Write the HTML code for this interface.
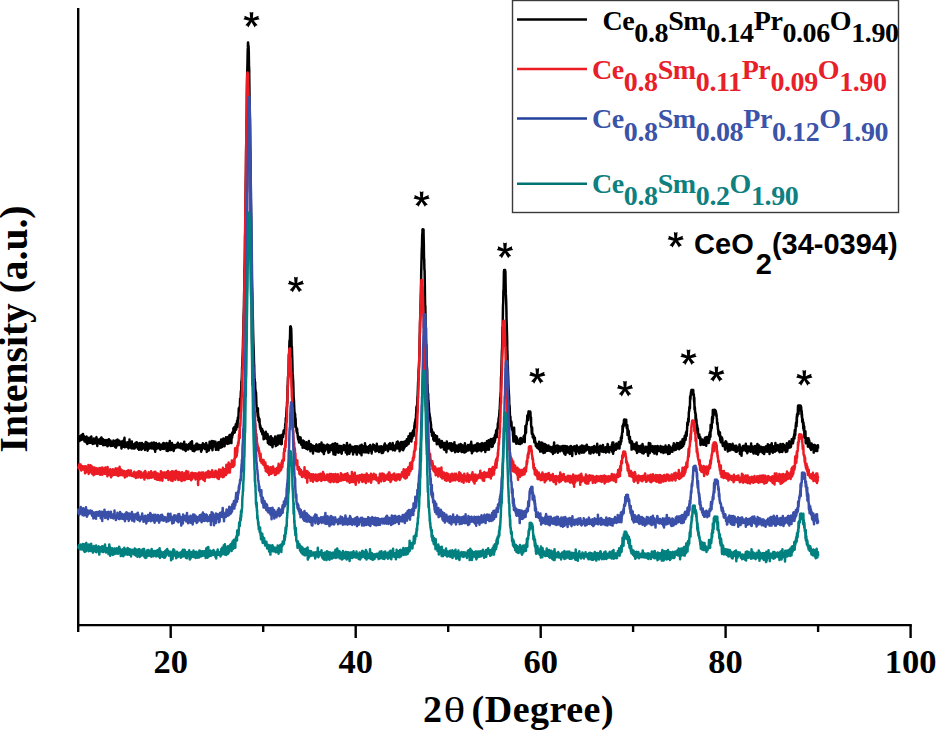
<!DOCTYPE html>
<html><head><meta charset="utf-8"><style>
html,body{margin:0;padding:0;background:#fff;}
body{width:936px;height:731px;overflow:hidden;position:relative;}
svg{position:absolute;left:0;top:0;}
</style></head><body>
<svg width="936" height="731" viewBox="0 0 936 731">
<g stroke="#000" stroke-width="2.4" fill="none" stroke-linecap="butt">
<line x1="78.2" y1="8" x2="78.2" y2="626.2"/>
<line x1="77" y1="625.1" x2="911.8" y2="625.1"/>
<line x1="78.2" y1="625" x2="78.2" y2="632.0"/><line x1="170.7" y1="625" x2="170.7" y2="638.0"/><line x1="263.2" y1="625" x2="263.2" y2="632.0"/><line x1="355.7" y1="625" x2="355.7" y2="638.0"/><line x1="448.2" y1="625" x2="448.2" y2="632.0"/><line x1="540.7" y1="625" x2="540.7" y2="638.0"/><line x1="633.1" y1="625" x2="633.1" y2="632.0"/><line x1="725.6" y1="625" x2="725.6" y2="638.0"/><line x1="818.1" y1="625" x2="818.1" y2="632.0"/><line x1="910.6" y1="625" x2="910.6" y2="638.0"/>
</g>
<g font-family='"Liberation Serif", serif' font-weight="bold" font-size="34.5" text-anchor="middle" fill="#000"><text x="170.7" y="673">20</text><text x="355.7" y="673">40</text><text x="540.7" y="673">60</text><text x="725.6" y="673">80</text><text x="910.6" y="673">100</text></g>
<g font-family='"Liberation Serif", serif' font-weight="bold" font-size="38" fill="#000">
<text x="423" y="722.2">2</text>
<text transform="translate(443.6,722.2) scale(1.26,1)" font-weight="normal" font-size="36">θ</text>
<text x="471.6" y="722.2" letter-spacing="0.5">(Degree)</text>
</g>
<text transform="translate(27.3,329) rotate(-90)" font-family='"Liberation Serif", serif' font-weight="bold" font-size="39.5" text-anchor="middle" fill="#000">Intensity (a.u.)</text>
<g fill="none" stroke-width="2.5" stroke-linejoin="round"><path d="M78.2 438.1l.2 .6 .2-1.1 .2-1.2 .1 .9 .2-1.1 .2 2.2 .2 2.7 .2-3.7 .2-.2 .2 2.3 .1-.3 .2-.4 .2-2.1 .2 1.9 .2 1.5 .2-4.2 .1 1.9 .2-2.9 .2 1.3 .2-1.1 .2 3.3 .2-2.1 .2 3.2 .1-.2 .2-.7 .2-4.7 .2 4.1 .2 1 .2 .4 .2-3.4 .1 2.2 .2-1 .2 .4 .2 3.9 .2-3.8 .2 1.6 .1 1.9 .2-2.9 .2 1 .2 .5 .2-.1 .2-2.6 .2 2.7 .1 2.7 .2-6 .2 5 .2-1.5 .2-1.5 .2 5.4 .2-2.5 .1-4 .2 2.7 .2 1 .2-1.5 .2 1.8 .2-1.5 .1 1.6 .2 1.6 .2-4.3 .2 1.8 .2-1.3 .2 1.2 .2-2.7 .1 1.3 .2 .8 .2 2.3 .2 .5 .2-5 .2 1.1 .2 3 .1-5.4 .2 3.2 .2 .8 .2 2.8 .2-1.1 .2-2.1 .1-.1 .2 .3 .2 3.7 .2-4 .2 .3 .2 1.4 .2-1 .1-.1 .2-1.9 .2 2.3 .2-.8 .2 3.3 .2-1 .2-1.4 .1 1.5 .2-2.1 .2 2.9 .2-2.1 .2 1.2 .2-3.8 .1 3.4 .2-4.2 .2-.7 .2 3.6 .2-1.2 .2 2.2 .2 4.3 .1-6.3 .2 .5 .2 1.7 .2 .7 .2-1.4 .2 0 .2 1.9 .1-.4 .2-3.2 .2 2 .2 .3 .2-2.2 .2 2.7 .1-2.3 .2 3.8 .2-1.6 .2-.1 .2-1.4 .2 1 .2-3.9 .1 1.8 .2 3.1 .2-5.1 .2 6.2 .2-5.3 .2 5.2 .2-3.3 .1 3.4 .2-1.4 .2-3.4 .2 5.8 .2 .4 .2-3.1 .1-.4 .2 .3 .2-1.7 .2 4.3 .2-3.3 .2 1 .2-1.5 .1 .4 .2-1.3 .2 5.2 .2-2.9 .2 2.3 .2-1.9 .2-1.4 .1 .7 .2-.4 .2 1.2 .2-.8 .2 .2 .2-2.2 .1 1.2 .2 5.1 .2-4.8 .2-.7 .2 2.8 .2 2.3 .2-5.9 .1 2.6 .2-.9 .2-2.3 .2 5.2 .2-1.5 .2 .2 .2-1.7 .1 2.5 .2-2 .2 .8 .2-2 .2-.2 .2 5.3 .1-3.8 .2 1.7 .2-.6 .2-.9 .2-.1 .2 2.4 .2-1.9 .1 .3 .2 .4 .2 2.4 .2-1 .2-.6 .2-1.9 .2-1.7 .1 4.8 .2 .1 .2-2.3 .2 1.5 .2 .5 .2 .1 .2 .2 .1-2.8 .2 4.1 .2-5.7 .2 4.3 .2-.7 .2 .8 .1 2.1 .2-.8 .2-5.4 .2-1.1 .2 5.2 .2-3.8 .2 2.1 .1 1.8 .2-5.1 .2-1 .2 4.9 .2-.4 .2-.6 .2 .6 .1-1.8 .2-1.3 .2 2.8 .2-1.7 .2-1.3 .2 4.4 .1-1.1 .2 .9 .2-2.8 .2 .7 .2-.7 .2 .2 .2 2.3 .1-2 .2 2.4 .2-.1 .2 3.5 .2-7 .2 4.7 .2-2 .1 .2 .2-2.9 .2 2 .2 2.5 .2-1.7 .2 .4 .1-.8 .2 3 .2-2.4 .2-4.5 .2 3.2 .2-2.7 .2-2.6 .1 5.6 .2 3.9 .2-2.6 .2-2.5 .2 .5 .2 4.3 .2-2 .1-.2 .2-.2 .2 .2 .2 1.6 .2-.5 .2-.7 .1-2.6 .2 3.2 .2-2.4 .2 3.7 .2-4.9 .2 2.3 .2 .3 .1-2.7 .2 6.3 .2-.5 .2-4 .2 2.6 .2-.8 .2-6.2 .1 6 .2-.7 .2 .4 .2-2.4 .2 1.7 .2 .2 .1 2.8 .2-1.8 .2-.6 .2 3.1 .2-4.3 .2 .4 .2-2.9 .1 7 .2-1.3 .2 0 .2-.5 .2-1.2 .2 .3 .2-1 .1 .1 .2 .6 .2 3 .2-2 .2-1.2 .2-1.1 .1-.1 .2 4.6 .2-2.2 .2-.9 .2-.9 .2-1.5 .2 2.1 .1 2 .2-2.6 .2 .4 .2 0 .2 .7 .2-3.5 .2 2.8 .1-1.3 .2 3.6 .2-3.4 .2 2.8 .2 2 .2-3.8 .1-.6 .2 1.7 .2-.4 .2-2.1 .2 3.1 .2 3.2 .2-4.7 .1 .1 .2-1.7 .2 2.8 .2-3.2 .2 .3 .2 5 .2-4.6 .1 4.2 .2 .9 .2-2.6 .2 .6 .2 2.9 .2-4.4 .1-.8 .2-1.6 .2 2.9 .2 3 .2-1.1 .2-3.9 .2 .2 .1 .7 .2 1.7 .2-1 .2 .8 .2 .2 .2-1.2 .2 .5 .1 .6 .2-.6 .2 1.2 .2 2.9 .2-2.7 .2-1.1 .1-3.6 .2 4.3 .2-4.8 .2 1.1 .2 4.7 .2-.3 .2-1.8 .1-3.2 .2 2.8 .2-.6 .2 2.7 .2 3.4 .2-4.2 .2-2.1 .1-.8 .2 2.3 .2-.2 .2-2 .2 2.6 .2-2.6 .2 4.7 .1-.1 .2 .1 .2-3.3 .2 2.1 .2-1.3 .2-.6 .1 .2 .2-2 .2-.3 .2 4.6 .2-2 .2 .9 .2 1.6 .1-5.7 .2 2 .2 2 .2 .5 .2-1.6 .2 2.9 .2-1.7 .1-3 .2 .6 .2 3.7 .2-.7 .2-4.9 .2 6.7 .1-1.5 .2 1.5 .2-3.6 .2 .2 .2-1.7 .2 7.7 .2-5.7 .1 3.7 .2-4.7 .2 1.7 .2-3.8 .2 2.7 .2 2.9 .2-4.7 .1 4.9 .2-1.5 .2-2.9 .2 1.1 .2 .1 .2 .9 .1-1 .2-.6 .2 1.1 .2-1.5 .2-.6 .2 2.6 .2 2 .1-5.1 .2 3.2 .2-1.3 .2-.7 .2 3.8 .2-2.8 .2 4.2 .1-4.8 .2 2.5 .2-1.3 .2-1.1 .2 2.8 .2-1.5 .1 1.6 .2-1.4 .2-2.1 .2 2 .2 .4 .2 1.9 .2-3.9 .1 1.8 .2-3.5 .2 4.9 .2-3.6 .2-1.5 .2 3.7 .2 2.4 .1-5.5 .2 .9 .2 .8 .2-.8 .2 3.1 .2-2.5 .1 .2 .2 2.8 .2-2.8 .2 2.5 .2-3 .2-.5 .2-1.3 .1 7.8 .2-4.6 .2 1.2 .2-.6 .2 .4 .2-.2 .2 3.9 .1-6.2 .2-1.1 .2 1.2 .2-.7 .2 4.4 .2 .2 .1-3.8 .2-.9 .2 2.2 .2 3.7 .2-8.9 .2 7.1 .2-3.4 .1 4.5 .2-4.5 .2 1.7 .2-2.6 .2 1.1 .2 5 .2-1.2 .1-2.5 .2-1 .2-2.2 .2 3.2 .2 .8 .2-.2 .1 0 .2-2.1 .2 2.2 .2 .1 .2 2.8 .2 1.2 .2-4.2 .1-1.4 .2 1.5 .2-1.1 .2-.3 .2 1.4 .2-2 .2 3.4 .1-1.4 .2 .7 .2-.9 .2-1.2 .2-.4 .2 1.5 .1-.7 .2 1.7 .2-.5 .2-2.9 .2 3 .2-2.9 .2 1.5 .1 .7 .2-3.8 .2 4.6 .2 .1 .2-.6 .2-.6 .2 .1 .1-1.2 .2 1.5 .2-.6 .2 1.3 .2-2.7 .2 3 .1-.2 .2-.6 .2-.6 .2 2.1 .2-4.7 .2 4.5 .2-.4 .1 0 .2 .3 .2-2.2 .2 .8 .2 1.9 .2-.4 .2-.5 .1-3.7 .2 4.4 .2 1.3 .2-.3 .2-1.6 .2-3.8 .1 5.3 .2-2.3 .2-5.1 .2 6.2 .2-4 .2 .4 .2 1.4 .1 4.1 .2-3.5 .2 1.3 .2 3.2 .2-.3 .2-3.7 .2-.2 .1-2.2 .2 1.2 .2 2.4 .2-.1 .2-.6 .2 1.9 .2-3.8 .1 1.5 .2 1.7 .2-.3 .2 1 .2-1.4 .2-1.5 .1 1.4 .2-2.9 .2-1.3 .2 4.7 .2-1.4 .2 .8 .2-4.3 .1 2.9 .2-.5 .2-.6 .2-3 .2 4.1 .2 2.7 .2-1.2 .1-2.1 .2 1.3 .2 1.6 .2-7.5 .2 5.7 .2 1.4 .1 .3 .2 2.2 .2-1.3 .2-1.7 .2-.1 .2 1.1 .2-2.9 .1 1.1 .2 2 .2 2.3 .2-4.6 .2 .3 .2 .5 .2 2.5 .1-3 .2 3.2 .2-5.2 .2 1.7 .2-.1 .2 2.1 .1 .6 .2-5.5 .2 1.3 .2 2.6 .2-2.1 .2-1.9 .2 5.5 .1-1.1 .2 0 .2-2.1 .2 3.2 .2-2.7 .2 2.8 .2-4.3 .1 .1 .2 2.3 .2-2 .2 3 .2-.9 .2-2.6 .1 2.2 .2-1 .2 2.8 .2-3.4 .2 .4 .2 3.6 .2 2.2 .1-.5 .2-4.2 .2 .3 .2 2.9 .2-3.7 .2-1.8 .2 2.4 .1 .7 .2-2.8 .2-1.8 .2 .4 .2 4.6 .2-3.1 .1 1.3 .2 .8 .2 .9 .2-2.1 .2 1.8 .2-3.1 .2 1.2 .1-1.5 .2 4.7 .2-2.5 .2-1.6 .2 .8 .2 .3 .2 2 .1-5 .2 1.2 .2 1.4 .2 6.3 .2-3.4 .2-2.4 .1 1.8 .2 3 .2-5.1 .2-.3 .2 3.5 .2-1.6 .2 .3 .1-2.6 .2 5.4 .2-.5 .2-2.6 .2 .3 .2-6 .2 5.8 .1-1.8 .2 1.4 .2 .5 .2-2.3 .2-3 .2 4.5 .1-2.4 .2 .8 .2-.6 .2 .6 .2-4.4 .2 7.8 .2-2.2 .1 1.9 .2 1.9 .2-4.4 .2-4 .2 1.9 .2-.7 .2 1.6 .1 1.2 .2-4.6 .2 5.1 .2-4.1 .2 4 .2-.9 .1-.5 .2 .5 .2-1.1 .2-.2 .2-2.4 .2 3.6 .2 4.2 .1 .3 .2-1.5 .2-1.5 .2-3.1 .2 4.7 .2-3.4 .2-.1 .1-.5 .2 .8 .2-1.2 .2 .7 .2-2.2 .2 1.5 .1 5.9 .2-5.3 .2-.4 .2 1.7 .2 .3 .2-4.2 .2 2 .1 2.5 .2-1.5 .2-.4 .2 3.2 .2-5.1 .2 1.7 .2-1.5 .1 4.6 .2-7.9 .2 2.8 .2 .3 .2 2.6 .2-.2 .2 1.8 .1-6.9 .2 5.2 .2-2.4 .2-.9 .2 2.6 .2-3.4 .1-2.7 .2 3.8 .2-2.7 .2 1.9 .2 2.3 .2-.3 .2 2.9 .1-4.2 .2-3.2 .2 1.7 .2-.5 .2-.8 .2 3.7 .2-2.6 .1-3.2 .2 6.1 .2-2 .2 1 .2-.7 .2 1.1 .1-1.5 .2 2.7 .2-2.1 .2-.2 .2-.1 .2-4.6 .2 2.9 .1-.3 .2 .9 .2-3.9 .2 7 .2-3.9 .2-3.3 .2-1.4 .1 3.3 .2 .2 .2-1.7 .2 1.8 .2-2 .2 2.6 .1-3.3 .2 1.4 .2 2.3 .2 3.6 .2-9 .2 1.1 .2-1.2 .1 3.7 .2-5.1 .2 1.4 .2 .8 .2-2.7 .2-.3 .2 .9 .1-4.5 .2 1.3 .2 2.2 .2 1 .2-1.3 .2-4.4 .1 2.8 .2 2.8 .2-1.1 .2-2.1 .2-2.6 .2 3.3 .2-3.7 .1-2.1 .2 .3 .2 5.2 .2-3.8 .2 1.7 .2-5 .2 3 .1-4.9 .2 .3 .2 6.2 .2-5.5 .2-4.4 .2 .1 .1 .1 .2 1.2 .2-5.8 .2-4.7 .2 2.7 .2-.6 .2-1.2 .1 1.8 .2-4.5 .2-.4 .2-7.4 .2 3.6 .2 1.4 .2-6.2 .1-4 .2-3 .2 1.9 .2-11.2 .2-1 .2-1.9 .1-3 .2-7.9 .2-2.2 .2-6.8 .2-4 .2-6.6 .2-9.5 .1-2.9 .2-4.1 .2-13.9 .2-5.7 .2-5.6 .2-15.6 .2-5.5 .1-15.2 .2-3.2 .2-7.4 .2-13.5 .2-21.8 .2-10 .1-16.7 .2-14.8 .2-9.1 .2-27 .2-5.3 .2-19.7 .2-8.3 .1-19.1 .2-16.6 .2-7.3 .2-7.8 .2-11.1 .2-3.7 .1-4.9 .1 0 .1 2.4 .2 .6 .2 1.5 .2 6 .2 12.7 .2 3.6 .1 10.7 .2 15.4 .2 19.9 .2 3.6 .2 26 .2 7.5 .2 13.3 .1 24.5 .2 9.2 .2 9.4 .2 17.3 .2 18 .2 13.3 .2 5.7 .1 14.2 .2 11.6 .2 5 .2 12.8 .2 7.3 .2 6.4 .1 7.7 .2 8.9 .2 6.4 .2 4.1 .2 6.1 .2 10.1 .2 2 .1 6.6 .2 5.1 .2 1.9 .2 8.7 .2-6 .2 7.9 .2-.4 .1 9 .2 2 .2-8.3 .2 5 .2 6.8 .2 2.2 .2 1.6 .1-.6 .2 3 .2 2 .2-.6 .2 4.4 .2-7.8 .1 9.1 .2-3.4 .2 6.4 .2-2.2 .2-.8 .2 4.3 .2-2.6 .1 .9 .2-1 .2 4.9 .2 2.1 .2 2 .2-2.4 .2 3.8 .1-2.1 .2 .3 .2 2.2 .2 1.8 .2-3.1 .2 .8 .1 .7 .2 1 .2-2 .2 5.3 .2-3.2 .2 2.5 .2-2.8 .1 3.3 .2 .4 .2-1.6 .2 6.4 .2-3.8 .2 3.7 .2-1.7 .1-3.7 .2 .9 .2 2.3 .2-.7 .2 .3 .2-.6 .1-3.5 .2 4.1 .2-4.7 .2 6.5 .2-2.4 .2 .2 .2 1.4 .1 1.3 .2-3.9 .2-.6 .2 1.8 .2-2.2 .2 2.8 .2 6.3 .1-6.3 .2 4.3 .2-4.7 .2 4.1 .2-1.4 .2 .8 .1 1.6 .2 2.9 .2-3.6 .2-.1 .2-2.5 .2 3.8 .2-1.9 .1 2.7 .2-2 .2 4.3 .2-8.8 .2 4.1 .2 2.9 .2-2.9 .1-1 .2 1.3 .2-2.5 .2 3.5 .2 5.6 .2-3 .1-5.3 .2 .6 .2 1.1 .2 3.4 .2-4.3 .2 .3 .2 3.8 .1-.1 .2-2.9 .2-1.7 .2-1 .2 2 .2-3.6 .2 7 .1-3.2 .2 2.6 .2 3.2 .2-1.6 .2-5.5 .2 4.7 .1 .6 .2-4.5 .2-.5 .2 1.9 .2-3.5 .2 7.2 .2-9.2 .1 3 .2 1.9 .2 0 .2 .8 .2 .2 .2-1.2 .2 3.1 .1-7.9 .2 4.9 .2-1.8 .2 1.9 .2 0 .2-2.8 .1 .5 .2 3.2 .2-1.2 .2-2.7 .2 6.3 .2 .4 .2-9.3 .1 4 .2 5.1 .2-4.5 .2-1.7 .2-1.4 .2-1.2 .2 .4 .1-1.2 .2 2.7 .2-3.3 .2-.7 .2-2.4 .2 2.2 .1-2.8 .2 1 .2 2.3 .2-2.6 .2-.6 .2-1.4 .2-2 .1-1.7 .2-1.9 .2 1.2 .2-6.6 .2 4.6 .2-5.5 .2-4.4 .1-1.8 .2-3.2 .2-.6 .2-5.7 .2 1.8 .2-9.3 .1-8.5 .2 .2 .2-8.5 .2 1.1 .2-1.7 .2-6.6 .2-11.7 .1-3.8 .2 2.7 .2-10 .2-6.1 .2-1 .2 .7 .2-7 .1-6.1 .1-1 .1 1.4 .2-1.4 .2 0 .2 2.2 .2-.5 .2 6.6 .1 4.9 .2 12.2 .2-5.2 .2 7.8 .2 5.4 .2 7.4 .1 7.3 .2 .4 .2 4 .2 2.4 .2 6.6 .2 8.5 .2 2.5 .1 .6 .2 5.2 .2 4.2 .2 4.1 .2-.4 .2 3.4 .2-2.1 .1 3.8 .2 9.2 .2-8.4 .2 6.4 .2 2.8 .2-.2 .1 0 .2 3 .2 1.1 .2 .7 .2-3.7 .2 5.1 .2-1.1 .1 1.4 .2 2.6 .2 1.5 .2 1.2 .2-3 .2 3.9 .2 1.1 .1 .3 .2 .9 .2-3.3 .2 .3 .2 2.7 .2-4.9 .1 4 .2-1.5 .2 .6 .2-2.9 .2 2.2 .2 2.3 .2 2.3 .1 .4 .2-2.3 .2 0 .2-1.4 .2 3.1 .2-1.4 .2 2.1 .1 2.8 .2-3.9 .2-3.3 .2 1.6 .2-1.2 .2 .7 .1 5.8 .2-2.3 .2-3.9 .2 5.1 .2 1.4 .2-3.5 .2-.7 .1 .9 .2 1.5 .2 .9 .2 1.3 .2 .1 .2 0 .2 .5 .1-1.5 .2-4.9 .2 3.2 .2 1.1 .2-1.5 .2 3 .1-2.8 .2-1.2 .2 5.3 .2-1.7 .2-.9 .2 1.6 .2 .4 .1-1.6 .2-6.2 .2 4 .2 .6 .2-1.1 .2 2.6 .2 2.3 .1-3.7 .2-1.4 .2 7 .2-5.4 .2-1.7 .2 3.3 .1 .4 .2-2.4 .2 3.3 .2-2.8 .2-.9 .2 2.4 .2 1.4 .1-3.1 .2 2.2 .2-.9 .2 6.4 .2-7.7 .2 4.6 .2-3.1 .1-.2 .2 1.9 .2 .4 .2 .8 .2-2 .2-2 .1 .2 .2 2.3 .2 .1 .2 1.8 .2-2.1 .2 1.4 .2 1.1 .1-3 .2-3.5 .2 .6 .2-.5 .2 6.6 .2-5.3 .2 4.6 .1-1.4 .2 2.4 .2-1.5 .2-2.4 .2-.2 .2 .7 .1 .2 .2-1.5 .2 1.1 .2 3.5 .2-7.1 .2 4.2 .2-2.5 .1 2.4 .2 1.4 .2-1.9 .2 1.8 .2-5.1 .2 5.9 .2-3.7 .1 2.6 .2-.9 .2-6 .2 4 .2 2.1 .2 2.9 .1-2.7 .2-.1 .2-3.6 .2 6.2 .2 .8 .2-3.8 .2-.6 .1-3 .2 5.4 .2 4 .2-4.3 .2 1.2 .2-1.6 .2-3.2 .1 5 .2-5.5 .2 2.2 .2 1 .2 1.3 .2-1 .2 0 .1-2.5 .2-1.1 .2 2.9 .2-1.6 .2-1.3 .2 .1 .1 1.7 .2-3 .2 1.1 .2-.6 .2 3.9 .2 .5 .2 3.4 .1-7.5 .2 1.8 .2 3.4 .2-2.4 .2-.2 .2 4.3 .2-4.3 .1-1.8 .2-.3 .2 3.5 .2 0 .2-3.6 .2 .8 .1 3.3 .2 .1 .2-2.6 .2 2.7 .2-.1 .2-5 .2 3.1 .1 1.6 .2-2.1 .2-3.4 .2 4 .2 2.2 .2 1.8 .2-8.1 .1 10.3 .2-8 .2 4.5 .2 .6 .2-.6 .2-1.7 .1-2.8 .2 3.8 .2-2.9 .2-3.8 .2 11.4 .2-4.5 .2 2.3 .1-5.8 .2 5.1 .2 .3 .2-.1 .2-3.4 .2-2.5 .2 2.2 .1-4.3 .2 1.1 .2 3.8 .2-2.3 .2 1.8 .2 .1 .1 4.3 .2-1.3 .2-2.9 .2 2.7 .2-4.2 .2 .9 .2 2.7 .1-4.6 .2 2 .2-2.2 .2 3.1 .2 3.2 .2-5 .2 2 .1-2.4 .2-.5 .2-.2 .2 5.8 .2 1.9 .2-4 .1-2.5 .2 3 .2-2.2 .2 2.4 .2-1.1 .2 0 .2 .7 .1-2.5 .2 .3 .2-2.8 .2 2.8 .2-2.1 .2 2.7 .2-1.7 .1 2.2 .2 .8 .2-4 .2 1.3 .2-.3 .2 3.6 .1 2 .2-1.8 .2-2.5 .2 3.8 .2-6.3 .2 6.4 .2-4.6 .1-4.5 .2 11.6 .2-2.3 .2-5.6 .2 2.6 .2-.8 .2 .7 .1-3.4 .2 1.7 .2 2.4 .2-.5 .2 2.1 .2-2.4 .1 4.8 .2-6.5 .2 2.1 .2-4.6 .2 1.4 .2 5.5 .2-4.9 .1 3.2 .2-1.3 .2-2.1 .2 1.5 .2-.3 .2 0 .2 2.7 .1-.3 .2-2.6 .2-.7 .2 2.6 .2-.9 .2 2.4 .1 3.5 .2-3.9 .2-1.8 .2-.3 .2-1.5 .2-.1 .2-.2 .1 1.3 .2 0 .2 2.4 .2-2.4 .2 .4 .2-2.1 .2 6 .1-2.4 .2 2.8 .2-2.2 .2 1.5 .2-3.7 .2 2.1 .1 4.2 .2-8.3 .2 5.1 .2 1.1 .2-2.7 .2 .7 .2 1.1 .1-4.2 .2 2.3 .2-2.7 .2 .4 .2 .1 .2 1 .2 .7 .1 .6 .2-4 .2 7.4 .2-1.8 .2-1 .2-2.3 .2 .6 .1 1.3 .2-.3 .2-4.5 .2 5.3 .2 4.7 .2-10.4 .1 6.2 .2-1.4 .2-1 .2 3.2 .2-5.5 .2 2.9 .2 2.8 .1-3.6 .2-.5 .2 1.2 .2-1.2 .2 4.3 .2-5.4 .2 3.9 .1-4.6 .2 4.2 .2-1.7 .2-5.4 .2 5.6 .2-2.3 .1 1.3 .2 4.4 .2-5.8 .2 .1 .2 5.4 .2-2.8 .2 3.1 .1-2.7 .2-2.6 .2 1.7 .2 2.9 .2-.7 .2-2 .2 .1 .1-.4 .2-1 .2 5.5 .2-4.2 .2-2.5 .2 1.4 .1 2.7 .2-.2 .2-1.7 .2-1.2 .2 1.5 .2-3.7 .2 .8 .1 4.6 .2-2.8 .2 1.9 .2 1.8 .2-1.3 .2-1.3 .2 4.6 .1-3.2 .2-2.3 .2 2.4 .2-.7 .2-2.8 .2 2.1 .1-.6 .2-3.9 .2 3.9 .2-.2 .2-.4 .2-2.6 .2 2.8 .1 .7 .2 .3 .2-2.7 .2 3.8 .2-4 .2 2.1 .2 3.4 .1-4.4 .2 .4 .2 3.5 .2-3.2 .2 .2 .2 1.1 .1 1.8 .2-7.2 .2 3.1 .2-.4 .2-.2 .2 .5 .2 0 .1 2.5 .2-2.6 .2 2.2 .2 .6 .2-2.5 .2 1.9 .2 3.3 .1-2.9 .2-2.1 .2 1.3 .2-1.9 .2 2.6 .2 1.3 .1-3.7 .2 1.3 .2 2.9 .2-3.5 .2 1.4 .2-2.6 .2 .4 .1 .7 .2 5.8 .2-5.6 .2-.3 .2 0 .2 .8 .2 1.8 .1-1 .2 4 .2-4 .2 2.6 .2-2.5 .2 .7 .1-4.4 .2 2.8 .2 .1 .2-.4 .2-4.1 .2 6.5 .2-2.7 .1-.1 .2 .4 .2 0 .2 1.4 .2-3.7 .2 .7 .2 2.7 .1-.4 .2-1.1 .2-.4 .2-.6 .2 1.6 .2 2.7 .1-4.8 .2 5.5 .2-1.5 .2-2.8 .2 2.7 .2-4.9 .2-.6 .1 .9 .2 1.9 .2 .2 .2-.4 .2 1.3 .2-4.9 .2 5.7 .1-4.2 .2 1.7 .2 .5 .2-1.7 .2-.4 .2 .7 .1 2.2 .2 1.3 .2-.1 .2-3.4 .2 .4 .2-.3 .2 3 .1-5.5 .2 7.1 .2-3.8 .2-.6 .2 2.4 .2 1.5 .2-1.5 .1 1.5 .2-2 .2 2.3 .2 0 .2-2.9 .2 3.3 .1-2.8 .2-.2 .2-2.3 .2 1.4 .2 2.3 .2-4.6 .2 4.3 .1-.7 .2-.2 .2-5.6 .2 4.7 .2 1.6 .2-3.2 .2 1.9 .1-5.5 .2 6.7 .2-3 .2 3.4 .2-6.1 .2 5.6 .2-2.1 .1 2.2 .2-3.9 .2 .7 .2 6.3 .2-6.9 .2 .2 .1 .9 .2-1.7 .2 4.9 .2 1.1 .2-5.5 .2-2.3 .2 6.4 .1-.2 .2-.7 .2 .7 .2-4.6 .2 1.5 .2-2.8 .2-.2 .1 5.4 .2-3.9 .2 6.7 .2-5.1 .2-1.7 .2 3.2 .1 2.2 .2-3.1 .2-4 .2 3.5 .2 2.2 .2-4.4 .2-.7 .1 4 .2-2.1 .2-3 .2 1.5 .2-1 .2 2.3 .2-.5 .1 2.2 .2-1.1 .2-5.5 .2 4.5 .2 1 .2-1.2 .1 1.2 .2-3.9 .2-1.1 .2 4.2 .2-4.9 .2-2.8 .2 7.4 .1-4.4 .2 .8 .2-2.9 .2 0 .2 .1 .2 1.7 .2 1.4 .1-6.7 .2 7.1 .2-5 .2 0 .2 3.9 .2-2.2 .1-3.9 .2 7.9 .2-7.1 .2 2.4 .2-.6 .2 2.6 .2-5.1 .1 3.1 .2-4.9 .2 4.1 .2-5.3 .2 .4 .2 5.1 .2-4.7 .1-1.3 .2 4.7 .2-5.6 .2-3.9 .2 3.1 .2-6 .1 5 .2-.9 .2-5.9 .2-1.5 .2 .8 .2-2 .2-4.3 .1 2.4 .2-9 .2 2.3 .2-2.1 .2-2 .2-1 .2-7.2 .1 2.2 .2-5.5 .2-5 .2-6 .2-3.6 .2 .2 .1-8.9 .2-1.9 .2-2.4 .2-5.9 .2-4.5 .2-12.7 .2-9.6 .1-.4 .2-10.1 .2-5.2 .2-12.2 .2-4.3 .2-9.8 .2-9.1 .1-9.2 .2-8.6 .2-8.4 .2-7.2 .2-3.4 .2-11.1 .1 4.3 .2-9.2 0 3.3 .2-3.3 .2 0 .2 6.4 .2-6.4 .2 0 .1 6.5 .2 7.2 .2 15.9 .2-.1 .2 10.5 .2 1 .2 13.4 .1 9.6 .2 12.4 .2-.4 .2 12.6 .2 6.9 .2 3.1 .1 10.6 .2 6.1 .2-.1 .2 15.5 .2 5.6 .2 2.3 .2 2.3 .1 13.3 .2 .7 .2 6.3 .2 4.9 .2-2.2 .2 7.1 .2-.1 .1 3.3 .2 2.5 .2 2.6 .2 5.3 .2-.8 .2 1.1 .1 1.4 .2 3.3 .2-1.9 .2 2.5 .2 2.5 .2-.2 .2 2.3 .1-.2 .2 7.8 .2-.9 .2-1.4 .2-.5 .2 6.5 .2-4.1 .1-.3 .2 1.6 .2 .6 .2 3.3 .2-3 .2 5.8 .2-6.9 .1 4.3 .2-3.7 .2 7.4 .2-4.9 .2 1 .2 2.8 .1 1.2 .2-5.4 .2 2.1 .2-2.2 .2 4 .2-.3 .2-.3 .1-.5 .2 1 .2-.7 .2 3.3 .2 2.6 .2-8 .2 4.5 .1-.5 .2 2.4 .2-3.2 .2 2 .2-1.9 .2 4.3 .1-1.3 .2-.4 .2 1.4 .2-1.3 .2-2.9 .2 5.1 .2-.6 .1-.9 .2 2.8 .2 .7 .2-5.3 .2 .9 .2 5.4 .2-.2 .1-4.8 .2-.9 .2 1.3 .2 .4 .2-2.4 .2 3.8 .1-2.9 .2 .3 .2 4.9 .2-3.6 .2 1.5 .2 1.7 .2 .5 .1-2.6 .2 1 .2-1.9 .2 5.9 .2-2.5 .2-3.9 .2 2.6 .1 1.7 .2-.5 .2 3.1 .2-1 .2-4.2 .2 1 .1-2.6 .2 3.5 .2-.2 .2 5.8 .2-5.8 .2-4.9 .2 3.2 .1 1.8 .2-3 .2 .9 .2 1.2 .2 1.6 .2-1.1 .2-1.5 .1 3.7 .2-2.9 .2 .1 .2-1.9 .2 1.4 .2 3.2 .1-5 .2 3.4 .2 1.8 .2-2.4 .2 1.4 .2-3 .2 5.4 .1-.4 .2-1.9 .2-4.4 .2 1.6 .2 4.5 .2 1.7 .2-3.1 .1 2.1 .2-4.1 .2 1 .2 .4 .2 1 .2-4.3 .1 5.4 .2 .9 .2-5.4 .2-.4 .2 3.7 .2-2.2 .2-3.7 .1 7 .2-1.4 .2-1.4 .2 5.7 .2-4.3 .2-2 .2 1.9 .1-2.5 .2 .7 .2 2.5 .2-2.1 .2 .3 .2 4.6 .1-1.7 .2-.1 .2-.6 .2-.1 .2 2.1 .2-3.2 .2 4.1 .1-6.1 .2 1.5 .2-2.4 .2 2.2 .2 1.9 .2 2.1 .2-4.6 .1 1.4 .2-.7 .2-.9 .2-.9 .2 2.7 .2-3.9 .1 4 .2-.2 .2-1.4 .2-.8 .2-.8 .2 7.1 .2-7 .1 6.3 .2-2.1 .2-2.1 .2-1.7 .2 4.8 .2 1.5 .2-5.8 .1 1.4 .2 2.9 .2-1.5 .2 3.6 .2-5.6 .2 2.4 .1-3.8 .2 7.2 .2-6.1 .2-3.2 .2 4.5 .2 0 .2 4.4 .1-4.9 .2 .8 .2 1.3 .2 2.1 .2-3.6 .2 2.4 .2-1.1 .1-1.8 .2 .9 .2-.2 .2-2 .2 4.6 .2-5.6 .2 5.5 .1-.5 .2-2.2 .2-1.5 .2 1.2 .2 1.5 .2 .6 .1-1 .2 1.5 .2-3.4 .2 1.8 .2-4 .2 5.1 .2-1.3 .1-1.3 .2 3.4 .2-1 .2-7.6 .2 6.2 .2-3.3 .2 5.5 .1 3.1 .2-6.6 .2 1.3 .2-.7 .2 1.3 .2 .7 .1 1.3 .2-4.9 .2 5.5 .2-5.4 .2 2.6 .2 1.9 .2-1 .1-3.6 .2 .5 .2 .5 .2 .9 .2 2.6 .2-5.3 .2 3.8 .1 .3 .2-.1 .2-.2 .2 2.3 .2-2.3 .2 .8 .1-.7 .2 2.7 .2-8.1 .2 7 .2-3.4 .2-.1 .2-1.5 .1-2 .2 3.2 .2-.7 .2 2.6 .2-4.3 .2 6.3 .2-2.6 .1-1.1 .2-1.1 .2-.2 .2-.7 .2 1.2 .2 1.2 .1-.4 .2-2.8 .2 2.5 .2-1.4 .2 2.3 .2 3.8 .2-2.8 .1-2.1 .2-3 .2 .5 .2-.7 .2 5.3 .2-3.3 .2 1.8 .1-1.6 .2 1.6 .2 2.9 .2-4.7 .2 .7 .2-1.1 .1 3.7 .2-4.3 .2-.3 .2-.6 .2-.1 .2 4.2 .2 4.6 .1-8 .2 4.3 .2-1.6 .2-3.2 .2 1.8 .2 .1 .2-1.1 .1 5.8 .2-8.7 .2 5.1 .2-.2 .2-2.2 .2 1.6 .1 1.6 .2-1.7 .2 .5 .2 .5 .2-6.3 .2 7.9 .2 1.7 .1-3 .2-.1 .2-5.6 .2 2.8 .2-1.7 .2 .4 .2 3.4 .1-4.2 .2 1.4 .2-4.3 .2 3.9 .2 .5 .2-2.1 .1-.2 .2 5.9 .2-7.4 .2 .2 .2 .3 .2 4.5 .2 2 .1-4.5 .2-2.7 .2 .4 .2 3.3 .2-5 .2 5.4 .2-.4 .1-3.6 .2 1.1 .2-.1 .2 1.6 .2-6.8 .2 5.1 .1-4.3 .2-1.4 .2 1.6 .2-1.3 .2-2.5 .2-2.1 .2 1 .1 5.4 .2 .5 .2-4 .2 .5 .2-5.2 .2 .2 .2-.1 .1-4.7 .2-1 .2 1.6 .2-2.5 .2-3.6 .2 2.2 .1-3.6 .2 1.5 .2-5 .2-3.2 .2-1.4 .2-3.7 .2-4.5 .1-2.7 .2-.3 .2-4.3 .2-2.5 .2-13.6 .2-1.2 .2-5.6 .1-4 .2-8.3 .2-6.9 .2-2.8 .2-9.3 .2-12.1 .2 .7 .1-9 .2-13.3 .2-2.7 .2-12.8 .2 0 .2-10.7 .1-7.1 .2-2.1 .1 0 .1 0 .2 0 .2 0 .2 0 .2 0 .1 4.3 .2-2.8 .2 13.1 .2 9.2 .2 3.5 .2 4.7 .2 8.1 .1 7.7 .2 6.2 .2 7.4 .2 6.2 .2 14 .2 2.8 .1 9.6 .2 2.2 .2 6.7 .2 4.6 .2 6.9 .2 5.7 .2 2.5 .1 1.2 .2 3.4 .2 10.3 .2-2.5 .2 2.8 .2 7.4 .2 1.3 .1 .6 .2-.6 .2 9.2 .2-3.6 .2 1.9 .2-.5 .1-2 .2 1.4 .2 5.6 .2 1 .2-.7 .2-1.6 .2 .2 .1 3.5 .2-2.1 .2 6.6 .2 1.2 .2 4.7 .2-4.3 .2-3.2 .1-.2 .2-5.9 .2 7.5 .2 1.4 .2 3.1 .2-.5 .1 .3 .2-.6 .2 1.3 .2 2.2 .2-5.8 .2 1.7 .2-2 .1 7.4 .2-.5 .2-1.2 .2-4.4 .2 3.4 .2-.8 .2 .9 .1-.5 .2 1.8 .2-2.1 .2 3.1 .2-1.4 .2-1.1 .1 .5 .2-.7 .2 3 .2-2.5 .2 1.3 .2-1.6 .2-2.5 .1 5.6 .2-4.6 .2 4.1 .2-.7 .2-4.9 .2 1.7 .2 .9 .1-.8 .2-.9 .2 4.4 .2-2.4 .2 1.3 .2-2.1 .1 1.6 .2-2.8 .2 1.5 .2 1.2 .2-1.6 .2-1.5 .2-1.9 .1 2.6 .2 0 .2-2 .2-1.8 .2 2.6 .2 4.1 .2-7.6 .1 .8 .2-.8 .2-8.4 .2 5.8 .2-3.3 .2 4.2 .1-5.5 .2-2.7 .2 .1 .2-.5 .2-3.4 .2-.2 .2-5 .1 1.5 .2 1.3 .2 2 .2-4.7 .2-2.2 .2 1.7 .1-3.7 .1 4.5 .1-2 .2-2.5 .2 .3 .2 .2 .2 .9 .2 .5 .1-1.7 .2-.2 .2 2.9 .2-2.3 .2 7.2 .2 1.3 .2-3 .1 7.8 .2 2 .2-.6 .2 5.5 .2 1.8 .2-6.5 .2 6.9 .1-.4 .2 1 .2 2.3 .2-3.2 .2 1.2 .2 .2 .1 .9 .2 2.3 .2-2.6 .2 1.5 .2 4.4 .2-1 .2 1.5 .1-4.9 .2 2.9 .2 .9 .2 1.7 .2-1.1 .2 3.8 .2-2.1 .1 .4 .2 .2 .2 1.8 .2-2.5 .2 3.8 .2-1.3 .2-.6 .1-.1 .2 1.3 .2 1.2 .2 0 .2-1.2 .2 1.2 .1-1.6 .2 2.7 .2-2.8 .2-4.5 .2 7.7 .2-2.6 .2-2.8 .1 2.2 .2-1.4 .2 6.7 .2-3.5 .2-4.5 .2 4.7 .2-2 .1 5.1 .2-6.4 .2-2.6 .2 5.1 .2-.8 .2-.1 .1-3.8 .2 5.7 .2 2.8 .2-7.8 .2 6.7 .2-3.7 .2 6.4 .1-4.2 .2-1.3 .2 2.9 .2-1.3 .2-2.4 .2 2.9 .2-2.6 .1-2.8 .2 8.4 .2-5.2 .2-.5 .2 2.1 .2-4.1 .1 .4 .2 1.9 .2 0 .2 1.3 .2 2.3 .2-3.4 .2 2.1 .1 .2 .2-3.6 .2 2.9 .2-2.6 .2 4.4 .2-1.3 .2-.9 .1-2.9 .2 3.1 .2-1.9 .2 3.2 .2-1.7 .2-1.5 .1 3.7 .2-.4 .2-2.8 .2 3.8 .2-3.1 .2 0 .2 .9 .1-1.9 .2 .7 .2 .6 .2 3.7 .2-.1 .2-3.8 .2 4.1 .1-3.6 .2 .9 .2 1.1 .2-1.2 .2 4.5 .2-4.6 .1-3.1 .2 5.4 .2-3.7 .2 .3 .2-5.8 .2 8.6 .2-.4 .1 0 .2 .3 .2 1.6 .2-3.7 .2 2.1 .2-3.6 .2 .8 .1 3.1 .2-1.5 .2-3.6 .2 3.6 .2-1.2 .2-1.3 .1 2.7 .2-1.8 .2-2.5 .2 1 .2 6.1 .2-6.9 .2 3.7 .1 .8 .2 .1 .2-4 .2 1.9 .2 1 .2 1.4 .2-3 .1-1.1 .2 4.6 .2 .2 .2-1.6 .2-2 .2 2.1 .1-.6 .2 1.5 .2-4.4 .2 2.9 .2-.5 .2-2.1 .2 2.9 .1-.4 .2-1 .2 1.8 .2-3.9 .2 2.9 .2 1 .2-.3 .1 1.7 .2-4.8 .2-.6 .2 3.7 .2 .4 .2 3.5 .1-3.1 .2-3.2 .2 3.6 .2-3.5 .2-1.4 .2 8.7 .2-4.8 .1 .8 .2-.3 .2 2.6 .2-3.2 .2 2 .2-4.8 .2-.7 .1 5.9 .2 .1 .2-2 .2-.6 .2-.1 .2-1.8 .1 4.7 .2-1.9 .2-.3 .2-.3 .2 1.4 .2-1.1 .2 .5 .1-4 .2 3.5 .2 3.6 .2-5.7 .2 .8 .2 2.1 .2 .2 .1-.7 .2-4.7 .2 4.4 .2-3.5 .2 .7 .2 2.9 .2-1.7 .1 2.3 .2 4.9 .2-5 .2-.1 .2-3.4 .2 .5 .1-.8 .2 1.1 .2-1.2 .2 .9 .2 1 .2-1.7 .2-.9 .1 .1 .2 3.9 .2-.9 .2 2.1 .2 0 .2-2.9 .2 2.1 .1-4.4 .2 7.8 .2-2.3 .2-2.9 .2-2 .2 3.2 .1-4.7 .2 2.3 .2 3.2 .2-1.4 .2-1.2 .2 3 .2-4.1 .1 2.7 .2-1.6 .2-.7 .2 2.7 .2-3 .2 6 .2-5.2 .1 5.4 .2-6.5 .2 3.6 .2-3.8 .2-.3 .2 3.2 .1 1.1 .2-4.1 .2 5.1 .2-4.1 .2 1.9 .2 .5 .2 .5 .1-5 .2 7.1 .2-2.2 .2-2 .2-1.3 .2-1.4 .2 .7 .1 4 .2-1.9 .2-1.6 .2 1.2 .2 4.4 .2-3.9 .1-.6 .2 4.1 .2-1.9 .2-.9 .2-1.3 .2-2 .2 .8 .1 1.4 .2 .6 .2 1.2 .2 .4 .2-.7 .2 0 .2-2.6 .1-2.4 .2 3.5 .2-.9 .2 .6 .2 .8 .2-2.1 .1 .3 .2 2.1 .2 .5 .2-1.6 .2 2.4 .2-1.5 .2-1.7 .1 2.2 .2 3.9 .2-5.4 .2 3.9 .2 .4 .2 .3 .2-4.9 .1 6 .2-4 .2-.8 .2 .1 .2 1.7 .2-1.2 .1-.4 .2 3 .2-4.2 .2-.7 .2 3.9 .2-.2 .2 .8 .1-4.5 .2 4.5 .2-1.3 .2 2.7 .2-6.3 .2 3.1 .2-1.1 .1-2.7 .2 1.8 .2 3.9 .2-3.4 .2-.5 .2 3.3 .1 .3 .2 0 .2-3.8 .2 1.6 .2 2.3 .2-3.6 .2-.2 .1 3.3 .2 1.6 .2-5.7 .2-3.1 .2 2.4 .2 .9 .2 1.9 .1 1.6 .2-1.6 .2-1.2 .2 1.8 .2-2.4 .2 2 .1-1.3 .2 7 .2-3.9 .2-3.5 .2-.4 .2 1.2 .2-2.5 .1 1.9 .2 0 .2 3.4 .2-2.8 .2-.8 .2-1.1 .2 .3 .1 2.3 .2-.3 .2 2.9 .2-3.8 .2 3.6 .2-1.7 .1-.6 .2-4.2 .2 1.5 .2 4.3 .2 1.4 .2-2.6 .2 1.2 .1-2.5 .2 .1 .2-.6 .2 3.4 .2-1.3 .2-1.2 .2-.3 .1 1.9 .2-.5 .2-2.4 .2 5.3 .2-3.1 .2-.5 .1 3.1 .2-1 .2-2.3 .2 1.3 .2-3.5 .2 .9 .2-3.4 .1 7.4 .2-6.7 .2 5.5 .2-3.2 .2-.4 .2 1.7 .2 1 .1 .7 .2 2.4 .2-3 .2 1.1 .2-3.2 .2 2.8 .2-1.2 .1-1.4 .2 .8 .2 0 .2 .6 .2 .4 .2-2 .1-.5 .2 3.2 .2-5.3 .2 2.2 .2 4.7 .2-9.2 .2 4.3 .1 2.9 .2-5.1 .2 9.2 .2-11.3 .2 8.7 .2 .2 .2-1.4 .1-2.6 .2 1.2 .2-2.7 .2 3.6 .2-4.3 .2 1.8 .1 2.7 .2-4.7 .2 1.6 .2 1.1 .2-3.4 .2 5.4 .2-1.9 .1-4.2 .2 3.1 .2-1.7 .2 .1 .2 1.5 .2-1.9 .2 3.6 .1-3.9 .2 3.6 .2-2.5 .2 1.9 .2-3.4 .2-.2 .1-1.8 .2 3.7 .2 .5 .2 2.4 .2-2.3 .2-2.8 .2-1.5 .1 .9 .2-1.5 .2 3 .2-1.8 .2-5 .2-.3 .2 4.2 .1-3.5 .2-2.2 .2 2.6 .2-5 .2-.8 .2-1.6 .1-5 .2 6 .2-6.6 .2 .4 .2-1.7 .2 2.6 .2-3.3 .1-.8 .2-2.8 .2 .7 .2-.7 .1 0 .1 .8 .2-.8 .2 4.9 .1-4 .2 .4 .2-.8 .2-.4 .2 3.7 .2 1.2 .1-5 .2 6.7 .2-.4 .2 2.2 .2-.1 .2-3.3 .2 1.4 .1 8.8 .2-2.8 .2-3.1 .2 5.5 .2-.8 .2-2.7 .2-.1 .1 2.6 .2 5.3 .2 0 .2 .2 .2 1.9 .2 1.4 .1-5.8 .2 4.7 .2-.7 .2-.5 .2 1.9 .2 1.4 .2 0 .1-2.4 .2 2.5 .2 6 .2-6.8 .2-1.2 .2 4.7 .2 .9 .1-.2 .2-3.4 .2 4.9 .2-3.8 .2-.6 .2 1.3 .1 1.2 .2 1.9 .2-.1 .2-1.3 .2 2.2 .2-1.8 .2 1.8 .1-4.9 .2-.3 .2 5.2 .2-4.7 .2 2.5 .2 .5 .2-.8 .1 .1 .2 4.1 .2-8.5 .2 7.4 .2 3.1 .2-4.8 .1-.1 .2 1.7 .2 2.4 .2-6.5 .2 2.8 .2-.6 .2 1.7 .1-.9 .2 1.1 .2-2.3 .2 1.1 .2-1.6 .2 .1 .2 1.1 .1 0 .2-2.2 .2 6 .2-3.7 .2-2.6 .2 5.3 .1-3.9 .2 2.7 .2-1.1 .2 .5 .2-.1 .2-1.6 .2 1.3 .1 4.3 .2-9.1 .2 4.9 .2 .8 .2-3.1 .2-.7 .2 7.5 .1-5.3 .2 5.2 .2-3.3 .2-1 .2 .9 .2 .3 .2 1.2 .1-1.6 .2-.6 .2 .1 .2 2.5 .2-1.1 .2-3.9 .1 .8 .2 2.1 .2-2.1 .2 .6 .2-1.3 .2 1.5 .2 1.5 .1 1.2 .2-2.1 .2 4.4 .2-4.6 .2 7 .2-4.7 .2-1 .1-2.2 .2-4.9 .2 5.7 .2 .7 .2 3.7 .2-7 .1 7 .2-4.6 .2 2.1 .2-7 .2 5.7 .2-1 .2 2.2 .1-1.3 .2-2.6 .2 4.4 .2-.5 .2-.2 .2 .9 .2 .2 .1-2.4 .2-2.8 .2-.1 .2 5.8 .2-1.4 .2-1.3 .1-1.1 .2 1 .2 0 .2-.8 .2-.8 .2 6.1 .2-4.1 .1-1.8 .2-1.4 .2 1.2 .2 3 .2 .1 .2-2.1 .2 .6 .1-.7 .2-1.8 .2 5.2 .2-2 .2 4.4 .2-6.8 .1 1.3 .2 2.2 .2-2.4 .2-2.5 .2 1 .2 2.2 .2 .5 .1-.9 .2 2.3 .2 0 .2-1.5 .2-.6 .2-.6 .2 1.7 .1 .8 .2-1.9 .2 .9 .2-1.7 .2-2.3 .2 .9 .1 3.7 .2-.7 .2 2.5 .2-3.3 .2 1.7 .2 1 .2-.7 .1-3.5 .2 .9 .2 .7 .2-2.4 .2 3.1 .2 1.2 .2-3.2 .1 5.2 .2-4.9 .2 .2 .2-.1 .2-1 .2 2.4 .1-.8 .2 3.5 .2-2.3 .2-.2 .2-1.6 .2-2.6 .2 2.9 .1-1.7 .2 3.9 .2-2.2 .2 3.7 .2-2 .2 .2 .2-1.3 .1-.1 .2 .9 .2 .6 .2-3.5 .2 2.5 .2 4.6 .1-5.8 .2-.4 .2-1 .2-1.6 .2 5.6 .2-2.4 .2 .5 .1 3.3 .2 1.4 .2-7.3 .2 4.1 .2-.9 .2-.5 .2 .1 .1-1.1 .2 3.5 .2-2.1 .2-.6 .2 1.9 .2-.8 .1-1 .2-.3 .2 3.1 .2-2.8 .2-1.3 .2-1.7 .2 1.1 .1-1.6 .2 2.5 .2 .3 .2-5.1 .2 4.5 .2 1.3 .2-1 .1-2.5 .2 4.8 .2-4.4 .2-1.2 .2 .3 .2 2.3 .1 2.1 .2 .4 .2-2.2 .2-3.1 .2 1.1 .2-.6 .2 1.5 .1-3.6 .2 4.2 .2 1.1 .2-1.9 .2 1.3 .2-3.2 .2-1.2 .1 1.8 .2 3.9 .2-.4 .2-3.4 .2 3.6 .2-3.5 .2 4 .1-2.4 .2-2.2 .2 2.7 .2-3.7 .2-.5 .2-1.3 .1 3.8 .2-.9 .2-.2 .2-.9 .2 4.1 .2-4.4 .2-.9 .1 4.3 .2 .3 .2-2.7 .2-5.1 .2 2.4 .2 2.6 .2-1.7 .1 3.4 .2-7.2 .2 4.5 .2-3.4 .2 4.3 .2-3.7 .1 2.2 .2-4.4 .2-2.3 .2 .2 .2 .6 .2-1.5 .2 4.8 .1-.3 .2-3.3 .2-4 .2 1.4 .2-2.3 .2 4.5 .2-3.8 .1-.6 .2-3.4 .2-5.4 .2 1.9 .2-2.2 .2 2.4 .1-2.2 .2-4 .2-.5 .2 3.5 .2-8.7 .2-1.8 .2 0 .1-3.3 .2-1.3 .2 .6 .2 1.4 .2-12 .2 3.1 .2-1.8 .1-2.1 .2-1.9 .2-1.9 .2 2.7 .2-4.6 .1 0 .1 0 .1 0 .2 0 .2 1.8 .2-1.8 .2 0 .2 0 .2 0 .1 0 .2 0 .2 4.9 .2-1.2 .2 .6 .2 5.5 .2 2.6 .1-4.8 .2 11.8 .2-2.9 .2 1.6 .2 5.1 .2-.9 .1 0 .2 9.4 .2-7.2 .2 4.3 .2 4.1 .2-3.6 .2 4 .1 2.7 .2 6.5 .2-7.4 .2 3.3 .2 2.9 .2-.5 .2-2.3 .1 5 .2 0 .2 1.6 .2 2.4 .2 .4 .2-.9 .1 .3 .2-2.9 .2 2.8 .2 1.3 .2-1.1 .2 1.6 .2-1.8 .1 6 .2 1.8 .2-5.9 .2 2.2 .2-1.3 .2 3.8 .2-1.8 .1-.6 .2-.6 .2 1 .2-2.5 .2 4 .2-3.1 .1 3 .2-.8 .2 2.3 .2-2.5 .2 2.5 .2-4.6 .2 3.7 .1-2 .2 1 .2-.3 .2 2 .2-6.9 .2 5.4 .2-4.3 .1 6.3 .2-7.5 .2 2.2 .2-1.7 .2 7.7 .2-7.1 .1 3.2 .2-1.7 .2-3.2 .2 3.3 .2 2.1 .2-2.2 .2 2.4 .1-3.4 .2 .5 .2-1.3 .2 1.4 .2 3.3 .2-4.2 .2-.9 .1-2.5 .2-1 .2 4.9 .2-7.1 .2-.2 .2 1.2 .1-1.7 .2 5.1 .2-11.9 .2 5.9 .2-.1 .2-5.9 .2 0 .1 1.6 .2 1.9 .2-8.1 .2-3.1 .2 5.5 .2 .1 .2-6.4 .1-6.3 .2 8.7 .2-5.7 .2 2.6 .2-4.2 .2-1.4 .2 0 0 0 .1 3.7 .2-3.7 .2 0 .2 4.3 .2-4.3 .2 0 .1 .4 .2 .3 .2 .8 .2-.2 .2 1.4 .2 .6 .2 3.3 .1-2 .2 2.7 .2 1.6 .2 5.2 .2-1.2 .2 0 .2 3 .1 .9 .2 3 .2-.3 .2 4.5 .2-.1 .2-2.5 .1 .1 .2 4.2 .2 0 .2-.7 .2-2.6 .2-.1 .2 6.1 .1 1.6 .2 .7 .2-4.4 .2 6.1 .2-3.3 .2 2.7 .2 .5 .1-2.5 .2 .9 .2-3.1 .2 3 .2-1.7 .2 5.5 .1-.6 .2 2.2 .2-1.1 .2-2 .2 2.4 .2-1.4 .2 2.4 .1-.5 .2-2.8 .2 2.4 .2 .3 .2-.7 .2 2.9 .2 1.9 .1-4.5 .2 .1 .2-4.1 .2 4.8 .2-.6 .2-3.7 .1 5.5 .2 .8 .2-2.9 .2 .9 .2-1.2 .2 3.9 .2-5 .1 2.7 .2 5.1 .2-4.2 .2 1 .2-1.3 .2-2.2 .2 2.6 .1 1 .2-3.1 .2 3.1 .2 2 .2-.4 .2-5.7 .1 1.3 .2-1.3 .2 5.9 .2-1 .2 .3 .2-3.4 .2-.6 .1 2.7 .2 .1 .2-2.1 .2 2.2 .2 1.2 .2-.9 .2-2.7 .1-2.3 .2 4 .2 .9 .2-.8 .2-.4 .2-.5 .1 3 .2-1.6 .2 .4 .2-2.3 .2 .7 .2 1.7 .2-2.5 .1-.5 .2 2 .2 3.3 .2-2.1 .2 2.7 .2-3.4 .2-.3 .1-2.3 .2 1.7 .2 4.4 .2-2.4 .2 .9 .2-.1 .1-1.5 .2-.4 .2 .7 .2 1.2 .2-.4 .2 .1 .2-.8 .1-1.9 .2 1.1 .2-1.5 .2 4.2 .2-6.6 .2 4 .2 5.6 .1-5.8 .2-1.7 .2 2.4 .2 2.8 .2-3.1 .2 1.7 .1-1.1 .2-1 .2 7.5 .2-6.6 .2-1.2 .2 .1 .2 1.8 .1 .1 .2 .8 .2-1.4 .2-3.3 .2 4.2 .2-1.8 .2 .1 .1-2.6 .2 2 .2-.4 .2 1.5 .2-3 .2 3.2 .1 .2 .2-2.7 .2 1.1 .2-.5 .2 3.7 .2-7.2 .2 4.6 .1-2.8 .2 2.6 .2 2.7 .2-3.1 .2 1.7 .2-2.1 .2 5.9 .1-2.2 .2 .5 .2-5.2 .2 .5 .2 4.6 .2-2.7 .2-.1 .1 1.2 .2-3.3 .2 4.2 .2-1.6 .2 1 .2-2.4 .1 2.5 .2-2.6 .2 3.5 .2 .4 .2-.4 .2-.9 .2 .3 .1-7.1 .2 7.5 .2-2.3 .2 .7 .2-.7 .2-2.4 .2 1.8 .1 2.5 .2 1.6 .2-4.3 .2-.5 .2 4.9 .2-4.9 .1 6.2 .2-4.2 .2-2 .2 3.9 .2 1.5 .2-6.5 .2 6.3 .1-3.9 .2 3.7 .2-3.9 .2-2.5 .2 4.3 .2 .9 .2 2.5 .1-.8 .2-2.2 .2-1.9 .2-.6 .2 .5 .2-1.2 .1 1.2 .2-4.8 .2 5.8 .2-.5 .2 5.5 .2-3.8 .2-2.6 .1 2.2 .2-3.8 .2 1.3 .2-2.6 .2 6.9 .2-1.8 .2-3.7 .1 2.4 .2 2.1 .2-1 .2-.2 .2-2.6 .2 .4 .1 1.6 .2 1.7 .2-3.7 .2-.6 .2 4.8 .2-4.4 .2 4.2 .1-1.7 .2 1.3 .2 1.8 .2-2.2 .2 .2 .2-3.6 .2 .5 .1 2.8 .2 1.9 .2-.3 .2 1.9 .2-4.2 .2-.2 .1 1.7 .2-2.1 .2-.2 .2-2.1 .2 4.3 .2-4.3 .2 3.3 .1-4.1 .2 5.3 .2-4.4 .2 3.9 .2-5.1 .2 2.4 .2 3.4 .1-4.2 .2 1.8 .2-1.1 .2-3.9 .2 5.5 .2 .3 .1-3.3 .2 3.6 .2-2.9 .2-.4 .2 2.1 .2-1.5 .2 6.3 .1-8.1 .2 4.8 .2 .5 .2-6.3 .2 .6 .2 4.8 .2-2.2 .1 1.8 .2 1.6 .2-3.2 .2-1.5 .2-3.5 .2 6.2 .1-2.4 .2 2.6 .2-.2 .2-3.4 .2 6.6 .2-1.4 .2-.5 .1-4.3 .2 1.6 .2-.3 .2 .3 .2-1.5 .2 3.3 .2-.5 .1 .3 .2-1.8 .2 3.8 .2-2.4 .2-6.2 .2 4.4 .1 1.3 .2 2.1 .2-2.7 .2 .1 .2-.9 .2 2.8 .2-2.3 .1-.4 .2-.3 .2 2.8 .2-2.4 .2-2.5 .2 4.9 .2-2.8 .1 2.2 .2 .1 .2 1.7 .2-.3 .2-3.5 .2 .8 .1-2.4 .2 6.4 .2-2.7 .2 2 .2-3.7 .2-3.8 .2 7.7 .1-3.1 .2 .1 .2-.2 .2 1.2 .2-.2 .2-4.7 .2 5.8 .1-3.5 .2 .1 .2 4.7 .2-1.8 .2-2.8 .2-3.3 .2 4.4 .1 .7 .2-1.3 .2-2.6 .2 .9 .2-1 .2 3.1 .1 1.3 .2 .4 .2-3.9 .2 2.1 .2 .6 .2-2.4 .2 .8 .1 4.9 .2-4.3 .2 1.4 .2-2.9 .2 .9 .2-3.9 .2 3.6 .1 2.7 .2 1.9 .2-2.1 .2-1.2 .2-1.5 .2-1.6 .1 .9 .2 1.6 .2-3.2 .2 3.7 .2-4.4 .2-2 .2 1.6 .1-1.6 .2 .5 .2 5.5 .2-3.2 .2 .8 .2 1.9 .2 .1 .1-4.3 .2 4 .2-2.5 .2-1.1 .2 .7 .2-4.7 .1 1.2 .2 1.2 .2 1.4 .2-2.8 .2 .2 .2 2.1 .2 .6 .1-2.1 .2 .7 .2-4.7 .2-.4 .2 .8 .2-2.2 .2-1.3 .1 4.5 .2-5.5 .2-2.9 .2 2.7 .2 2.3 .2-5.6 .1 1.8 .2-5.5 .2-1.5 .2-1.9 .2 .1 .2 3.8 .2-9.4 .1 6 .2-8.7 .2 .6 .2 1.5 .2-2 .2-2.3 .2-6.3 .1 4.1 .2-4.1 .2 8.3 .2-8.3 .1 0 .1 0 .2 0 .1 0 .2 1.9 .2-1.9 .2 1 .2-1 .2 0 .2 4.5 .1-4.5 .2 0 .2 4.5 .2-3.3 .2 3 .2 4.9 .2-3.5 .1 5.9 .2-3 .2 7.3 .2 .8 .2-3.4 .2 2 .1-.3 .2 4.1 .2 3.7 .2-5.5 .2 7.3 .2-4.6 .2 2.3 .1-1.3 .2 10.9 .2-4.2 .2 1.4 .2-1.5 .2 5.1 .2-7 .1 5.9 .2 6 .2-5.7 .2 1.6 .2 2.1 .2-3.1 .1 2.5 .2 2.7 .2-1.4 .2 .8 .2-1.3 .2 1.9 .2-.3 .1 3.6 .2-1.5 .2-1.9 .2-4.9 .2 7.5 .2 .4 .2-3.7 .1-2.2 .2 2.1 .2 4.9 .2-4.4 .2 1.6 .2 1.6 .1 2.4 .2-2.6 .2-.1 .2-.9 .2 5 .2-1.1 .2-2.5 .1-2.8 .2 1.4 .2 3.2 .2-2.8 .2 3.6 .2-1.1 .2 0 .1 .8 .2-.2 .2-3 .2 1.3 .2 5.9 .2-7.7 .1 1.6 .2 3.5 .2-2.7 .2-1.3 .2-1.1 .2 4.1 .2 1.1 .1 .9 .2-2.9 .2 2.2 .2-4.5 .2 2.7 .2-1.8 .2 1.8 .1 1.3 .2 .8 .2-4.5 .2 5 .2-3.8 .2-1.1 .1 1.8 .2-2.7 .2 3.2" stroke="#000000"/><path d="M78.2 467.8l.2-.9 .2 1.5 .2-1.7 .1 .7 .2-2.9 .2 3.1 .2-1.8 .2 .8 .2 .8 .2 .6 .1-3.7 .2 .2 .2 2.6 .2 1.6 .2-.2 .2 1.2 .1 .8 .2-1.6 .2-1 .2-2 .2 .2 .2 1 .2 1.5 .1 0 .2-.4 .2-.3 .2 1.6 .2-.8 .2 .2 .2 .1 .1-1.8 .2-.9 .2 3.1 .2-.1 .2-1.3 .2-.3 .1 5.5 .2-6.2 .2 1.2 .2 1 .2-2.9 .2 2.7 .2 3.5 .1-1.8 .2-.6 .2 0 .2-1 .2 1.8 .2-2.3 .2-.5 .1 1.1 .2 1.7 .2-1.1 .2 .7 .2-5.5 .2 6.6 .1 2.4 .2-2 .2-3.4 .2-1 .2 2.3 .2-2.6 .2 3.6 .1-2.5 .2 3 .2 .9 .2-7 .2 4.9 .2-2 .2-1.5 .1 1.7 .2 .8 .2 2.6 .2-5.2 .2 5.3 .2 2 .1-2.9 .2 0 .2-1.1 .2-2.4 .2 3.5 .2-.2 .2 .7 .1 3.8 .2-3.8 .2-.5 .2 2.3 .2-5.9 .2 .4 .2 1.6 .1-.5 .2 2.8 .2-2.1 .2 4.3 .2-.4 .2-1.6 .1-2.3 .2 2.1 .2 .4 .2-3.8 .2 2.9 .2 .8 .2-1 .1 2.8 .2-.7 .2-4.2 .2 2 .2-1.9 .2 2.9 .2-2.9 .1 3.7 .2-1.1 .2 1.2 .2-2.3 .2-2.6 .2 6.6 .1-3.9 .2 3.2 .2-1.9 .2 .5 .2 2.4 .2-3.1 .2 2.3 .1-6 .2 4.9 .2-2.3 .2 .3 .2 .3 .2 .7 .2 2.8 .1-7.2 .2 3.9 .2-1.6 .2 3.9 .2-3.2 .2 1.8 .1-1.7 .2 2.2 .2 .7 .2-2.8 .2 .9 .2-3 .2 3.6 .1 1.1 .2-2.8 .2 3.4 .2-6.5 .2 .5 .2 .9 .2 1.9 .1 1.1 .2-.2 .2 0 .2 1.7 .2-2.4 .2-1.7 .1 .1 .2 6.9 .2-9.1 .2 4.5 .2 3.4 .2-2 .2-2.7 .1 1.7 .2 1.8 .2 .8 .2-4.4 .2 3.5 .2-1 .2 1.7 .1 .6 .2-3.5 .2-2.3 .2 3.9 .2 2.8 .2-2.2 .1-.9 .2 4.5 .2-7.1 .2 4 .2-3 .2 1.3 .2 .1 .1 3 .2-5.1 .2 .9 .2-2.2 .2 4.3 .2-1.9 .2 1.8 .1-3 .2 1.5 .2 2.9 .2-2.5 .2 1.7 .2-.2 .2-1.8 .1-2.5 .2 5.3 .2-1.7 .2 1.7 .2-6.2 .2 .8 .1-1 .2 2.6 .2 4 .2-.9 .2-1.3 .2 .4 .2 1.3 .1-2.2 .2 1.5 .2-.5 .2-4.8 .2 3.7 .2 3.7 .2-3.6 .1 .5 .2-.9 .2 .2 .2 3.4 .2-2.9 .2-1.5 .1-4.3 .2 5.2 .2-2.8 .2 .3 .2 5.4 .2-.1 .2-5.5 .1 5.8 .2-.8 .2-2.6 .2 3.2 .2-4.9 .2 .9 .2-.4 .1 .6 .2 4.2 .2-4.6 .2 .4 .2 .4 .2 2.4 .1-1.1 .2 2.5 .2-3.2 .2-1.2 .2 1.7 .2 1.1 .2-2 .1 2.5 .2 3.2 .2-4.9 .2 1.3 .2 2.7 .2-4.1 .2-.4 .1-.5 .2 3.1 .2 .2 .2-1.3 .2 .4 .2 2.5 .1-.8 .2-4.7 .2 2.9 .2 .3 .2 1.3 .2-2 .2-.8 .1 .4 .2-2.8 .2 3.7 .2-1.2 .2 2.2 .2-3 .2 1.2 .1-1.1 .2-.2 .2 3.7 .2-2.4 .2 1.9 .2-3.3 .1 2.6 .2-3.7 .2 2.5 .2 0 .2 2.2 .2-.8 .2-.7 .1 2.1 .2-1.3 .2 .7 .2 .5 .2-1.7 .2-.5 .2 1.3 .1-1.5 .2 1.7 .2 1.5 .2-.5 .2-2.6 .2-1.8 .1 2.5 .2-.1 .2 2.5 .2-3 .2 .3 .2 2 .2-2.5 .1 .7 .2 3.9 .2-.5 .2-1.7 .2-.8 .2-2.5 .2 3.1 .1-1 .2 .4 .2-1.5 .2 1 .2-.3 .2 1 .1 2.3 .2-2.2 .2-4.1 .2 1.4 .2-1.3 .2 1.7 .2 2.8 .1-.3 .2-2.1 .2 1.8 .2-2.1 .2-1.3 .2 0 .2 1.1 .1 4.8 .2-5.7 .2 5.3 .2 .2 .2-3.1 .2 .3 .1-1.2 .2 1.3 .2 1.4 .2-1.3 .2 2 .2 .4 .2-1.7 .1 0 .2-.8 .2 .8 .2-3 .2 3.2 .2-.4 .2-2.3 .1 6.3 .2-6.5 .2 .3 .2 2.4 .2-4.6 .2 2.4 .1-1.6 .2 1.2 .2 1.8 .2 .9 .2 1.6 .2-.6 .2 .8 .1-1.2 .2-2.2 .2 3.3 .2-3.3 .2-.3 .2 4.5 .2-1.5 .1-1.2 .2 1.1 .2 .3 .2-4.7 .2 2.7 .2-2.3 .2 2.8 .1-1.7 .2 4.2 .2-1.7 .2-2.8 .2 1.7 .2-2.5 .1 2.6 .2 1.1 .2-.6 .2-4.5 .2 3.3 .2 1.8 .2-.4 .1 1.7 .2-5 .2 3.7 .2-2.4 .2 1.8 .2 .4 .2 .6 .1-2.6 .2 1.6 .2-2.8 .2-.5 .2 4.1 .2-1.3 .1-3.2 .2 1.6 .2 1.8 .2 3.2 .2-1.1 .2-.5 .2-5.3 .1 3.5 .2 1.2 .2-.2 .2 .1 .2-1.4 .2 4.2 .2-.6 .1-3.3 .2-1.8 .2 6.3 .2-5.4 .2 3.7 .2 1.5 .1-6 .2 2.6 .2-1.3 .2 1.8 .2-.4 .2 3.4 .2-2.8 .1-1.3 .2 2.4 .2-2.9 .2-.2 .2 5.4 .2-6.3 .2 .7 .1 1.1 .2-2.3 .2-2.2 .2 6.6 .2-3.8 .2 .5 .1 .3 .2-1.2 .2-.2 .2 2.6 .2 4.7 .2-3.5 .2 0 .1-4.7 .2 3.1 .2-2.4 .2 4.1 .2-2.1 .2 .6 .2-.3 .1-1 .2-2 .2 4.4 .2-4.1 .2 .5 .2 1.8 .1-.8 .2 2 .2 1.6 .2-1.6 .2-.1 .2-.4 .2 1.8 .1-5.7 .2 4.7 .2-2.8 .2-.6 .2 2.6 .2-.8 .2 2 .1 1.1 .2-7.2 .2 4.8 .2 4.2 .2-2.2 .2 1.2 .1-2.8 .2-3.3 .2 .7 .2 3.9 .2 .5 .2-3.6 .2 1 .1 1.1 .2-4.2 .2 3 .2 4.1 .2 1.2 .2-4.8 .2 4.1 .1-5 .2-.6 .2-3 .2 6.7 .2-2.8 .2 5.8 .1-4.3 .2-.3 .2-4.2 .2 7 .2-3.9 .2 .4 .2-4.3 .1 6.6 .2 .1 .2-3.3 .2 1.5 .2 .6 .2 1.2 .2-1.8 .1 3.4 .2-4.1 .2-.8 .2 .3 .2-4.4 .2 3.7 .1 3.8 .2-1.5 .2-2.3 .2 2.5 .2-5 .2 3.6 .2 1.7 .1 .4 .2-3.1 .2 3.6 .2 2 .2-4.9 .2 2.5 .2-4.8 .1-.9 .2 5.4 .2-1.2 .2 .4 .2-1.7 .2 .6 .1 2.4 .2 1.9 .2-4.1 .2-3 .2 6.2 .2-1.5 .2 .2 .1-1 .2 4.5 .2-4.8 .2 1 .2-5 .2 2.7 .2-.3 .1 1.4 .2 .8 .2-2.3 .2 5.3 .2-6 .2 1.3 .1 1.5 .2-3.2 .2 3.9 .2 .1 .2-1.9 .2 4.7 .2-3.9 .1 .4 .2-2.6 .2-1.6 .2 2.3 .2 .6 .2-.3 .2 2.6 .1-6.7 .2 2.7 .2-1.5 .2 6.8 .2-4.1 .2 .1 .2-1.3 .1 4.3 .2-2.8 .2 1.4 .2-4.9 .2 6.9 .2-1.7 .1 .4 .2 1.4 .2-3 .2 0 .2 1.9 .2-.6 .2-1.4 .1 .6 .2-1.2 .2 2.6 .2 .5 .2-2 .2 4 .2-7.3 .1 2.8 .2 4.1 .2-4.5 .2-2.6 .2 6.4 .2-1.8 .1-3.7 .2 4.2 .2-3.9 .2-.6 .2 2.5 .2-.7 .2-1.3 .1 1.5 .2-1.3 .2 2.2 .2-.1 .2 1.6 .2-2.6 .2-1.9 .1 .1 .2 2.3 .2 3.8 .2-1.5 .2-3.2 .2 3.4 .1-4.5 .2 4.7 .2-3.1 .2 2.5 .2-.3 .2-2 .2 1.3 .1-3 .2 2.2 .2 2.5 .2 6.5 .2-7.4 .2-1.3 .2-2.4 .1 4.5 .2-5.9 .2 1.8 .2 2.5 .2-3.4 .2 6 .1-1 .2-3.6 .2 0 .2-1.6 .2-.2 .2 4 .2 .4 .1-.6 .2-.2 .2-1.8 .2 1.9 .2-4 .2 3.3 .2 3.1 .1-.3 .2-3.9 .2 .3 .2 3.7 .2 .9 .2-7.2 .1 2.3 .2 1.5 .2 2.1 .2-4.5 .2 3.2 .2-2.1 .2 5.9 .1-4.3 .2-1.2 .2-.5 .2 3 .2-.8 .2-3.9 .2 2.9 .1-3.5 .2 1.3 .2-1.2 .2-.1 .2 1.4 .2-.7 .1 3.3 .2 .6 .2-2.3 .2-1.9 .2 4.2 .2-6.3 .2 .2 .1 5.9 .2-.2 .2 .7 .2-2.7 .2-2.3 .2 1.6 .2 2.4 .1-3 .2 .2 .2-1.6 .2 .5 .2 4.4 .2-.9 .1-3.6 .2 .2 .2 1.1 .2 2.4 .2-3.8 .2 2.2 .2-4.4 .1 1.9 .2 3.7 .2 1.1 .2-4.6 .2 .8 .2 3.5 .2-2.7 .1-.4 .2 2.4 .2-.8 .2 2 .2-.7 .2-3.1 .1 1 .2 .1 .2-3 .2 .9 .2 4.3 .2-5.8 .2 5.8 .1-1.6 .2-1 .2 1.4 .2-.1 .2 1.6 .2-3.7 .2 .4 .1-.1 .2 4.7 .2-2.1 .2-4.3 .2 1.3 .2-.9 .1 1.6 .2 .4 .2 4.7 .2-9.4 .2 6.4 .2-1.4 .2-2.6 .1 1.2 .2-.9 .2 1.2 .2 2.1 .2-5.8 .2 6.4 .2-3.9 .1 4.2 .2-2.5 .2 1.8 .2-1.6 .2 1.1 .2-2.4 .2-2.1 .1 3.4 .2 0 .2 3.1 .2-9.5 .2 4 .2 2.9 .1-5.5 .2 2.3 .2 5.4 .2-1.7 .2-5.5 .2 5.3 .2-.7 .1-1 .2-1 .2-.5 .2-2.7 .2 .8 .2 2.8 .2-1.5 .1 3.9 .2-5.3 .2-5 .2 4.8 .2 1.3 .2 .1 .1-.9 .2-2.3 .2 5.4 .2-5.3 .2 3.1 .2-2.5 .2-2.3 .1 6 .2-9.5 .2 3.8 .2 2.9 .2-2.1 .2 2.5 .2-2.3 .1-1.1 .2 6.2 .2-6 .2-.1 .2-2.5 .2 .6 .1 3.2 .2-.5 .2-1.6 .2-2 .2 3.1 .2-6.2 .2 3.1 .1-.1 .2-1.8 .2 2.1 .2-2.3 .2-.7 .2 6.1 .2-3 .1 .7 .2-3.3 .2 1.9 .2-.9 .2 .7 .2 2.4 .1-7.1 .2 .8 .2-1.4 .2-9.5 .2 4.9 .2 3.1 .2 .9 .1-3.8 .2 3.8 .2-.3 .2-5.2 .2 4 .2 .1 .2-4.3 .1-4.8 .2 5.6 .2-5.3 .2-1.7 .2 .3 .2-3 .1 3.2 .2-2.1 .2-.2 .2-3.2 .2-5.4 .2 .1 .2 1.2 .1-5.6 .2 7.6 .2-11.3 .2-3.3 .2 2.6 .2-3.8 .2-5.1 .1-3.7 .2-1.3 .2-2.3 .2-4 .2-7.4 .2-2.2 .1-3.5 .2-5.4 .2-18 .2 1.1 .2-6.2 .2-5.1 .2-6.1 .1-5.5 .2-9.6 .2-11.8 .2-9.2 .2-4.1 .2-19.8 .2-8.3 .1-7.5 .2-17.6 .2-22.9 .2-4.6 .2-17.6 .2-13.8 .1-10.4 .2-17.6 .2-18.1 .2-9.8 .2-16 .2-14.6 .2-11 .1-10.6 .2-11.2 .2-6.9 .2-2 0-.1 .2 0 .2 5 .2-3.6 .1 6.6 .2 7.3 .2 10.4 .2 11.3 .2 12.9 .2 10 .1 21.9 .2 8 .2 22.4 .2 3 .2 18.5 .2 23 .2 9.7 .1 11.7 .2 17.2 .2 7.2 .2 16.2 .2 2.9 .2 17.1 .2 9.4 .1 13.6 .2 9.9 .2 2.3 .2 16 .2-.2 .2 1.8 .1 5.2 .2 18.5 .2 .1 .2 3.2 .2 4.2 .2 3.2 .2 11.5 .1-.7 .2 9 .2-2.8 .2-3.5 .2 12.2 .2-1 .2 2.7 .1 7.4 .2-3.2 .2 6 .2-1.5 .2-.4 .2 5.1 .2-1.6 .1 6.5 .2 .6 .2-1.3 .2 2.7 .2 1 .2-1.2 .1 4.2 .2-2.1 .2 3.2 .2-3.3 .2 3.7 .2 1.6 .2-2.4 .1 1.7 .2 .4 .2 3.9 .2-3.1 .2 3.6 .2 3.4 .2-2.4 .1-4.6 .2 5 .2 2.8 .2-2.9 .2 4 .2-.8 .1 0 .2-1.4 .2-.2 .2 1 .2 1.2 .2 1.5 .2 .1 .1-1.5 .2 1.2 .2 1.1 .2-4.7 .2 2.4 .2 .2 .2 1.8 .1 0 .2 .3 .2-1.2 .2 4 .2-.8 .2-4.4 .1 4.2 .2-2.6 .2 7.1 .2-5.1 .2 .4 .2 1.3 .2-.5 .1 .5 .2 4 .2-3 .2 1.6 .2 .8 .2-4.9 .2 6.5 .1-2.2 .2 .7 .2-4.2 .2 4.1 .2-.8 .2-2.2 .1 6.8 .2-4 .2-1.8 .2 1.1 .2 1.8 .2 .6 .2-1.2 .1 1.5 .2 .7 .2-6.3 .2 1.8 .2-1 .2 2.5 .2 3.2 .1-1.8 .2-4 .2 1.9 .2 3.1 .2-3.6 .2 1 .1 1 .2-5 .2 6.2 .2-1 .2 .5 .2-3.6 .2 .5 .1 .4 .2 2 .2-.5 .2 .2 .2 3.9 .2-1.2 .2-4.8 .1 .1 .2 5.6 .2-4.8 .2 3.9 .2 .5 .2-5.1 .1 .6 .2 .8 .2-2.3 .2-.4 .2 1.3 .2 2.9 .2-3.2 .1 .5 .2-.7 .2-2.3 .2 6.7 .2-9.3 .2 3.9 .2 2.8 .1-4.9 .2 4.6 .2 1.4 .2-5.2 .2 2.3 .2-3.4 .1 3.7 .2-1.3 .2 .1 .2 2.5 .2-2.5 .2 1.8 .2-2.1 .1-4.8 .2 3.1 .2 .2 .2-5.3 .2 6.4 .2-3.7 .2 .2 .1-3.8 .2 1.7 .2-.1 .2-2.4 .2 .1 .2-6.6 .1 7.9 .2-7.6 .2-4.1 .2 1.8 .2-1.3 .2 2 .2-5.8 .1 1.2 .2-5.6 .2 6.3 .2-7.3 .2 1 .2-11.6 .2 1.3 .1-8.5 .2 .5 .2-4.1 .2-11.5 .2-3.7 .2-5.4 .1-6.6 .2-3.3 .2-6.6 .2-7.5 .2-.7 .2-4.1 .2-11.4 .1-2.1 .2-2.1 .2-3.8 .2-1.3 0 0 .2 2 .2-.4 .2-1.6 .1 9.8 .2 2.5 .2-3.1 .2 5.7 .2 9.7 .2-1 .2 9.7 .1 4.8 .2 3.4 .2 7.1 .2 1.4 .2 8.4 .2 .6 .1 17.4 .2 2 .2 3.2 .2 1 .2 5.4 .2 4 .2 2.1 .1 2.4 .2-2.6 .2 5.9 .2-.5 .2 .1 .2 1.9 .2 5.7 .1 3 .2-5 .2 9.2 .2 .4 .2-3.7 .2 .7 .1 1.8 .2 3.4 .2-2.7 .2-1.1 .2 4.2 .2-5.3 .2 5.9 .1 3 .2-1.6 .2 1.6 .2-.3 .2 .9 .2-1 .2-2 .1 1.8 .2 .7 .2 3.4 .2 1.2 .2-2.6 .2-2.6 .1 .3 .2 1.6 .2 3.9 .2-2.3 .2-.7 .2-1.5 .2 4 .1-1.2 .2-.6 .2 .5 .2 3.8 .2-4.1 .2 4.4 .2-.9 .1-2.6 .2 2.1 .2-2.2 .2-1.5 .2 1.4 .2-1.4 .1 3.4 .2-1.1 .2 1.4 .2 .7 .2-8.9 .2 7.9 .2-4.7 .1 4.5 .2-2.3 .2 2.3 .2 2.9 .2-6.8 .2 4.3 .2-.5 .1-4 .2 5.7 .2-1.3 .2-1.1 .2-.4 .2 8.8 .1-8 .2-3.1 .2 2 .2 1.3 .2 0 .2 .8 .2-2.1 .1 3.5 .2-2.2 .2-1.9 .2 1.3 .2 .9 .2 2.8 .2-.7 .1-1.8 .2 .8 .2 .5 .2 4 .2-5.8 .2 2.4 .1 .6 .2-3.6 .2 2.5 .2 0 .2-1.4 .2 2.3 .2 1.1 .1 .2 .2-2.9 .2 .9 .2 4.8 .2-7.6 .2 3 .2 1.4 .1-1.5 .2 1.1 .2-1.1 .2 1.3 .2 1.2 .2-3.2 .1 .9 .2-.5 .2-.8 .2 .9 .2-2.4 .2 4.1 .2 2.1 .1 0 .2-.9 .2-4.9 .2 5.5 .2-4.9 .2 1.5 .2 4.1 .1-6.3 .2 4.2 .2-1.2 .2-1 .2-1.5 .2 2.8 .1-1.9 .2 3.3 .2 .4 .2-5.6 .2 1.9 .2 .4 .2-1.8 .1 .1 .2 2.6 .2-.6 .2-3.1 .2 2.4 .2 2.3 .2-3.7 .1 .6 .2 5.5 .2-.6 .2-6.3 .2 .5 .2 3.8 .1-3.4 .2 2.1 .2-.5 .2 2.2 .2-6.6 .2 .7 .2 2.1 .1 4.8 .2-2.5 .2-3.3 .2 4.7 .2 .5 .2-2 .2-.2 .1 1.7 .2 1.6 .2-2.2 .2 .8 .2-1.2 .2-.7 .2-1.2 .1 2.5 .2-1.1 .2 .1 .2 2.5 .2-.9 .2 .8 .1-5.2 .2 4.5 .2-2.4 .2-.5 .2-.1 .2 4.5 .2-.8 .1-3.3 .2-.9 .2 2.4 .2-1 .2 4.6 .2-6.7 .2-.8 .1 3.4 .2 .6 .2 .2 .2 1.4 .2 2.8 .2-5.2 .1-.4 .2-2.6 .2 4.3 .2 1.3 .2-2.4 .2 3.1 .2-2.4 .1 3.1 .2-2.5 .2-2.9 .2 .9 .2-1.9 .2-.5 .2 4.3 .1 1.3 .2 2.3 .2-4.3 .2-.3 .2-1.9 .2 4.5 .1-1.3 .2-2.1 .2 2.8 .2-.3 .2-5.2 .2 5.6 .2-1.3 .1-1.1 .2-.1 .2 4.6 .2-.4 .2 .6 .2-6.3 .2 1 .1 3.4 .2-4.5 .2 1 .2-2.3 .2 7.8 .2-1.7 .1-1.3 .2-.5 .2-1.3 .2 0 .2 2.2 .2-2.8 .2 4.1 .1-3.7 .2-.8 .2 4.6 .2-3 .2 1.5 .2-2.1 .2-3.9 .1 6 .2-4.1 .2 5.2 .2-5.6 .2-.6 .2 4.6 .1 .2 .2-.7 .2-2.8 .2 4.5 .2-5 .2 2.1 .2-.6 .1 .8 .2 2.7 .2-3.2 .2 2.5 .2 .3 .2-5.1 .2 1.2 .1 1.6 .2-.4 .2 1.9 .2-4.7 .2 5.6 .2 0 .1-1.9 .2-2.6 .2 3 .2-1.2 .2 2.4 .2-1.4 .2 1.7 .1-2.4 .2 3.9 .2-7.9 .2 2.7 .2 3.2 .2-4.2 .2 4.8 .1-4.2 .2 2.8 .2-2.1 .2 1 .2 1.3 .2-.6 .1-.6 .2 5.4 .2-4.6 .2-2 .2 4 .2-.3 .2 .9 .1 1.2 .2-5.8 .2 4.3 .2 .1 .2-2.4 .2 .5 .2-6.8 .1 5.1 .2 5 .2-7.6 .2 2.7 .2 1.7 .2 .6 .1 2.3 .2-7.2 .2 3.8 .2 1.7 .2-4.6 .2 2.7 .2 4.1 .1-1.2 .2-1.6 .2-6.7 .2 5.3 .2 1.1 .2-1.5 .2 .5 .1 6.7 .2-7 .2-1.6 .2 2.5 .2-1.1 .2 0 .1 .4 .2 1.9 .2-1.2 .2-3 .2 2.3 .2 1.2 .2-2 .1 3.5 .2-.8 .2-3.8 .2 2.8 .2 3.5 .2-.9 .2-3.4 .1 2 .2-3.3 .2-1.6 .2 4.2 .2-.6 .2 .5 .2-1.1 .1 .7 .2-1.8 .2 2.1 .2 .8 .2-1.9 .2 1.9 .1-5.5 .2 2.1 .2 4.7 .2 .7 .2-3.2 .2-.8 .2-2.5 .1 3.5 .2 .9 .2-4.8 .2 4.3 .2-.1 .2-.2 .2-3.3 .1 3.6 .2-4.4 .2 6.4 .2-2.9 .2-2.8 .2 5.4 .1-.4 .2-3.9 .2 6.1 .2-6.8 .2 2.8 .2 1.8 .2-7.3 .1 6.9 .2-2.2 .2 .1 .2-2.3 .2 3 .2-3.1 .2 .3 .1 1.1 .2-1.6 .2 5.9 .2-6.2 .2 1.3 .2 .9 .1 .7 .2 1.6 .2 .1 .2-2.4 .2-.2 .2 .9 .2 1.7 .1-.3 .2-2.6 .2-3.2 .2 8.9 .2-2.5 .2-1.5 .2 .1 .1-1.8 .2-1 .2 1.4 .2 .2 .2-.8 .2-1.8 .1 2.4 .2 1.9 .2-2.3 .2 1.1 .2-4.4 .2 3.9 .2 .2 .1-2.3 .2-1.1 .2 4.5 .2-2.6 .2 2.8 .2-1.9 .2 2.2 .1-2.1 .2-2.5 .2 3.1 .2-.6 .2 2.1 .2-2.3 .1 .1 .2 2.6 .2 .7 .2-.9 .2 .6 .2-1.2 .2 .6 .1 .3 .2-1.1 .2-.7 .2 .2 .2 4.8 .2-5.1 .2-.6 .1-.2 .2 .7 .2 .5 .2-2.9 .2-1.8 .2 4.8 .1-4 .2 3.9 .2-.2 .2 2.1 .2 1.1 .2-2.8 .2-1.9 .1-1.4 .2 .8 .2 1.8 .2-4.5 .2 4.6 .2-.2 .2 1.4 .1-2.1 .2 .9 .2-1.8 .2 .6 .2-2.9 .2 4.1 .1 3.1 .2-3 .2 .4 .2-2.9 .2 5.2 .2-4.8 .2 3.4 .1-1.5 .2-2.3 .2 4.2 .2-2.1 .2 .3 .2 .6 .2-1.1 .1-.7 .2 1.8 .2-1.9 .2 1 .2-1.6 .2-1.8 .1 1.7 .2 .4 .2 1.1 .2 2.5 .2-6.2 .2 3.9 .2-5.1 .1 2.5 .2 1.2 .2-3.8 .2 .8 .2 4.4 .2-.2 .2-.5 .1-1.5 .2 6.4 .2-5 .2-1.6 .2 5.6 .2-2.4 .1-2.1 .2 3.3 .2-2.2 .2 1 .2-.9 .2-2.8 .2 4.4 .1-1.8 .2-2.6 .2 .5 .2 3.7 .2-2.9 .2 .9 .2 1.3 .1-1.2 .2-3.6 .2 4.7 .2 .6 .2-.2 .2 1.7 .1-2.8 .2 .9 .2 1.7 .2-4.2 .2 4.5 .2 0 .2-2.2 .1 2.3 .2-2.2 .2-3.9 .2 4.5 .2-1.9 .2 .2 .2-.6 .1 2.6 .2-1.8 .2-2.8 .2 2.6 .2 .5 .2-3.3 .2 .6 .1 0 .2-.5 .2 2.1 .2 1.4 .2 1.9 .2-1.6 .1-.4 .2 .2 .2 .4 .2-3.9 .2 2.3 .2-.9 .2-1.1 .1-.8 .2-.1 .2 .4 .2-2.2 .2 3.9 .2-1.3 .2 .2 .1 .4 .2 .8 .2-3.1 .2 1.1 .2-3.5 .2-1.5 .1 .5 .2 7.8 .2-7.7 .2 5.1 .2 2.2 .2-4.5 .2 4.7 .1 .3 .2-2.2 .2 3.2 .2-4.1 .2-3.3 .2 2.8 .2-2.4 .1-2.2 .2-.1 .2 8.3 .2-6.9 .2 1.1 .2-1.7 .1 1.7 .2-1.1 .2-.6 .2-2.1 .2-.7 .2 1.4 .2 2.2 .1 4.1 .2-2.7 .2 1.6 .2-3.5 .2-1.6 .2-3.3 .2 2.9 .1-5.5 .2 4.1 .2 4.3 .2-3.5 .2 1.6 .2-4.1 .1-2.8 .2 1.7 .2-.2 .2 3.5 .2 1.4 .2-7.3 .2 .4 .1-.1 .2-1.2 .2-2.9 .2 2.7 .2-.1 .2-.7 .2-5 .1 1.9 .2-5.2 .2 5.9 .2-6.2 .2 .7 .2-1.8 .1-1.7 .2-2.8 .2-3.6 .2 7.8 .2-6 .2-2 .2 2.9 .1-8.6 .2-.8 .2-4.3 .2 .3 .2-5.3 .2-4.1 .2-5.5 .1-2.6 .2-1.7 .2-14.8 .2 .9 .2-6.3 .2-5.5 .1-11.6 .2 2.4 .2-12.1 .2-5 .2-8.4 .2-11.6 .2-3.5 .1-12.8 .2-4.6 .2-5.4 .2-6.1 .2-6.6 .2-6.9 .2 3 .1-10.8 .2-6.2 .1 0 .1 0 .2 0 .2 0 .2 0 .1 8.3 .2-2.3 .2 3.2 .2 5.8 .2 6.4 .2 12.6 .2 3.9 .1 9.7 .2-7.3 .2 19.8 .2 10.1 .2 10.6 .2 .6 .2 1.3 .1 14.3 .2 2.6 .2 2.3 .2 9.5 .2 10.6 .2 5.5 .1 3.3 .2-1 .2 14.8 .2-7.1 .2 6.8 .2-.7 .2 11 .1 .3 .2 3.9 .2 .1 .2 1.8 .2 2.8 .2-3.8 .2 9.7 .1 1.4 .2-2 .2 2.4 .2 2.1 .2 4.5 .2-1.8 .1 0 .2-.4 .2-1.7 .2 3.2 .2 2.5 .2 0 .2 1.5 .1 2.4 .2-.2 .2 .2 .2 1.5 .2-.6 .2 0 .2 1.7 .1-5 .2 7.8 .2-5.8 .2 5.6 .2-1.7 .2 3.1 .2-2.3 .1-2 .2 5.2 .2-1.9 .2 .1 .2 .2 .2 2.5 .1-.2 .2-1.1 .2-4 .2 2.9 .2 1.4 .2 4.2 .2-3.1 .1-.9 .2 3.2 .2-2.9 .2 .4 .2 .6 .2-3.7 .2 5.9 .1-1.1 .2-1.5 .2-1.9 .2 3.3 .2 2.9 .2-4.6 .1-.9 .2 3.6 .2-4.6 .2-1.3 .2 4.2 .2-.4 .2 1 .1-.5 .2 2.1 .2-1.2 .2-.7 .2 .4 .2 2.5 .2 .9 .1-.1 .2-.4 .2-9 .2 5.3 .2 1.7 .2 1.2 .1-4.1 .2 7 .2-2.5 .2-2 .2 1.8 .2-1.1 .2-.8 .1 2.9 .2-2.1 .2-2.1 .2 1.8 .2 1.2 .2-2.1 .2 5.3 .1-5.2 .2 6.4 .2-1.9 .2-4.1 .2 2.5 .2 2.3 .1-3 .2-2.2 .2 3 .2 4.2 .2-7.7 .2 4.6 .2-1.2 .1-.2 .2-.6 .2 .2 .2 3 .2-.9 .2-3.5 .2 5.7 .1-6.3 .2 4.3 .2-1 .2 2.3 .2-1.9 .2 1.6 .1-2.3 .2 2.2 .2-1.4 .2 4 .2-6.2 .2 4.2 .2-1.6 .1-.6 .2-1.6 .2 2.2 .2-4.2 .2 .3 .2 4.5 .2-4.9 .1 6.6 .2-3.8 .2 1.2 .2-.4 .2 .8 .2-1.5 .1-.2 .2 .6 .2 2.5 .2 .2 .2 .4 .2-2 .2-1.2 .1-3.2 .2 5 .2 .5 .2-2.7 .2 2.6 .2 1.1 .2-2.6 .1 2.1 .2-1.6 .2-4.4 .2 2.7 .2 .2 .2 2 .1-3 .2 .9 .2-1.1 .2 2 .2 .3 .2 2 .2-.4 .1-1.4 .2 .2 .2-.3 .2 0 .2 3.1 .2-8.7 .2 5 .1 1.1 .2 1.8 .2-4.9 .2 3.2 .2 1.1 .2-2.8 .1-3.2 .2 3.4 .2-1.8 .2 4 .2-3.3 .2 5.7 .2-3.5 .1-2.1 .2 .7 .2-1.3 .2 3.2 .2 2.4 .2-3.7 .2 2.5 .1-4 .2 2.7 .2 4.3 .2-8 .2 5.7 .2-.1 .1-6.7 .2 1 .2 1 .2 4.2 .2-3 .2 .6 .2 1.9 .1-1.3 .2 .2 .2-1.2 .2 3.2 .2-4.2 .2 5.3 .2-4.3 .1-1 .2 3.1 .2-.4 .2-5.3 .2 4.8 .2-3.4 .2 1.1 .1 3.5 .2-3.6 .2 2.7 .2-1.6 .2 5 .2-4.4 .1-2.4 .2 .2 .2 .4 .2 2.2 .2-.2 .2 2.1 .2-1.8 .1-.1 .2 .4 .2-.9 .2 .9 .2 1 .2 0 .2-2.9 .1-2.6 .2 2 .2 2.4 .2-6 .2 4.3 .2 2 .1-2.2 .2-1.2 .2 6.2 .2-.8 .2-3.6 .2 3.5 .2-.1 .1-5.3 .2 8.3 .2-7.9 .2 1.5 .2-1.9 .2 2.6 .2-3.1 .1 2.9 .2 2.3 .2-1.9 .2-1 .2 3.9 .2-5.3 .1 4 .2-2.8 .2 1.1 .2-.4 .2 .2 .2-.4 .2-1.6 .1 .4 .2 2.2 .2-1.2 .2-2.3 .2 .9 .2 .1 .2 1.3 .1 .5 .2-.2 .2-1.7 .2 1.5 .2-3.1 .2-3.3 .1 6.1 .2-3.5 .2 1.5 .2-.6 .2 4 .2-4 .2 3.2 .1-1.7 .2-1.7 .2-.8 .2 4.5 .2-.2 .2 .8 .2 2.3 .1-3.5 .2 0 .2-1 .2 .5 .2-1.1 .2-1.2 .1 6.4 .2-8.7 .2 4.7 .2 .4 .2-.7 .2-2.6 .2 1.7 .1-.7 .2-1.4 .2 2.2 .2-.8 .2-.4 .2 2.7 .2-4 .1 3.3 .2-2.4 .2 2.2 .2-.9 .2 .3 .2-2.8 .1 .4 .2-.3 .2 2.2 .2 1.3 .2 .6 .2-3.7 .2 1.3 .1-4 .2-1.5 .2 2.9 .2 .4 .2-2.2 .2-.6 .2 5.1 .1-3.2 .2-2.2 .2 9.1 .2-5.1 .2-1.3 .2 2.1 .1-3.5 .2 5.3 .2-7.5 .2 .3 .2 2.5 .2-1.7 .2 4.9 .1-7.3 .2 1.8 .2 2 .2 .5 .2 .7 .2-1.8 .2 4.1 .1-6.8 .2 1.2 .2 1.3 .2-3.3 .2-.3 .2-.9 .1-1 .2-1.7 .2 .9 .2-3.1 .2 4.2 .2-5.6 .2 8.4 .1-1.6 .2-2.3 .2-4.3 .2-1.9 .2 3.6 .2-3.8 .2-.2 .1-4.7 .2 3.2 .2-6.5 .2 .7 .2-6.8 .2 .8 .1 .9 .2-5.1 .2-2.7 .2 .5 .2-5.6 .2 .3 .2-14.4 .1 4.6 .2-4.6 .2-10.9 .2-4.4 .2 1.2 .2-11.8 .2-4.8 .1-2.5 .2-9.6 .2-4.2 .2-11.4 .2-3.1 .2-4 .2-9.1 .1-14.7 .2 4.5 .2-6.6 .2-5.3 .1 0 .1 0 .2 4.1 .1-4.1 .2 3.5 .2-3.5 .2 0 .2 6.6 .2 5.4 .2 5.9 .1 7.5 .2-.6 .2 11.2 .2 7.4 .2 3.3 .2 4.5 .2 6.4 .1 11.8 .2 6.1 .2 .7 .2 3.9 .2 13 .2-3.7 .1 9.6 .2 1.3 .2 1.1 .2 8.9 .2 2.4 .2 7.5 .2 5 .1-4.3 .2 5.6 .2 2.2 .2-2.3 .2 .8 .2 8.2 .2-3.7 .1 2.2 .2 .6 .2 1.5 .2-.1 .2 4.4 .2 2.2 .1-3.3 .2-1.7 .2 4.3 .2-3.2 .2 2.8 .2 5.2 .2 3.2 .1-4.3 .2-3 .2 4.9 .2-6.9 .2 4.1 .2 5.8 .2-1.6 .1-4.7 .2-.4 .2 6.3 .2-1.8 .2-1.1 .2 2.7 .1-2.1 .2-3 .2 6.7 .2-3.2 .2-.7 .2-.6 .2 3.9 .1-2.3 .2 3.5 .2-1.9 .2 3.3 .2-3.3 .2-.5 .2-3 .1 2.2 .2 4.3 .2 5.5 .2-9.9 .2 .6 .2 3.2 .1 .4 .2-2.6 .2 1.8 .2-3.8 .2 3 .2 2.8 .2 1.7 .1-4.1 .2-.2 .2 1.7 .2 1.5 .2-1.5 .2-2.8 .2 2.5 .1 1.4 .2-3.9 .2-1.5 .2 4.2 .2-.4 .2 1.3 .1-2.1 .2-1.8 .2 .4 .2-1.5 .2 .1 .2 .7 .2 0 .1 3.5 .2-5.7 .2 2.5 .2-1.5 .2 4.6 .2-3.2 .2-1.9 .1 2.4 .2-2.2 .2-1.8 .2 4.3 .2-2.6 .2 1.8 .1-2.1 .2-1.7 .2-2.4 .2-3.9 .2 3.5 .2-2.7 .2 .5 .1-2.9 .2-3 .2-2.1 .2 3.1 .2 .2 .2-5.4 .2 .6 .1 1.3 .2-7.1 .2 .3 .2-.9 .2 3.4 .1-3.4 .1 0 .1 0 .2 0 .2 2.2 .2-2.2 .2 0 .2 2.8 .2-2.8 .1 3.1 .2 2.5 .2-2.4 .2 1.1 .2 4.1 .2 .4 .2 1 .1 2.4 .2 1.3 .2-1.7 .2 1.9 .2 3.9 .2 2.7 .1 1.5 .2-4.5 .2 5.6 .2 0 .2-1.2 .2 1.9 .2 1.5 .1 2.8 .2-6.2 .2 4.4 .2-1.3 .2 .3 .2 3.5 .2-.4 .1-3.9 .2 2 .2 1.4 .2-3.5 .2 5.5 .2-2 .2 .8 .1 .6 .2 3.4 .2-3.8 .2-.7 .2 4.8 .2-4.9 .1 .1 .2-1.8 .2 5.6 .2-1.7 .2 .6 .2-.6 .2-.6 .1-1.3 .2 .1 .2 2.7 .2-.6 .2 3.4 .2-5.2 .2 .7 .1-1.1 .2 5.3 .2-5.7 .2 4.4 .2 1.5 .2-3.3 .1 1.9 .2-6.1 .2 3.8 .2-2.7 .2 4 .2-.3 .2-1.7 .1 3.7 .2-1.2 .2-1.8 .2 0 .2-2 .2 2.8 .2 5 .1-6.1 .2 2.5 .2-2.1 .2 2.9 .2-.7 .2-1.4 .1-3.3 .2 2.7 .2 3.7 .2-3.1 .2 1.9 .2-2.3 .2-2.9 .1 4.9 .2-.2 .2-1.9 .2 .4 .2 1.4 .2-1.8 .2 2 .1-1.2 .2-4.5 .2 4.7 .2-.9 .2-.5 .2 2.6 .1-1.9 .2 2.2 .2 1.2 .2-2 .2-3.5 .2 1.7 .2 3.5 .1-2.5 .2-1.1 .2 1.5 .2 1.3 .2-.5 .2 .8 .2-3.1 .1 1.2 .2 0 .2 .5 .2-4.3 .2 3.9 .2-2.3 .1 5.7 .2 .4 .2 .3 .2-1.9 .2-2.7 .2 3.1 .2-2.5 .1 1.8 .2-3.2 .2 .7 .2 2.2 .2 2.7 .2-3.7 .2 4.8 .1 1 .2-8.4 .2 2.6 .2-1.9 .2 1.7 .2-.8 .1 .9 .2 2.2 .2 0 .2-1.5 .2-.5 .2 .3 .2 0 .1 .9 .2-1.2 .2 1.1 .2-3.8 .2 4.4 .2 2 .2-3.3 .1-3.3 .2 5.8 .2-3.5 .2-5.6 .2 5.8 .2 1.8 .1-.5 .2 1.8 .2-1.3 .2-1 .2-4.4 .2 1.8 .2 2.7 .1 1 .2-3.5 .2 .9 .2 2.2 .2-4.9 .2-.1 .2 3.6 .1 1 .2-1.5 .2-3.8 .2 4.8 .2-2.8 .2 4.1 .1-1.5 .2 .7 .2 .8 .2-2.4 .2 2.8 .2 .9 .2-1.8 .1 2 .2-4.1 .2 3.2 .2-1.3 .2-2.6 .2 1.9 .2-1 .1 0 .2 1.3 .2 2 .2-2.8 .2 .9 .2-3.3 .1 3.3 .2 2.2 .2-.8 .2-.7 .2-2 .2-1 .2 1.9 .1-2.6 .2 .2 .2 4.5 .2-3.8 .2 5.6 .2-6.7 .2 3.9 .1-3.3 .2 2.8 .2-2.6 .2 2.3 .2-.4 .2-.6 .2 2 .1 2 .2-4.3 .2 3 .2-1.6 .2-.3 .2 4.7 .1-9.1 .2 3.1 .2-2.3 .2 3.1 .2 .1 .2 8.4 .2-7.2 .1 3.1 .2-1.1 .2-3.6 .2 1.9 .2 2.5 .2-3.1 .2 .1 .1 .6 .2-4.2 .2 1.5 .2 2.3 .2 .5 .2-3.1 .1 1.3 .2 .4 .2-.1 .2 1.8 .2-1.2 .2 .1 .2-3.3 .1 .8 .2 2.8 .2-4 .2 3.9 .2-1.9 .2-.3 .2 3 .1-2.7 .2-.4 .2 .4 .2 1.5 .2 5.6 .2-10.1 .1 4.3 .2-.4 .2 2.4 .2-2.7 .2-4.4 .2 7.9 .2-5 .1 2.1 .2-2.7 .2 .6 .2 1.2 .2 2.8 .2 0 .2-3 .1 2.3 .2-1.8 .2 1 .2 .1 .2 .9 .2-2.5 .1 1 .2 .7 .2-.3 .2-1.8 .2 5.2 .2-4.5 .2 2.5 .1-1.1 .2 2.1 .2-7.1 .2 8.8 .2-4.7 .2-2.1 .2 2.8 .1 4.4 .2-3.6 .2-3.6 .2 1.6 .2 3.7 .2-5.7 .1 2.6 .2-.3 .2 5.1 .2-5.1 .2 3.4 .2-4.2 .2-.2 .1 3.7 .2-.8 .2-4.9 .2 5 .2 0 .2-2.6 .2 1.7 .1 .1 .2-1.6 .2-.2 .2-.2 .2 .9 .2-2.2 .1 2.6 .2-3 .2 3.3 .2-.4 .2-1.9 .2 3.9 .2 2.2 .1-1.2 .2-5.6 .2 5.5 .2-2.2 .2-.6 .2-1.1 .2 1.2 .1 2.9 .2-1.8 .2-2 .2-.5 .2 .5 .2 2.1 .1 2.7 .2-6.1 .2 2.2 .2-.8 .2-.8 .2 2.4 .2 .3 .1-4.1 .2 .8 .2 4.7 .2-1.9 .2 .4 .2-2.1 .2 .3 .1 1.7 .2-2 .2-1.3 .2 2.3 .2 1.9 .2-4 .1 4.3 .2-.7 .2-3.3 .2 1.8 .2-.1 .2 1.4 .2 .1 .1-4.1 .2-.1 .2 4.9 .2-1.9 .2 .7 .2-.2 .2 2.5 .1-5.7 .2 4.7 .2-4 .2 3.3 .2 1.2 .2-5.6 .1 3.7 .2-1.5 .2 0 .2 .7 .2-2.3 .2 .2 .2 3.4 .1 .3 .2-2.9 .2-1.9 .2 7.9 .2-2.6 .2-1.5 .2-2.9 .1 .9 .2 1.7 .2-2.5 .2 5.3 .2-3 .2 .5 .1-3 .2 .2 .2 .3 .2 2.2 .2-1.2 .2 0 .2 1.2 .1-.2 .2 2.7 .2-3.6 .2-1.7 .2 2.1 .2 3.1 .2-4.3 .1 1.2 .2-.8 .2 1.6 .2-.4 .2-2.2 .2 1.2 .2 2.4 .1 .3 .2-.4 .2-.1 .2-2.6 .2-.1 .2 2.7 .1-4.5 .2 2.4 .2-3.9 .2 3.1 .2-.7 .2-1.1 .2 3.7 .1-2.8 .2 .7 .2 .2 .2-1 .2 4.5 .2-4.1 .2 1.4 .1-3.3 .2 1.7 .2 .3 .2 0 .2-.7 .2 1.5 .1 3 .2-3.8 .2-.1 .2-.6 .2 6.2 .2-2.1 .2-2.4 .1 .2 .2-3.2 .2 1 .2 .7 .2-.4 .2-2.3 .2-.1 .1 2.7 .2-.7 .2-5.6 .2 4.6 .2 2.4 .2-4.7 .1 1.7 .2-4.3 .2 4.8 .2-4.9 .2-.8 .2 1.6 .2 5.7 .1-7.6 .2-2.3 .2 3.4 .2-1.4 .2 2.6 .2-7.9 .2-1.8 .1 2.1 .2 .6 .2-1.1 .2 .7 .2-7.7 .2 .5 .1 .6 .2 1.4 .2-2 .2-3.2 .2-1.1 .2 2.9 .2-.4 0-2.5 .1 0 .2 3.7 .2-3.7 .2 0 .2 0 .2 0 .2 0 .1 0 .2 1.9 .2-.2 .2 3.8 .2-.9 .2 1.2 .1 4.8 .2-1.8 .2 .6 .2 .7 .2 1.2 .2 2.3 .2-2.4 .1 5.6 .2 1.9 .2-.2 .2-3.1 .2-1.9 .2 3.4 .2 2.1 .1 2.1 .2-1.8 .2 .2 .2 4.6 .2-4.5 .2 4.3 .1 0 .2-4.7 .2 3.9 .2-1.6 .2-.6 .2-1.8 .2 .9 .1 4.6 .2-1.6 .2 1.6 .2-2.8 .2 1.8 .2 .2 .2-2.6 .1-.1 .2 4.6 .2-.5 .2-2.2 .2 1.9 .2 1.7 .1 2.6 .2-5.8 .2 3.3 .2 3.3 .2-4.3 .2 3 .2-8.6 .1 8.7 .2-3.1 .2-3.9 .2 5.7 .2 .6 .2 .4 .2 0 .1-2.5 .2-1.5 .2 .6 .2 1 .2 .9 .2-1.8 .1 1.1 .2 1.8 .2-1.1 .2 4.1 .2-.2 .2-7 .2 1.3 .1-1.6 .2 .4 .2 3.6 .2-3.2 .2-.1 .2 1.6 .2 2.3 .1-2.4 .2 0 .2 2.7 .2-.9 .2 0 .2 1 .1-4.1 .2 2.6 .2-1.8 .2 3.5 .2-.4 .2-3.9 .2 5 .1-5.2 .2 4.9 .2-2 .2-2.3 .2-.5 .2 1.7 .2 .6 .1-1.4 .2 2.7 .2-4.1 .2 2.9 .2 0 .2-3.9 .2 4.6 .1-3.3 .2-2.6 .2 4 .2 .8 .2 2.3 .2-2.9 .1 4.1 .2 0 .2-.8 .2 .5 .2-2 .2-1.9 .2 2.5 .1 .7 .2-1.5 .2-1 .2-2.8 .2 4.7 .2-.7 .2-3.4 .1 2.9 .2 1.3 .2-1.7 .2 1.8 .2 0 .2-4.7 .1 2.5 .2 1.6 .2 .9 .2 1.1 .2-7 .2 3.9 .2 1.6 .1 1.1 .2 .9 .2-5.4 .2 1.1 .2-1.4 .2 3.9 .2-4.4 .1 5.2 .2-.5 .2-1 .2-5.5 .2 3.1 .2 3 .1-4.5 .2 2.4 .2 .3 .2 2.1 .2-1.3 .2 0 .2-1.5 .1 .9 .2-.3 .2 1.8 .2-1.9 .2 2.6 .2-5.8 .2 6.1 .1-2.9 .2 2.8 .2-2.2 .2 1.6 .2 1.3 .2-4.3 .1 1.3 .2-.5 .2 .8 .2-3.8 .2 3 .2-.2 .2-1.1 .1 1.2 .2-2.8 .2 6.2 .2-2 .2 3 .2-5.8 .2-.6 .1 3 .2-4.1 .2 4 .2-2 .2 .8 .2 1.2 .1-.4 .2 3.8 .2-2.6 .2-4 .2 4.7 .2-4.9 .2 3 .1-2.8 .2 .9 .2 4.5 .2-4 .2-.1 .2 .1 .2 .5 .1 3.7 .2-5.5 .2-.1 .2 3.8 .2-4.6 .2 2.6 .1 3.1 .2-2.4 .2-1 .2-.5 .2-.5 .2 .7 .2 1.5 .1 2.4 .2-.6 .2-3.3 .2-.3 .2 3 .2-5.4 .2 2.9 .1 .3 .2-1.7 .2 .2 .2 2.8 .2-4.2 .2 1.5 .1 .6 .2 1.5 .2-3.1 .2 5.2 .2-3 .2 .1 .2-.2 .1-.7 .2-.7 .2 4.5 .2-2 .2-.7 .2 2.4 .2-3.7 .1 2.8 .2-1.3 .2-2 .2 3.5 .2-4.8 .2 4.6 .1-3.3 .2 2.7 .2 2 .2-1.7 .2-2.6 .2 1.2 .2-.7 .1-1.8 .2 .1 .2 2.5 .2 1 .2-5 .2 3.6 .2 1.2 .1-.9 .2-2.4 .2 4.4 .2-4.9 .2 3.9 .2 2.1 .1-7.9 .2 4.9 .2 0 .2-.2 .2-2.2 .2 .9 .2-2.4 .1 3.3 .2 .8 .2-2.6 .2-.7 .2 .9 .2 1 .2 .1 .1-.4 .2 .3 .2-3.1 .2-3.2 .2 7.2 .2 1.7 .2-6.3 .1 1.6 .2 2 .2 1.4 .2-.8 .2 1.3 .2-3.1 .1 1 .2-.2 .2-2 .2 3.6 .2-1.5 .2 .7 .2-3.2 .1 3 .2-4.8 .2 3.1 .2-7 .2 3.5 .2 3.7 .2-2.9 .1 1.2 .2-4.3 .2 7 .2-2.4 .2-1.7 .2 .7 .1-.5 .2 2.2 .2-3.1 .2-4.3 .2 2.4 .2 3.2 .2-2.1 .1-2.8 .2 1.9 .2-1.7 .2 .6 .2-5.9 .2 1 .2 3 .1-2.9 .2 .6 .2 3 .2-6.5 .2 .4 .2-3.1 .1-1.4 .2 .2 .2-4.8 .2-3.1 .2 7.5 .2-5.3 .2 1.6 .1-4.4 .2-1.7 .2-.4 .2-1.7 .2-7.2 .2 4.6 .2-8 .1 1.2 .2 4.6 .2-8.9 .2 2.6 .2-7.5 .2 1.1 .1-3.1 .2-.2 .2-2.9 .2 0 0 .7 .2-.7 .2 0 .2 .4 .1-.4 .2 0 .2 0 .2 .7 .2-.6 .2 2.6 .2 .3 .1 7.2 .2-5 .2-2.6 .2 7.5 .2 1.5 .2 2.2 .1-2.9 .2 9.3 .2-1.3 .2 1.8 .2-2.3 .2 7.3 .2 .3 .1 5.3 .2-3 .2-.6 .2 4.9 .2-1.3 .2 4.7 .2-2.6 .1 3.6 .2 .8 .2 1.5 .2-.3 .2 .2 .2 2.7 .1-.5 .2 2.5 .2-.4 .2-4.1 .2 5.8 .2 4 .2-2.1 .1 1.1 .2 .1 .2-1.8 .2-1.7 .2 5.4 .2 .8 .2-.8 .1-.1 .2 .2 .2-.8 .2 .9 .2-.4 .2 .9 .1-2.8 .2 .9 .2 2.8 .2-1.9 .2-4.7 .2 5.9 .2-5.4 .1 9.6 .2-2.7 .2-.1 .2-3 .2-1 .2 2 .2 .5 .1-1.8 .2 2.1 .2 1.1 .2-.2 .2-3.8 .2-2.7 .1 4.8 .2-1.6 .2 2.3 .2 2.6 .2-.2 .2-3.3 .2 1.6 .1 1 .2-3.9 .2 .2 .2 .9 .2-2.4 .2-1.5 .2-1 .1 1.2 .2-2 .2 2.8 .2-3.3 .2 3.6 .2-1.3 .1-6.6 .2 4.7 .2-4.4 .2 3.3 .2-3 .2-2.4 .2 .7 .1-4.2 .2 1 .2-1.1 .2-2.5 .2 .1 .2-4.8 .2 2.8 .1-5.8 .2 3.6 .2-1.4 .2-.4 .2-3.9 .2 8.5 .2-8.5 0 0 .1 0 .2 3 .2-3 .2 1.8 .2-1.8 .2 .6 .1-.6 .2 3.2 .2-2.5 .2-.7 .2 4.3 .2-3.3 .2 1.6 .1 5.6 .2-5.6 .2 7.8 .2-1.7 .2-.1 .2 4.1 .2 2.1 .1-1.8 .2 2.1 .2 3.5 .2 1 .2-.9 .2-.8 .1 .5 .2 1.8 .2 3.8 .2 .5 .2 .1 .2 3.2 .2-3.2 .1 .4 .2 .6 .2 5.7 .2-8.4 .2 5.7 .2 .8 .2-.5 .1 5.5 .2-2.3 .2-.5 .2-3.4 .2 3.3 .2-1.6 .1 1.2 .2 .5 .2-1.2 .2 2.6 .2 2.3 .2-1.1 .2-1.6 .1-4.4 .2 6.6 .2 .1 .2-2.5 .2-.5 .2 2.5 .2-3 .1 3.5 .2-3.8 .2 .4 .2 2.1 .2-3 .2 3.1 .1 1.2 .2-3.8 .2 4.8 .2-3 .2 2.4 .2-.7 .2-1.3 .1-.1 .2-2.4 .2 2.2 .2-.1 .2 5 .2-1.2 .2-4.9 .1 4.5 .2-1.1 .2-1.2 .2 1.8 .2 .7 .2-2.8 .1 .7 .2 .9 .2-2.3 .2 2.4 .2-.5 .2-1.2 .2-.2 .1 2.3 .2 1.2 .2-1.1 .2-2.3 .2 3.2 .2-1.1 .2 .9 .1 1.1 .2-4.1 .2 1.6 .2-.9 .2-.6 .2 5.9 .1-2.2 .2-5.4 .2 4.4 .2-1.9 .2 3.4 .2-2.1 .2-.5 .1 .7 .2 .5 .2-.7 .2-.5 .2 .2 .2 1.3 .2-3.3 .1 2.3 .2-.2 .2-.8 .2 2.5 .2-4 .2 1.8 .1-.9 .2 2.8 .2-2 .2 1 .2 .7 .2-3.9 .2 4 .1-2.3 .2 1 .2 .3 .2 1.8 .2-.1 .2 2 .2-3.1 .1-1.3 .2-.1 .2 2.3 .2 1.9 .2-2.5 .2-1.8 .1 1.7 .2 0 .2-.4 .2-1.6 .2-3.5 .2 4 .2 3.1 .1-1.6 .2-4.8 .2 4.4 .2-3.7 .2 7.6 .2-3.5 .2-2.8 .1 4 .2-3.2 .2 2.7 .2-1.1 .2-2.3 .2 3.6 .1-3.9 .2 5.3 .2-2.5 .2-2.2 .2-1.5 .2 6.7 .2-.3 .1-5.3 .2 5.7 .2-2.9 .2-.8 .2 .3 .2-.3 .2 3.3 .1-2.5 .2-3.9 .2 7.7 .2-2.4 .2-3.8 .2 1.4 .2-1.1 .1 1.9 .2 .7 .2-.3 .2-1.6 .2-.4 .2 3.2 .1-1.9 .2 4.7 .2-6 .2 3.1 .2-1.5 .2-1.5 .2 4.1 .1-2.4 .2-2 .2 1.1 .2 2.7 .2-4.4 .2 5.1 .2-1.4 .1-1.9 .2 3.2 .2 .8 .2-2.2 .2-.9 .2 3.3 .1-.7 .2-4.7 .2 1.4 .2 0 .2-.4 .2-2.2 .2 4.8 .1-1.6 .2 0 .2 2.6 .2-3.9 .2 1 .2 .6 .2-1.3 .1 .6 .2 1.7 .2-1.5 .2 2.6 .2-4.1 .2 1.9 .1-3.2 .2 2.6 .2-1.2 .2 4.1 .2-1.2 .2-.5 .2 2.7 .1-.8 .2-1.5 .2-2.8 .2-1.4 .2 2.8 .2-.7 .2-.6 .1 .7 .2-2.7 .2 6.3 .2-5.2 .2 .9 .2 2.4 .1-4.3 .2 5 .2 .1 .2-2.5 .2-1.5 .2 1.2 .2-2.8 .1 6.5 .2-2.7 .2-1.6 .2-.3 .2 2.9 .2 1.9 .2-5.5 .1 1.4 .2-2.4 .2 4.8 .2-1 .2 4.2 .2-4.8 .1-.6 .2-.5 .2 3.1 .2-5 .2 4.8 .2-1 .2-1.5 .1-.8 .2 3.9 .2 1.6 .2-4.6 .2 1.9 .2 2.4 .2-4.7 .1 .7 .2-1.9 .2 2.1 .2 .2 .2-.7 .2-.7 .1-1.6 .2 .4 .2 .8 .2 3.2 .2-2.3 .2-.7 .2 3 .1-.2 .2-2.6 .2 .2 .2 2.6 .2-.6 .2-2.4 .2 2.1 .1-.5 .2 2.3 .2-4 .2 3.5 .2-.9 .2-2.9 .1 4.1 .2-.3 .2-4.5 .2 6.7 .2-6.3 .2 .4 .2 1.2 .1 2.2 .2-.4 .2-1.3 .2 2.9 .2-1.9 .2 2 .2 2.8 .1-5.3 .2-5.6 .2 4.3 .2-1.3 .2 2.4 .2 0 .1-2.8 .2 .2 .2 1.8 .2 .1 .2-4.9 .2 7.3 .2-2 .1-.1 .2 .7 .2-2.8 .2 2 .2 2.2 .2 .1 .2-1.3 .1-1.5 .2-1.1 .2 4.4 .2-1.7 .2-2 .2-3.6 .1 2.7 .2-2.3 .2 6.6 .2-2.2 .2-2 .2 1 .2 6 .1-2.9 .2-5.4 .2 2.5 .2-2.3 .2-1.1 .2 4 .2 4.7 .1-1.9 .2-3.2 .2-.9 .2 1.2 .2 1.7 .2-5.3 .2-.9 .1 7.9 .2-3.4 .2 2.8 .2-3 .2 2.6 .2-4.5 .1 2.4 .2 2.2 .2-1.2 .2-3.2 .2 2.8 .2-3.4 .2-1.7 .1 4.2 .2 1.8 .2-1.2 .2-4.6 .2 4.5 .2-.5 .2-2.5 .1-4.5 .2 7.6 .2-.4 .2-.9 .2-5 .2 .4 .1 5.5 .2-.6 .2-.7 .2-1.8 .2 1.3 .2-2.2 .2 .4 .1-1.3 .2 2.3 .2-1.6 .2 2.9 .2-.6 .2-3.7 .2 5.9 .1-6.9 .2 3.4 .2 1.2 .2 .3 .2-8.3 .2 7.2 .1 .2 .2 .3 .2-8.8 .2 3.3 .2 1 .2-1.2 .2 3.8 .1-5.1 .2 4.1 .2-2.1 .2-5.3 .2 .6 .2 .6 .2 .8 .1 1.5 .2-3.5 .2 1.9 .2-6.9 .2-4.6 .2 5.9 .1 1 .2-3.1 .2-2.7 .2 2.5 .2 2.7 .2-6.5 .2-2.9 .1-1.7 .2 6 .2-6.8 .2 .3 .2 .1 .2-1.9 .2-7 .1 3.6 .2-1.8 .2-2.4 .2 .2 .2-5.7 .2 .3 .1-2.2 .2 2.7 .2-2.7 0 1.1 .2-1.1 .2 0 .2 0 .2 0 .1 0 .2 0 .2 0 .2 0 .2 4.5 .2-4 .2 2 .1-.7 .2 6.2 .2-4.1 .2 5.1 .2 3.1 .2 2.6 .1 .1 .2-.2 .2-3.5 .2 8.1 .2 1.1 .2 .4 .2 1.2 .1-.6 .2-.3 .2 5.3 .2 1.7 .2-4.8 .2 6 .2-.7 .1 2.5 .2-.6 .2 2.9 .2 .6 .2 .3 .2-4.8 .1 6 .2-1.2 .2-2.3 .2 4.9 .2-4.4 .2 5.9 .2 2.3 .1-4.8 .2 3.7 .2-.7 .2 .8 .2-4.3 .2 4.8 .2-.8 .1 1.6 .2-1.4 .2 2.7 .2-1.6 .2 1.1 .2 1.7 .1-2.5 .2 2 .2-1.5 .2 .8 .2-2.2 .2 3 .2 1.2 .1-2.8 .2 2 .2-.7 .2-3.2 .2 3.3 .2 2.2 .2-3.9 .1-2.7 .2 4.4 .2-1.7 .2 5.6 .2-4.2 .2 .2 .1-1.3 .2 2 .2-1.7 .2-.7 .2 1.9 .2-1.6 .2 4.7 .1-5.3 .2 2.4 .2-1.3 .2-1.4 .2 6.6 .2-8 .2 7.6 .1-6.1 .2 3.3 .2 4.7 .2-9.4 .2 1.7 .2 5.7 .1-2.4 .2-1.5 .2 1.2" stroke="#EB1C24"/><path d="M78.2 508.5l.2 2.3 .2 2.8 .2-3.8 .1 1.1 .2 2.2 .2 1.6 .2-5.1 .2 1.8 .2-1.7 .2-.2 .1 .6 .2-.5 .2-2.1 .2-.5 .2 2.5 .2 1.8 .1 2.2 .2-3.4 .2 .7 .2 1.7 .2 .2 .2-1.7 .2 .2 .1 3.9 .2-4.4 .2-.3 .2-2.2 .2 4.1 .2-1.3 .2 4.4 .1-4.5 .2 2.3 .2 .3 .2 1.5 .2-5.9 .2 5.8 .1-3.1 .2-.2 .2-.4 .2-.1 .2 .1 .2-4 .2 5.8 .1-.9 .2-2 .2 1.8 .2 4.8 .2-3.8 .2-1.6 .2 4.3 .1-5 .2 1.3 .2-.8 .2 .7 .2 2 .2-.3 .1-2.6 .2 1.2 .2 .5 .2-1 .2 .8 .2-1.3 .2 0 .1 1.6 .2-2.2 .2 3 .2-1.2 .2-1.5 .2 .7 .2 .3 .1 .7 .2 .5 .2-.6 .2-1.3 .2 4.7 .2-1.1 .1-1.5 .2 1.7 .2-1.2 .2-1.2 .2 .7 .2 5.2 .2-3.3 .1 .1 .2-2.8 .2 2 .2 3.3 .2-3.6 .2 1.3 .2 .4 .1-1.2 .2 1.9 .2-2.7 .2 .6 .2-2.2 .2 6.5 .1-4.6 .2-.4 .2 2.6 .2-3.7 .2 1 .2-1.6 .2 1.7 .1-.8 .2 1.9 .2-1.3 .2-1 .2 .7 .2 .3 .2-.7 .1 2.9 .2-.5 .2-1 .2-2.7 .2 3.5 .2-3.6 .1 3 .2-.3 .2-1.2 .2-.5 .2 .3 .2 5.5 .2-4.6 .1 .1 .2 2.4 .2-1.1 .2 1.3 .2-4.5 .2 .3 .2 8.8 .1-6.7 .2-.4 .2 .9 .2 1.7 .2-4.4 .2 3 .1-.6 .2 1.4 .2-1 .2-1.3 .2-.7 .2-3.1 .2 6.8 .1-4.8 .2 2.1 .2 4.2 .2-4.2 .2 2.1 .2-1.6 .2 1.8 .1-1.3 .2-1 .2 3.7 .2-3.2 .2-2.1 .2 2 .1 1.8 .2-3.3 .2 3.8 .2 0 .2 2.7 .2-5.5 .2 2.6 .1-4.6 .2 2.5 .2 1.1 .2 .6 .2-.9 .2 0 .2-1.1 .1 .4 .2 1.5 .2 .5 .2 .2 .2 .7 .2 .4 .1-5.9 .2 2.6 .2 .7 .2-.9 .2 3.4 .2-.6 .2-1.7 .1 .5 .2 2.3 .2-3.2 .2 .1 .2 2.4 .2-.8 .2 1.9 .1-2.1 .2 .8 .2-2.6 .2-.7 .2 1.8 .2-5.2 .2 6.1 .1 1.1 .2-1.7 .2-.6 .2 2.6 .2-2.2 .2 2 .1 2.4 .2-2.8 .2 .4 .2-.9 .2-.4 .2 0 .2-.3 .1 2 .2-5.3 .2 2.6 .2 1.9 .2-3 .2 1.5 .2-1.1 .1 2.2 .2 .9 .2 1.2 .2-1.9 .2-2.4 .2 1.9 .1 .7 .2 1.7 .2-7 .2 4.9 .2-4.3 .2 5.1 .2-.6 .1 .2 .2 .7 .2-.9 .2-2 .2 1.9 .2 1.7 .2-2.6 .1 .3 .2-2.4 .2 4.7 .2-3.3 .2-.4 .2 .6 .1-.8 .2 1.2 .2 3 .2-.9 .2 1.3 .2 .1 .2-4.7 .1 2.7 .2 2.1 .2 1.6 .2-7.4 .2 0 .2 3.8 .2-1.6 .1-1.3 .2 2.8 .2-2.3 .2-2.9 .2 4.4 .2 .3 .1 1 .2 .7 .2-1.5 .2-.8 .2-.9 .2-1.9 .2 2.4 .1 2.9 .2-.7 .2 2.8 .2-4.4 .2-3.2 .2 5.2 .2 .4 .1-4.3 .2-.9 .2 3.5 .2 1.1 .2-3.6 .2 1.6 .1-.9 .2-.8 .2-.2 .2 2.9 .2-1 .2-.6 .2-3.8 .1 8.6 .2-5.3 .2 1.6 .2-2 .2 3 .2-3.7 .2 3.2 .1-.5 .2 2.2 .2-4 .2 .9 .2 .8 .2 4.6 .1-7 .2 3.5 .2-1.9 .2 2 .2 .6 .2-1 .2 .3 .1 0 .2-1.7 .2 .8 .2-2.9 .2 2.6 .2-.8 .2 1 .1 2 .2-.7 .2 .2 .2 1.3 .2-6.9 .2 5.6 .1-.9 .2-.2 .2-2.3 .2 3.6 .2 1.2 .2-.2 .2-2.2 .1 1.5 .2 .5 .2 1.8 .2-1.1 .2-2.2 .2-.1 .2 .2 .1 .1 .2-1.4 .2 2.5 .2-2.9 .2-.2 .2 2.3 .1-1.8 .2 .7 .2-3.7 .2 5.7 .2-1.5 .2-.3 .2 1.2 .1-.5 .2-1.8 .2 5.4 .2-4.9 .2 2.9 .2 1.7 .2-4.9 .1 1.5 .2-1.8 .2 3.7 .2-2.8 .2-1.5 .2 4.8 .1-.7 .2-3.6 .2 4.1 .2-1.9 .2 5 .2-2 .2-4.5 .1 .6 .2-1.2 .2 2 .2-.2 .2 1.4 .2-1.3 .2-3.1 .1 1.4 .2 4.4 .2-.5 .2-2.6 .2 0 .2 0 .2 .4 .1-3.4 .2 5.1 .2-3.1 .2 1.6 .2-5.3 .2 5.5 .1 2.2 .2-7.1 .2 7.5 .2-2.1 .2-2.3 .2-1.7 .2 5.4 .1-1.7 .2 .6 .2-1.7 .2-1 .2 3.3 .2-3.6 .2 3.7 .1-5.1 .2 1.5 .2-1.1 .2 5.5 .2-6.1 .2 1.3 .1 3.6 .2-.9 .2 3.9 .2-.7 .2-2.4 .2 .2 .2-5.1 .1 1.9 .2 1.1 .2 .4 .2-2.4 .2 .9 .2 .1 .2 3.9 .1-1.3 .2-1.5 .2 .1 .2 1.1 .2-1.9 .2 .9 .1-3 .2 4.8 .2 .6 .2-1.2 .2 .3 .2-.2 .2 3.3 .1-3.7 .2-3 .2 .5 .2 3.6 .2 .7 .2-.6 .2 .2 .1-1.3 .2-3.4 .2 1.6 .2-2.2 .2 2.8 .2-1.9 .1 2.9 .2-.5 .2-3.6 .2 5.4 .2 .1 .2-4.4 .2 3.1 .1 1.2 .2-2 .2 2.3 .2-1.4 .2 1.8 .2-1.8 .2-.7 .1 1.4 .2 .6 .2-1.1 .2-1.4 .2-.7 .2 .9 .1-.4 .2 1.5 .2 0 .2-.5 .2 .1 .2 .4 .2 2.8 .1-.7 .2-3.6 .2 2 .2-1.5 .2 .5 .2-.3 .2-.8 .1-1.5 .2-2.2 .2 5.4 .2 2 .2-4.2 .2 2.8 .1-1.8 .2 1.4 .2-2.2 .2 1.1 .2 .3 .2-4.6 .2 5.3 .1-.8 .2-4.7 .2 6.3 .2-1.3 .2 .4 .2 .4 .2-1.6 .1-1.3 .2 1.2 .2 .1 .2 5.4 .2-.8 .2-4.7 .1 .1 .2 1.5 .2 .5 .2-2.5 .2-.7 .2 6 .2-1.8 .1-5.3 .2-.4 .2 1.9 .2 2.1 .2 .7 .2-1.8 .2-2.6 .1 3.7 .2 .8 .2-1.2 .2-1 .2 2.2 .2-1.3 .1-2.2 .2 2.5 .2-2.8 .2 4.6 .2-1 .2-3 .2 2.5 .1 2.1 .2-7 .2 4.1 .2 3.7 .2-6.6 .2 2.9 .2-2.6 .1 2.8 .2-4.8 .2 1.6 .2 2.2 .2 1.4 .2 .5 .1 .1 .2 1.5 .2-.9 .2 .1 .2-3.6 .2 1.7 .2 7 .1-1.9 .2-3 .2-.2 .2 .5 .2-2.9 .2 4.9 .2-4.8 .1 .6 .2 4.7 .2-8.9 .2 5.1 .2-4.3 .2 2.2 .1 1.2 .2-.6 .2 1.1 .2-1.9 .2 1.4 .2-2.3 .2 1.7 .1-2.1 .2 4.2 .2-4 .2 4.1 .2-2.3 .2 .2 .2 3.2 .1-2.3 .2-4.2 .2 5 .2-7.1 .2 6.6 .2-1.4 .2-2.1 .1 3.1 .2-.8 .2 4.9 .2-5.2 .2 5.1 .2-1.2 .1-4.2 .2-.5 .2 4.6 .2-3.1 .2 .6 .2-.9 .2-2 .1 1.8 .2-1.3 .2-1.2 .2 2.6 .2 4.4 .2-.3 .2-3.6 .1 .4 .2 .8 .2 1.8 .2-2.2 .2-1.7 .2 .2 .1 3.2 .2 3.2 .2-6.9 .2-3 .2 6 .2-1.9 .2 .5 .1 2.3 .2-2.5 .2-2.9 .2-1.4 .2 4.1 .2-2.4 .2 3.1 .1-3.3 .2 1.9 .2-2.4 .2 2.4 .2-.2 .2 2.2 .1 1.6 .2-3.2 .2-1.5 .2 6 .2-3.4 .2 .5 .2 0 .1 1.8 .2-.9 .2-.7 .2 .1 .2-3.4 .2 .5 .2 1.1 .1 .4 .2-.2 .2 .6 .2-.6 .2-1 .2-2.6 .1 5.3 .2-.5 .2-3.2 .2 3 .2-.2 .2-.7 .2-4.2 .1 1.4 .2 1.3 .2 4.8 .2-5.4 .2 1.1 .2-1.7 .2 1.4 .1 1.8 .2-5.3 .2-1.6 .2 7.5 .2-1.3 .2-1.4 .1 3.4 .2 0 .2-6.7 .2 4.2 .2 2.7 .2-3.8 .2 .7 .1 2.8 .2-2.7 .2-2 .2 1 .2-1.4 .2 4.1 .2-5 .1 6 .2-5.8 .2 3.7 .2-3.4 .2 2.5 .2 3 .1 .2 .2 .3 .2-3 .2 .4 .2 .3 .2 .8 .2-2.3 .1 3.3 .2-1.7 .2 1.8 .2-1.5 .2 .4 .2-3.1 .2 .7 .1-2 .2 2.2 .2 .2 .2 2.2 .2-4.6 .2 9.9 .1-7.4 .2 3 .2-.5 .2-7.9 .2 5 .2 3.8 .2-8.6 .1 7 .2-3.8 .2 1 .2 1.5 .2-4.6 .2 4.5 .2-1.9 .1-.2 .2 3.1 .2 6.2 .2-7 .2 .4 .2-1.3 .1-1.6 .2 2.2 .2 2.8 .2-3 .2 1.5 .2-2.5 .2 6.1 .1-9.4 .2 5 .2-.1 .2-.7 .2-3.1 .2-.1 .2 2 .1 .7 .2-3 .2 .3 .2 3.6 .2 1 .2-3.6 .1-.4 .2-.1 .2 7.2 .2-4.5 .2-1.3 .2 2.4 .2 2.8 .1-2.6 .2-5.9 .2 3 .2-.8 .2 .1 .2-2 .2 1.8 .1-1.7 .2 3.2 .2-.7 .2-3.4 .2-.7 .2 2.7 .2 2.5 .1-.4 .2-1.3 .2-7.5 .2 6.3 .2-.6 .2 .9 .1-2.2 .2 1.8 .2-.6 .2 7.7 .2-4.7 .2-2.2 .2 .3 .1-.3 .2 .6 .2-1.4 .2 .8 .2 2.3 .2-.5 .2-1.4 .1 2.3 .2-2.7 .2-2.9 .2-1.9 .2 2.3 .2 1.4 .1 1 .2 1.5 .2-4 .2-.7 .2 3.6 .2 .8 .2-4.1 .1 1.8 .2 2.4 .2-2.7 .2-1 .2-5 .2 7.9 .2-1.8 .1-1.4 .2-1.6 .2-2 .2 2.6 .2-.3 .2 2.8 .1-5.8 .2 6.2 .2-3.6 .2 2.5 .2-5.4 .2 2.9 .2 1.9 .1-2.9 .2-4.2 .2 2.6 .2 1.8 .2-5 .2-.4 .2 3.8 .1-3.2 .2 3.7 .2-5 .2-2 .2 2.3 .2 5.3 .1-6.3 .2 1.8 .2 .2 .2-3.4 .2 4.7 .2-2.8 .2 .2 .1-5.9 .2-.7 .2-3.2 .2 6.1 .2-.7 .2 1.9 .2 1.3 .1-5.2 .2-.7 .2 1.2 .2 2.1 .2-7 .2 3 .1-3.2 .2-1.1 .2 2.1 .2-5.3 .2-1.8 .2 3.6 .2-3 .1-1.9 .2-.9 .2 .3 .2-3.8 .2 1.6 .2-2.6 .2 1.4 .1-2.5 .2-3.1 .2-5.1 .2-1.3 .2-4.5 .2 7.6 .1-11.8 .2-.6 .2-.7 .2-11.7 .2-2.1 .2-2.6 .2-6.2 .1-5.5 .2-2.6 .2 .4 .2-7.6 .2-8.5 .2-6.7 .2-12.9 .1 .2 .2-9.2 .2-14.2 .2-4.9 .2-11.6 .2-12.1 .1-13.2 .2-11.1 .2-13.9 .2-8 .2-14.5 .2-14.8 .2-17.2 .1-16.5 .2-5.6 .2-32.3 .2-2.8 .2-19 .2-16 .2-16.4 .1-11.4 .2-15.4 .2-10 .2-1.2 .2-4.3 0 0 .2 3.3 .1-3.3 .2 0 .2 8.7 .2 7.6 .2 9.5 .2 13.1 .2 14.5 .1 14.7 .2 19 .2 8 .2 19.3 .2 5.4 .2 21.9 .2 11 .1 25.4 .2 18.1 .2 6.8 .2 6.1 .2 17.1 .2 12.4 .1 11.9 .2 13.7 .2 9.4 .2-3.4 .2 22.7 .2 1.6 .2 7.4 .1 13.6 .2 .9 .2 2.5 .2 5.8 .2 9.7 .2 7.5 .2 6.3 .1-1.1 .2 3 .2 9.9 .2-3 .2 8.8 .2-.8 .2 2.7 .1 1.1 .2 3.9 .2-.1 .2 1.5 .2 3.4 .2 .3 .1 4.4 .2 1 .2 .5 .2 1.6 .2 1.2 .2 6.7 .2-3.6 .1-.5 .2 1.9 .2 3.6 .2-1.4 .2 1.1 .2 .6 .2 2 .1 1.4 .2 .9 .2-4.8 .2 2.2 .2-3.4 .2 9.6 .1 1.4 .2 1.1 .2-2.4 .2 3.1 .2-2.5 .2 .3 .2-3.2 .1 2.4 .2 1 .2 4.2 .2 2.3 .2-5 .2 2.5 .2 .1 .1-2.2 .2-2 .2 2.7 .2-1.4 .2 3.1 .2 .8 .1 .1 .2 .4 .2 1.8 .2-3.2 .2 4.7 .2-6 .2 4.5 .1 1 .2-2.7 .2-1.7 .2 5.6 .2-3 .2 3.8 .2 .1 .1-1.7 .2 .2 .2 2.5 .2-1.3 .2-3 .2 2.8 .1 1.1 .2-.7 .2 .1 .2-.7 .2 .2 .2-1.8 .2-1.1 .1 6.2 .2-4.1 .2 2.2 .2-4 .2 4 .2-2.2 .2 9 .1-9.3 .2 .2 .2 4.6 .2 .5 .2-7.6 .2 5.7 .1 1.5 .2-4.9 .2 4.6 .2-2.8 .2-1.1 .2 1.6 .2-.2 .1-2.2 .2 8.6 .2-6.3 .2-.7 .2 3.8 .2-2.1 .2 3.3 .1-3.8 .2 1.5 .2-.6 .2 .2 .2-.9 .2 .2 .1 4.2 .2-5.5 .2 .3 .2 .4 .2 2.2 .2-.5 .2 1.2 .1-5.3 .2 3.7 .2-1.1 .2-.3 .2 1 .2-5.1 .2 5.2 .1-.4 .2-3.7 .2 3 .2 3.8 .2-4.7 .2 2.2 .1-2 .2-1.5 .2-.4 .2 1 .2 3.9 .2-1.3 .2-3.8 .1 3.9 .2-2.9 .2-1.6 .2 2.5 .2-3.5 .2-1.9 .2 6.6 .1-7.8 .2 5.4 .2-5.4 .2 3.2 .2-.8 .2-1 .1-4.8 .2 4.6 .2-.4 .2-2.8 .2 1.4 .2 1.9 .2-5 .1 1.5 .2-4.5 .2 2.8 .2-.4 .2 3.5 .2-5.5 .2-2.7 .1 .9 .2-8.2 .2 3.5 .2-6.6 .2-2.6 .2 2 .1-5.2 .2-.1 .2-11.3 .2 1.2 .2-6.2 .2-3.5 .2-9.4 .1 3.7 .2-7.2 .2-8.8 .2-6.5 .2-3.8 .2 1.8 .2-9.8 .1-5.5 .2-1.6 .2-5.3 .2-2.1 .2-.2 0-2.6 .2 2 .2-2 .1 .5 .2 .7 .2 4.5 .2 3.2 .2 2.4 .2 5.7 .1 9.2 .2 .6 .2 3.2 .2 11 .2 6.3 .2 1.2 .2 6 .1 1.7 .2 6.1 .2 7.8 .2 2.8 .2 1.6 .2 2 .2-.7 .1 7.9 .2 2.9 .2 3.8 .2 4.6 .2-2.5 .2 3.3 .1-3.8 .2 7.4 .2 .4 .2 2.4 .2-.6 .2 .4 .2 3.5 .1-4.5 .2 4 .2 1.8 .2-3.9 .2-.2 .2 4.3 .2-.2 .1 1.7 .2 .5 .2-2.9 .2 3 .2 2.3 .2-3.1 .1 .5 .2-1.7 .2 4.8 .2 2.9 .2-7.4 .2 5.2 .2 .6 .1-3.1 .2 .6 .2-1.3 .2 .8 .2 2.4 .2 1.2 .2-1 .1 1.8 .2-1.3 .2-2.9 .2 6 .2-.4 .2-4.1 .1 5.6 .2-2.7 .2-.7 .2 4.1 .2-9.7 .2 2.1 .2 5.2 .1-2 .2-1.4 .2 5.5 .2-2.2 .2-3.8 .2 1.5 .2 3.4 .1 2.1 .2-8.2 .2 5 .2-1.3 .2-2.9 .2 3.5 .1-3.1 .2 2.4 .2 4.8 .2-2.4 .2 .7 .2-.4 .2-.5 .1 1.4 .2-4.6 .2 1.8 .2 2.7 .2-3.4 .2 .7 .2 3.6 .1 .8 .2-4.6 .2-.4 .2 3 .2-.6 .2-2 .1 2.8 .2-.1 .2-.9 .2 6.1 .2-3.3 .2-1.2 .2 .5 .1 4.2 .2-4 .2-3.8 .2 2.2 .2-.5 .2-1.3 .2 1.8 .1 0 .2-.6 .2-.9 .2 2.8 .2-5.2 .2 5.2 .1-1.7 .2 .6 .2-5.6 .2 8.7 .2-7.3 .2 1.9 .2 3.2 .1-2.6 .2 .4 .2-3.9 .2 3.9 .2 1.4 .2 1 .2-2 .1 1.1 .2 .5 .2-2.4 .2-.1 .2 5.7 .2-5.9 .1 4.4 .2-2.4 .2 3 .2-4.5 .2 2.5 .2-.4 .2-1.2 .1 1.2 .2-2.3 .2 1.5 .2-.7 .2 2.5 .2-1.8 .2-2.7 .1 2.1 .2 .6 .2-1.7 .2 4.8 .2-2 .2 1 .1-3.4 .2 .8 .2 2.9 .2-5.1 .2 3.8 .2-.6 .2-1.2 .1 1.3 .2-2.5 .2 2.8 .2-3.1 .2-.1 .2 5.7 .2-4.4 .1-3 .2 6.5 .2-3.7 .2-5.8 .2 7.4 .2 2 .2-1.2 .1 2.9 .2-3.8 .2 1.5 .2-3.4 .2 2.5 .2 2.9 .1-2.2 .2-.7 .2-4.5 .2 3.4 .2-1.9 .2 4.3 .2-3.2 .1 2.4 .2-2.9 .2 6.1 .2-6.4 .2 2.7 .2 5.3 .2-5.1 .1-2.3 .2 3.2 .2 .8 .2-.3 .2-6 .2 4.7 .1-5 .2 8.5 .2-3.8 .2-1.1 .2 2.3 .2-.3 .2-3.6 .1 6 .2-4 .2-3.1 .2 6.6 .2 .3 .2-.6 .2-1.5 .1-3 .2 3.9 .2 1.9 .2-2.2 .2 1.7 .2-5 .1 3.8 .2-.2 .2-5.1 .2-.3 .2 1.9 .2 1.7 .2 .8 .1-1.4 .2 .3 .2-.1 .2 .5 .2 1 .2-.2 .2-1.1 .1 .6 .2-1.5 .2 2.7 .2-2.8 .2 4.6 .2-3.5 .1 .6 .2-2.2 .2 .9 .2 1.1 .2-.3 .2-1.4 .2-1.1 .1 2.5 .2 .3 .2 .8 .2 1.5 .2-3.3 .2-3.6 .2 4 .1-3.6 .2 1.2 .2 4.8 .2-.9 .2-2.6 .2 0 .1 1.2 .2-3.5 .2 4.7 .2-1.7 .2 4.6 .2-6.1 .2 4.3 .1-3.5 .2 3.6 .2-4.3 .2 3.7 .2-2.5 .2-.8 .2 1.4 .1 1.3 .2-.1 .2 2.5 .2-1.6 .2-7.3 .2 4.7 .1-3.4 .2 3.4 .2 2.2 .2-4.2 .2 .4 .2 2.8 .2-1 .1 4 .2-2.7 .2 .5 .2 2.6 .2-4.8 .2 1.1 .2-2.1 .1 2.6 .2 1.7 .2 .7 .2-3 .2-1.4 .2-.1 .1-1.4 .2 3.2 .2 2.7 .2-7.9 .2 .4 .2 7.6 .2-6.4 .1 4.1 .2-3.4 .2 4.4 .2 0 .2-1.3 .2 1.4 .2-1.7 .1 1.1 .2 2.7 .2-1.6 .2-3.7 .2-.3 .2 1.2 .1 0 .2 .7 .2-1.5 .2 2.7 .2-1.3 .2 .7 .2-.8 .1 1.3 .2-3.8 .2 5.9 .2-2.6 .2 .2 .2 .3 .2 1 .1-.7 .2-1.1 .2-.8 .2-3.1 .2 3.9 .2-1.1 .1 0 .2 5.7 .2-9 .2 4.1 .2 2.4 .2-.5 .2 .6 .1-5.3 .2 .6 .2 3.4 .2-2 .2 4.3 .2-3.1 .2-.1 .1 .5 .2-1.5 .2 .8 .2-1.7 .2 1.4 .2-1 .2 1.6 .1-3.5 .2-.2 .2 4.1 .2-.4 .2-2.6 .2 1.6 .1-1.7 .2 6.5 .2-7.6 .2 6.9 .2-5.4 .2 2.7 .2-1.5 .1-.2 .2 2.8 .2-.3 .2-2.3 .2-1.4 .2 6.4 .2-1.4 .1-2.7 .2-1 .2 1.3 .2-.5 .2 2.4 .2-4.6 .1 2.1 .2-1.7 .2 4.4 .2 1.1 .2-4 .2 1.3 .2 1.8 .1-3.6 .2-1.3 .2 4.2 .2-1.2 .2-1.5 .2 3.6 .2-2.6 .1-4.3 .2 4.5 .2-.9 .2 4.1 .2-4 .2-.4 .1 1.4 .2-.4 .2-3.5 .2 3.2 .2-1 .2 3.7 .2 2.1 .1-7.4 .2 .3 .2 .2 .2 .4 .2 0 .2 1.5 .2 2.2 .1-5 .2-.6 .2-.6 .2 6.3 .2 .4 .2-6.1 .1-.2 .2 3.8 .2 2 .2-.1 .2-1.8 .2 1 .2-.7 .1-1.9 .2 5.2 .2-4 .2-2.4 .2 1.4 .2-2.3 .2 3.3 .1 2.3 .2-5 .2 5.1 .2 2 .2-3.7 .2-3.2 .1 .6 .2 1.1 .2-2 .2 .1 .2 2.1 .2 .1 .2 1.7 .1-3.9 .2 6.6 .2-1.7 .2-.4 .2-3.3 .2 5.1 .2-4.5 .1 4.7 .2-1.6 .2-4.3 .2 1 .2 4.9 .2-1.8 .1-2.5 .2 .8 .2-.1 .2-2 .2 1.2 .2-1 .2 .5 .1 1.9 .2-3.1 .2 3.6 .2-1.3 .2 1.4 .2 .3 .2 .7 .1-1.3 .2 .2 .2-2 .2 1.6 .2-3.1 .2 1.4 .1 2.1 .2-1.7 .2 1 .2-3.2 .2 5.2 .2-4.2 .2 2.1 .1-.9 .2 2 .2-2.8 .2-1.3 .2-2 .2 3.4 .2-1.9 .1 3.7 .2 2 .2-8 .2 2.1 .2 3.4 .2 2 .1-2 .2 0 .2 .4 .2 .1 .2 2.3 .2-2.2 .2-4 .1 1.6 .2 1.5 .2-2.3 .2 1.2 .2-.6 .2-.4 .2 3.1 .1-2.4 .2-1.6 .2 .8 .2 1.7 .2 4.5 .2-4.1 .1 2.7 .2-2.2 .2-5.8 .2 5.5 .2-2.7 .2-1.1 .2 .6 .1 6.2 .2-7.3 .2 2 .2 3.9 .2-1.1 .2-5.2 .2 3.5 .1-.9 .2 .6 .2 2.1 .2-2.9 .2 .5 .2 3.9 .1-7.3 .2 3.2 .2 1.9 .2-3.9 .2 1.4 .2-1.6 .2 3.3 .1-1.8 .2 3.1 .2 .5 .2-2.2 .2-1 .2 1.4 .2-.4 .1-2.9 .2 5 .2-1.9 .2 1.3 .2-4.9 .2 5 .2 2.7 .1-3.4 .2-4.6 .2 3.3 .2-.3 .2 .6 .2-1 .1 1.6 .2-2.2 .2 1.5 .2-2.1 .2 1.7 .2 2 .2-3.4 .1 2.5 .2-3.5 .2 1.1 .2 .3 .2 3.3 .2-4.6 .2 4.4 .1-6.1 .2 2.9 .2 2.3 .2-.5 .2-3.9 .2-.6 .1 4.7 .2-4.9 .2 4.1 .2-2.6 .2 1.1 .2 5.3 .2-1.9 .1-1.7 .2-5.1 .2 3.8 .2-.7 .2-.4 .2 3.2 .2-7.2 .1 4.6 .2-.5 .2-2.1 .2 5.6 .2-7 .2 2.9 .1 0 .2-5.4 .2 1.6 .2 .9 .2 4 .2 .3 .2-1 .1-1 .2-5.9 .2 5.6 .2-1.9 .2 3.8 .2 .3 .2 1.9 .1-3.8 .2 .1 .2-4.6 .2 2.4 .2-3.3 .2 4.9 .1-5.3 .2 2.1 .2-1.7 .2 .6 .2 2 .2-2.8 .2 1.7 .1-3.3 .2 5.5 .2-5.3 .2 3.7 .2 2.5 .2-11.7 .2 3.1 .1 1.6 .2 3 .2-4.6 .2 1.7 .2-3.3 .2 2.7 .1-5 .2 4.6 .2-10.4 .2 2.1 .2 8.9 .2-5 .2-3.6 .1 7.3 .2-3.9 .2-.7 .2-5.1 .2 1.7 .2-1.5 .2-7.1 .1 4.8 .2-3.6 .2 2.5 .2-1.6 .2-7.3 .2-1.8 .1 .1 .2-1 .2-5.5 .2-1.9 .2-.8 .2-3.7 .2-1.2 .1-6.4 .2-7.4 .2-7.1 .2 3.5 .2-8.6 .2-5.3 .2-5.5 .1-10.2 .2-2.4 .2-14.2 .2 .3 .2-9.1 .2 1.9 .1-12.7 .2-10.4 .2-6.8 .2-6 .2-13.4 .2-5.7 .2-7.6 .1 4.2 .2-14.9 .2-10.6 .2 4.9 .1-4.9 .1 0 .2 11.6 .2-11.6 .1 3.2 .2-3.2 .2 4.4 .2 1 .2 6.4 .2 2.2 .1 19.5 .2-1.2 .2 13.4 .2 7.8 .2 4.4 .2 10.5 .2 7.3 .1 6.2 .2 9.3 .2 7 .2 3.1 .2 5.6 .2 7.5 .2 8.9 .1 9.4 .2 5.2 .2 1 .2 6.3 .2 1.4 .2 6.8 .1 .5 .2 4 .2 .9 .2 3.6 .2 8.1 .2-6.6 .2 5.6 .1 .3 .2 6.3 .2 4.1 .2-4.4 .2-5.3 .2 10.7 .2 1.3 .1-5.1 .2 5 .2 1.5 .2-5 .2 8.9 .2 .2 .2 .2 .1-2.6 .2 1.6 .2 .9 .2 3.5 .2-3.2 .2 6.9 .1-2.3 .2-6.1 .2 10.5 .2-3.5 .2-1.4 .2 2.1 .2-4.5 .1 5.5 .2-6.3 .2 3.9 .2 6.4 .2 0 .2-3.7 .2-1.3 .1 5.1 .2-2.2 .2 .9 .2 1.3 .2-4 .2 4.8 .1-6.9 .2 9 .2-7.3 .2 2.6 .2 0 .2 3.6 .2 .3 .1-.8 .2 .6 .2 0 .2-1.2 .2-4.3 .2-.8 .2 .1 .1 5.6 .2-.3 .2 .4 .2 1 .2-1 .2-1.8 .1-1.1 .2-.8 .2 7.6 .2-.7 .2-5.3 .2 2.7 .2 1.8 .1 2.8 .2-5.1 .2 1.9 .2 2.4 .2-6.8 .2 2.5 .2 1.7 .1-1.5 .2 6.7 .2-2.8 .2-1.6 .2-2.6 .2 4.4 .1-.5 .2-2.7 .2 .3 .2-2.4 .2 3.3 .2 2.3 .2 .4 .1-1 .2 .6 .2-3.2 .2 .3 .2 4 .2-1.8 .2-2.8 .1 3 .2 .9 .2-.3 .2-1.3 .2-1.5 .2 2.2 .1 3.1 .2-3.6 .2-1.9 .2 2.4 .2-3.6 .2 3.4 .2-1.2 .1 3 .2-2 .2 2.2 .2 2.9 .2-5.7 .2-1.4 .2 3 .1-1.2 .2 .5 .2-1.7 .2 2.7 .2-1.1 .2-5.1 .1 4.5 .2 1.3 .2 2 .2-4 .2-.5 .2 4.4 .2-4 .1 1.7 .2 .9 .2 .6 .2-1.7 .2-2.5 .2 4.9 .2-3.3 .1-.2 .2 5.8 .2-2.6 .2-4.4 .2 1.4 .2 .5 .1-1.1 .2-2.7 .2 6.2 .2 0 .2-1.2 .2-1.5 .2 1.4 .1 1 .2-3.8 .2 1.7 .2-.5 .2 2.8 .2-1 .2-3.5 .1 1.6 .2 5.4 .2-6.2 .2 2.5 .2-1.7 .2 4.2 .1-2.9 .2-.9 .2-1.6 .2 2.1 .2 2.4 .2-.3 .2-4.5 .1 6.5 .2-4.1 .2-1.8 .2 2.7 .2-1.7 .2 .1 .2-.1 .1 1.2 .2-.9 .2-2.7 .2 5 .2-2.3 .2 3.8 .1-1.5 .2 .2 .2-.9 .2 2.5 .2-3.7 .2-1.5 .2 3 .1-6.8 .2 5.2 .2 1.4 .2-1.5 .2 3.8 .2-1.2 .2-1.4 .1-1.1 .2 3.3 .2-3.9 .2 .6 .2 2.6 .2-.4 .2 3.3 .1-5.1 .2-3.7 .2 5.7 .2 1.3 .2-3.2 .2 3.9 .1 .5 .2-5.5 .2 .4 .2-1.7 .2 4 .2 .4 .2-.3 .1-4.1 .2 1.1 .2-1.5 .2-.4 .2 .6 .2-.6 .2 3.2 .1 1.3 .2 .5 .2-1.5 .2-1.5 .2 1.5 .2 1.3 .1-1.9 .2 .7 .2-.8 .2-.5 .2 1.3 .2-2.6 .2 4.8 .1-5.8 .2 4.5 .2-4.1 .2 6.4 .2-1.4 .2-3.8 .2 .8 .1-1.5 .2 2.4 .2 1 .2 4.8 .2-8.8 .2 5.9 .1-4.1 .2 1.9 .2 1.3 .2-.7 .2-.3 .2-1.4 .2 .4 .1 .3 .2 2.4 .2-6 .2 2.2 .2-1.8 .2 .7 .2 .3 .1 4.3 .2 2.3 .2-1.8 .2-5.7 .2 2.8 .2-2.7 .1 3.5 .2 1.8 .2-1.5 .2 .6 .2-2.3 .2-4.1 .2-.1 .1 4.2 .2 1.5 .2 1.6 .2-3.7 .2 .9 .2 .4 .2 1.8 .1-2.6 .2-2.3 .2 4.9 .2-1.6 .2-.1 .2-3.7 .1 2.8 .2-3.9 .2-.7 .2 4 .2-.5 .2 2.2 .2 2 .1-3.4 .2 4.1 .2-5.4 .2 3 .2-4.7 .2 3.2 .2-1.1 .1 .2 .2 1.8 .2-5.7 .2 4.5 .2-2.2 .2 2.1 .1 .6 .2-1.8 .2-.1 .2-1.9 .2 3.9 .2-2.9 .2 2.5 .1-4.4 .2 6.4 .2-5.6 .2 5 .2-3.8 .2 2.2 .2-1.7 .1 1.9 .2-1.7 .2 2.9 .2-1.5 .2-.1 .2 2.2 .1-5.6 .2 4.5 .2-3 .2-3.7 .2 4.5 .2-1.8 .2 4.4 .1-5.3 .2 1.1 .2 .3 .2-5.3 .2 5.6 .2-3.7 .2 5.5 .1 .5 .2-4.2 .2-4 .2 4 .2-.2 .2 1.1 .1-2.8 .2-2.4 .2 2.3 .2-2.2 .2 6.3 .2-6.4 .2-.2 .1 1.2 .2-3.3 .2 1.6 .2 .3 .2-1.3 .2 .2 .2 3.2 .1-2.5 .2-5 .2 1.7 .2 2.4 .2-4.2 .2 1.1 .1-1 .2 .6 .2-2.7 .2-.8 .2-2.9 .2 2.1 .2-4.6 .1 5.8 .2-6.1 .2-2.1 .2 1.1 .2-4.2 .2-1.6 .2-2.6 .1-4.3 .2-3.2 .2-2.2 .2 2.2 .2-8.5 .2-3.1 .2-4.1 .1-.8 .2-.7 .2-14 .2-.7 .2-7.1 .2-7.4 .1-3.7 .2-12.5 .2 .2 .2-9.1 .2-11.3 .2 2.1 .2-9.3 .1-5.3 .2-15.2 .2-.8 .2-5.1 .2 1.1 0-2.6 .2 0 .2 0 .1 0 .2 2.5 .2-1.5 .2-1 .2 7.9 .2 1.9 .1 6.5 .2 9 .2 4.6 .2 9.2 .2 .6 .2 19.8 .2 3 .1 4.7 .2-.3 .2 3.3 .2 9.8 .2 7.4 .2 12.7 .2 1.8 .1-1.3 .2 9.3 .2 3.7 .2-.1 .2 6.6 .2 .4 .1-.2 .2 1 .2 5.2 .2 5.2 .2-4.6 .2 1 .2 7.5 .1-7.4 .2 13.5 .2-4.8 .2 4.2 .2 4 .2-7.7 .2 1.9 .1 9.4 .2-5.8 .2 1.1 .2 1.6 .2 2.7 .2 1.2 .1-2.5 .2-.6 .2 1.2 .2 1.3 .2 2.9 .2-2.6 .2 4.6 .1-6.3 .2 3.8 .2 3.3 .2-.9 .2-2.1 .2-2.7 .2 .7 .1 1.6 .2 1.3 .2-1.1 .2-2.7 .2 1.9 .2 3.2 .1 .9 .2-5.2 .2 2.6 .2-3 .2 2.8 .2 10 .2-8.2 .1-.9 .2-.5 .2-1.4 .2-1.5 .2 4.4 .2-.5 .2 4.3 .1-7.4 .2 5 .2 2.2 .2-7.8 .2 6.2 .2-5.4 .1 5.1 .2 2.3 .2-3.6 .2 .7 .2-2.3 .2 2.3 .2 1.9 .1-3.2 .2 .1 .2 1.1 .2 1 .2-6 .2 3.9 .2-1.9 .1 2.7 .2 1.1 .2-2 .2 2.2 .2-5.8 .2 1.1 .1-1.7 .2 2.2 .2-.3 .2-1.1 .2-3 .2 2.3 .2-1.5 .1 2 .2-2.9 .2 2.9 .2-3.2 .2-6.2 .2 3.4 .2-4.3 .1 5.1 .2 .1 .2-5.1 .2 0 .2-6.4 .2-3.6 .1 3.1 .2-.6 .2-4.8 .2 3.1 .2-.7 .2-.2 .2 1.6 .1-2.8 .2-2.8 0 .2 .2 1.1 .2-1.3 .2 3.3 .2-.9 .2-2.4 .1 0 .2 12.6 .2-7.2 .2 1.4 .2 3.6 .2-1 .1-.7 .2 2.7 .2-2.9 .2 5.7 .2-4.6 .2 6.5 .2 1.6 .1-4.3 .2 10.1 .2-6.8 .2 6.6 .2-3.1 .2 3 .2-1.6 .1 8.5 .2-2.9 .2 2.5 .2-2 .2 .4 .2-.9 .2-.5 .1 2.5 .2-.7 .2-.4 .2-2.6 .2 2.9 .2 2.4 .1-2.3 .2 2.2 .2-1 .2-1.8 .2 .5 .2 .5 .2 1.2 .1 .3 .2 3.3 .2-5 .2-2 .2 6.4 .2-2.5 .2 .8 .1 6.3 .2-2.4 .2-2 .2 .9 .2-1.8 .2 2 .1-3.5 .2-.1 .2 .6 .2 4.7 .2 0 .2-4.8 .2 4 .1-2.9 .2 2.9 .2-3.1 .2 2.9 .2-2.4 .2-.3 .2 .6 .1 .5 .2-1.6 .2-1.8 .2 6.9 .2-4.6 .2-3.1 .1-1 .2-1.2 .2 5 .2 4.4 .2-6.7 .2 3 .2-3.3 .1 6.5 .2-1.6 .2-.1 .2 2.4 .2 .6 .2-1.3 .2-3.6 .1-1.6 .2 .7 .2-1.6 .2 7.9 .2-4.4 .2 .7 .1 .2 .2 4.1 .2-5.7 .2 3.9 .2-2 .2-1 .2-3.8 .1 6.2 .2-3.6 .2 .6 .2 1.6 .2-.3 .2 2.3 .2-4 .1 1.9 .2 .2 .2-.5 .2 1.5 .2-2.1 .2 3.2 .1-4.2 .2-1.6 .2 3.1 .2 2.7 .2-3.7 .2-.2 .2 .6 .1 1.1 .2-.7 .2 1.1 .2-4.5 .2 7.1 .2-2 .2-3.2 .1 4.9 .2-2 .2 2.3 .2-5.8 .2 6.2 .2-3.5 .1-4.6 .2 6.1 .2-2.3 .2-1.5 .2 1.8 .2-3.8 .2 5.5 .1-1.7 .2-.1 .2 3.6 .2-3 .2-1.5 .2-.6 .2 2 .1 2.4 .2-3.6 .2-1 .2 4.3 .2-1.8 .2-.2 .1 4.6 .2-7.2 .2 3.1 .2-4.3 .2 3.2 .2 1.9 .2 1.2 .1-5.2 .2 4.6 .2-.1 .2-2 .2 5.6 .2-5.3 .2-1.9 .1 2.8 .2-4.9 .2 7.4 .2-1.2 .2-3 .2 2.2 .1-.2 .2 3 .2-5.5 .2-1.5 .2-1.6 .2 3.8 .2-2.7 .1 3 .2 1.3 .2-1.9 .2-1.1 .2 4.7 .2-3.1 .2 1 .1 1.6 .2-4.9 .2 .8 .2 7.4 .2-5.7 .2-2 .1 1.8 .2-.7 .2-1.4 .2 1.7 .2 .9 .2 0 .2 1.2 .1-4.9 .2 .5 .2 4.9 .2-2.6 .2 3.6 .2-2 .2-3.7 .1 4.2 .2-3.3 .2 2.7 .2 2.1 .2 1.9 .2-4.7 .2 1.7 .1-.9 .2 1.1 .2-7.2 .2 4.6 .2 1.5 .2 .4 .1-2.6 .2 3.4 .2 .6 .2-2.3 .2-.6 .2-.3 .2 1.1 .1 2.2 .2 .7 .2-4.2 .2-1 .2 .3 .2 3.8 .2-1.6 .1 .2 .2 .4 .2-.3 .2-1 .2-2 .2 .9 .1 1.6 .2 .6 .2-1.7 .2-.1 .2 3.9 .2-4 .2 1.5 .1-1.1 .2-1.2 .2-1.4 .2 2.1 .2-.6 .2 3.6 .2-4.3 .1 1.6 .2 2.3 .2-1.7 .2 1.3 .2 .7 .2-5.3 .1 2.7 .2-1.2 .2 5 .2-3.2 .2 1.3 .2 2.6 .2-4.4 .1 .9 .2 .7 .2-1.4 .2 3.3 .2-1 .2 .4 .2-2 .1-.9 .2 0 .2 0 .2-2.7 .2 4.3 .2 .9 .1-1.7 .2-1.1 .2 1.2 .2 .4 .2 .2 .2 3.1 .2-5.6 .1 2.6 .2 .7 .2-1.4 .2-.6 .2-1.7 .2 .9 .2 2.8 .1 1.6 .2-4.5 .2 2.4 .2 .1 .2 1 .2-1.6 .1 .4 .2 1 .2-4.4 .2 2.6 .2-3.9 .2-.4 .2 2.4 .1-1.5 .2 4.4 .2 1 .2-2.8 .2 .4 .2-.2 .2-.1 .1 .9 .2 .4 .2-1.7 .2-.7 .2 .6 .2 2.8 .1-2.6 .2 3.9 .2-3.5 .2 3.4 .2-5.4 .2 1 .2 2.5 .1 0 .2-1.4 .2 4.7 .2-4.2 .2 .5 .2-1.8 .2 4.7 .1-1.7 .2-1 .2-4.3 .2 4.2 .2-1.7 .2 1.8 .1 1.1 .2-3.5 .2 2 .2 1.4 .2-1.5 .2-1 .2-1.6 .1 .8 .2-1.2 .2 4.7 .2-1.8 .2-2.8 .2 2.5 .2-2.7 .1-4.2 .2 9.5 .2-.1 .2-5.6 .2 1.6 .2 2 .1-1.3 .2-1 .2 .7 .2 .6 .2-.7 .2 1.6 .2-.9 .1-1.1 .2 1.6 .2-3.5 .2 6.5 .2-6.7 .2 3.5 .2 .9 .1 .1 .2-.3 .2 2.1 .2-5 .2 2.2 .2 .5 .1-1.4 .2-.2 .2 3.9 .2-4.2 .2 .5 .2 .4 .2 .2 .1 .8 .2-.8 .2 1.2 .2-.5 .2 .7 .2 1.9 .2-4.7 .1 5.2 .2-4.4 .2 2.4 .2-1.1 .2-1 .2-3.5 .1 7.5 .2-5 .2-.1 .2 3.9 .2-2.1 .2 3.9 .2-.5 .1-2 .2-1 .2 1.1 .2-4.4 .2 3.1 .2-.1 .2-1.3 .1 1.5 .2-3.6 .2 5 .2 .8 .2-5.5 .2 3 .2 3 .1-2.4 .2-3.1 .2 .1 .2 3.9 .2 2 .2-6.2 .1 2.4 .2-1.8 .2 1.1 .2 1.2 .2-.8 .2-1.4 .2 6 .1-4.9 .2-.1 .2 2.8 .2-2.4 .2-.5 .2 2.5 .2-4.3 .1 3.8 .2 .5 .2-.8 .2-1.8 .2 .3 .2-3.7 .1 3.4 .2 .8 .2 1.2 .2-1.6 .2-1.1 .2-1.1 .2 1.7 .1 .3 .2 2.3 .2-2.7 .2-1.1 .2 .8 .2-.9 .2 .4 .1-4.3 .2 1.2 .2 .8 .2 3.5 .2-1.3 .2 .4 .1 2.2 .2-5 .2 4.7 .2-1.8 .2-2.6 .2 4.7 .2-6.6 .1 .4 .2 1.9 .2 1.1 .2-1.5 .2-4.7 .2 3.9 .2 .2 .1 5.6 .2-3 .2-3.2 .2-3.3 .2 2.9 .2-4 .1 2.6 .2-.2 .2-2.5 .2 .9 .2-2.2 .2-1.3 .2 4.2 .1-3.2 .2-3.2 .2-2.1 .2 1.3 .2-.2 .2-.4 .2 .5 .1-3.7 .2-5.2 .2 7 .2-3.2 .2-1.8 .2 .6 .1-4.6 .2 0 0 0 .2 2.8 .2-2.8 .2 0 .2 3.7 .2-2 .1-1.7 .2 5.9 .2-5.9 .2 3.6 .2-.9 .2 2.8 .2-1 .1-.4 .2 3.7 .2-2.7 .2 5.6 .2-1 .2 4.1 .1-2.4 .2 .4 .2 3.5 .2 2.8 .2-7.1 .2 6 .2 1.9 .1-4.2 .2 1.9 .2 4.1 .2-2.9 .2 .9 .2 5.9 .2-5.7 .1 .5 .2-2.9 .2 3.1 .2 0 .2 6.8 .2-.9 .1-5.3 .2 7.4 .2-2.4 .2-2 .2 2.4 .2-.8 .2-2.4 .1-2.1 .2 2 .2 2.1 .2-.6 .2-.8 .2 3.9 .2-4.4 .1 4.3 .2-2.9 .2 1.4 .2-2.6 .2 2.5 .2-1.6 .1-2 .2 3.7 .2 0 .2 2 .2-1.2 .2-2.7 .2 .9 .1-4 .2 3 .2 5.2 .2 .5 .2-1.6 .2-.9 .2 .6 .1-.2 .2-4.7 .2 1.9 .2 4.4 .2 0 .2-2 .1-1.1 .2-.1 .2-.3 .2-.8 .2-2.1 .2 4.4 .2-1.3 .1 .5 .2 4.1 .2-2.3 .2-2.7 .2 2.7 .2-4.4 .2 5.4 .1-1.6 .2-1 .2 1.6 .2 1.9 .2-4 .2-1.1 .2 6.5 .1-4.4 .2 3.1 .2-4.5 .2 2.2 .2-2.1 .2 2.7 .1-1.9 .2-.9 .2 4.7 .2-2.5 .2-5 .2 3.8 .2-1.4 .1-.7 .2 1.4 .2 .2 .2 1.1 .2-1.8 .2-2.2 .2 2.8 .1 3 .2-4.7 .2 4.1 .2-.3 .2-1.9 .2 1.6 .1-2.2 .2 .7 .2-1.3 .2 3.1 .2 1.9 .2-4.3 .2 4 .1-7 .2 2.6 .2-.3 .2 5.8 .2-4.9 .2 2.9 .2-5.9 .1 4.5 .2 1 .2-1.3 .2-5.6 .2 6.1 .2 1.3 .1 1.1 .2-2 .2-4.4 .2 3.1 .2 2.4 .2-3.6 .2 2.9 .1-2.2 .2 1.2 .2 1.4 .2-3.1 .2 7.5 .2-5.7 .2 .4 .1-2.3 .2 1.7 .2-.7 .2-2.5 .2-.2 .2 3.9 .1-.8 .2-5.4 .2 1 .2 3.9 .2 .5 .2 1.4 .2-3.9 .1 3.9 .2-1.9 .2-.4 .2 .8 .2 2.3 .2-.9 .2 .7 .1-3.3 .2 .8 .2-1.8 .2 1.3 .2 .3 .2-.2 .1 2.5 .2-.6 .2 .7 .2-1.3 .2 2 .2-2.1 .2 1.8 .1-.9 .2 .4 .2-1.7 .2-2.5 .2-.4 .2 7.2 .2-3.3 .1 .1 .2-1.3 .2-.6 .2 7 .2-8.5 .2 2.3 .1 0 .2-2.3 .2-.3 .2 1.2 .2 .7 .2-.3 .2 2.8 .1-4.3 .2 3.4 .2 2.3 .2-1.3 .2-4.3 .2-3.9 .2 8.1 .1-.7 .2-2.4 .2 4 .2-3.6 .2 1.1 .2-2.5 .1 2.9 .2-1.6 .2-.2 .2 3.4 .2-1.9 .2-3.6 .2 4.6 .1 .3 .2-3.6 .2 1 .2 .9 .2-.6 .2 .7 .2 1.2 .1-2.5 .2 5.5 .2-6 .2 .3 .2 5.4 .2 .9 .1-5.1 .2-.5 .2-1.9 .2 4.7 .2-2.1 .2-2.2 .2 2.7 .1 2.1 .2-1.5 .2 3.2 .2-2.3 .2-1.5 .2-1.1 .2 1.3 .1 1.4 .2-.8 .2 .4 .2-1.9 .2 1.2 .2 .9 .1-3 .2-2.5 .2 6.6 .2-2.6 .2-2.2 .2 1.4 .2-1.1 .1-3.2 .2 3.3 .2-2.8 .2 3.6 .2-.8 .2 2.7 .2-2.8 .1 1.1 .2-1.6 .2-.2 .2-2.3 .2 5.2 .2-1.8 .2-1.8 .1 1.7 .2-1.4 .2-.8 .2 2.1 .2 2.1 .2-3.3 .1-2.7 .2 1.7 .2 5.3 .2-5.9 .2 4.4 .2-3.2 .2 2.1 .1-2 .2-3.4 .2 2.5 .2 5.6 .2-5.2 .2 1.5 .2-2.2 .1 .3 .2 1 .2 .2 .2 3.8 .2-5.2 .2-.6 .1-1.2 .2-1.7 .2-.9 .2 5.1 .2-6.1 .2 7.4 .2-1.5 .1-2.9 .2-2.3 .2 2.5 .2-.3 .2 2.3 .2-4.7 .2 .5 .1 .4 .2-.9 .2-1.3 .2-3.1 .2-.3 .2 1.8 .1 .6 .2 2.4 .2 2.6 .2-2.2 .2-3.9 .2 2.9 .2-5.8 .1-1.9 .2 6.2 .2-9.6 .2 .6 .2-.8 .2 3.2 .2-6.6 .1 2.2 .2-4.5 .2-3.7 .2 2.3 .2-1.9 .2-5.3 .1-1 .2-1.7 .2 3 .2-3.3 .2-2.6 .2-1.2 .2-4.6 .1 .9 .2-4.8 .2-3.8 .2 .4 .2 1.3 .2-1.4 .2 1.9 0-3.3 .1 0 .2 .3 .2-.3 .2 0 .2 0 .2 0 .1 3.6 .2-3.6 .2 5 .2-2.9 .2-.3 .2 1.6 .2 2 .1 1.3 .2 4.9 .2-4.4 .2 10.6 .2 .6 .2 3.3 .2-4.8 .1-1.9 .2 6.3 .2 2.9 .2 2.9 .2-.7 .2 2.6 .1 2 .2-3.1 .2 10 .2-6.5 .2 4.7 .2 3.1 .2-3.8 .1 2.9 .2 5 .2-4 .2 4 .2-1.2 .2 .5 .2 1.8 .1-1.8 .2 .5 .2 3.4 .2-1.3 .2 1 .2-3.8 .1 3.3 .2 3.2 .2-.5 .2-1.1 .2-1.8 .2 0 .2 2.7 .1 2.5 .2-3.1 .2 3.1 .2-3.7 .2 3.7 .2-5.1 .2 2.9 .1-2.9 .2 4.1 .2-.1 .2-3.6 .2 .5 .2 .7 .1-2.5 .2 1.3 .2 .1 .2 3.9 .2 1.3 .2-4.4 .2 .3 .1 1 .2-1.8 .2 .4 .2 2.5 .2-1.7 .2-.9 .2-1.5 .1 4.7 .2-5.3 .2 1.4 .2-3.1 .2 .6 .2 1.3 .1-1.7 .2 1.8 .2-1.7 .2-4.2 .2-2.9 .2 7.4 .2-4.6 .1 4.3 .2-4.5 .2-2.9 .2 2.4 .2-3.2 .2-.4 .2-3.6 .1 2.8 .2 0 .2-5.6 .2 4.7 .2-7.7 .2 .8 .2-6.6 .1-2.3 .2 9.6 .2-3.2 .2-2 .2-7.8 .2 3 .1-.4 .2-1.8 .2-.8 0 0 .2 0 .2 0 .2 0 .2 .4 .1-.4 .2 0 .2 0 .2 1.4 .2 3.4 .2-1 .2 1.5 .1-4 .2 4.2 .2 4.5 .2-3.2 .2 2.5 .2-.1 .1 7.6 .2-3.4 .2 .7 .2 4.8 .2 2.6 .2-.3 .2 2.4 .1-.8 .2 .3 .2 .2 .2 .9 .2 .7 .2 3.3 .2-.4 .1 1.3 .2 2 .2-.9 .2-2.5 .2 2 .2-.3 .1-1.3 .2 5.3 .2-2.6 .2 .2 .2 .9 .2 4.9 .2-2.4 .1 3.4 .2-2.2 .2-.6 .2 2.6 .2 .3 .2-.9 .2-2.4 .1 1.6 .2-1.5 .2 2.3 .2 1 .2 3.3 .2 0 .1-1.6 .2 .8 .2-1.5 .2 5.8 .2-2.6 .2 2.6 .2-5 .1 .2 .2 1.5 .2-1.9 .2 .4 .2-2.8 .2 4.4 .2-1.7 .1 1.5 .2-2.2 .2-3.4 .2 5.2 .2 1.5 .2-5.4 .1 .8 .2 1.5 .2 .2 .2-3.1 .2 7.6 .2-1.6 .2-3.5 .1-2.6 .2 4.8 .2 3.6 .2-2.5 .2 .8 .2-4.5 .2 2.6 .1-3.8 .2 7.6 .2-3 .2-5.8 .2 .6 .2 5.1 .1-.7 .2-1 .2 2.1 .2 3 .2-3.5 .2-4.7 .2 3.6 .1-2.5 .2 1.2 .2 2.4 .2-1 .2-1.9 .2 2.2 .2-1.6 .1 2.9 .2-1.7 .2 1.4 .2-1.4 .2 2.2 .2-1.9 .1 .3 .2-1.2 .2 1.6 .2-4.1 .2 9.5 .2-7.1 .2 1.7 .1-1.3 .2 0 .2 1.9 .2-1.9 .2 .2 .2-2 .2 1 .1-.6 .2 6.4 .2-6.7 .2 .6 .2 2.7 .2 2.7 .1-6.7 .2 .3 .2 3.6 .2 .5 .2-3.8 .2-.8 .2 1.8 .1 3.7 .2-1.7 .2 1.7 .2-1.8 .2 .2 .2 1.3 .2-1.5 .1 .7 .2-2.4 .2 .7 .2 2.3 .2-1.5 .2-1.1 .1 3 .2-.2 .2-1.2 .2-1.6 .2 3.5 .2 3.4 .2-7 .1-1.5 .2 1.6 .2-.3 .2-.7 .2 .2 .2 4.3 .2 0 .1 1.3 .2-1.5 .2-2.6 .2 3.3 .2-3.6 .2 .6 .2-1.8 .1 5.1 .2-.4 .2-3.2 .2 .4 .2 .7 .2 .4 .1 1.3 .2-1.6 .2 .7 .2-4 .2 2.5 .2-3.1 .2 7.5 .1-.8 .2-1.4 .2 .8 .2 1.9 .2-2.2 .2-5.4 .2 2.9 .1-4.5 .2 3.3 .2-.9 .2 2.6 .2 .8 .2-2.8 .1 1.4 .2 1.2 .2-.9 .2-.1 .2-4.7 .2 4.2 .2 2.6 .1-1.1 .2-3.7 .2 2.5 .2 1.2 .2-2.6 .2 3.4 .2-3.1 .1 1 .2 .5 .2 4.9 .2-5.4 .2-.5 .2 2.7 .1-2.5 .2 1.4 .2-5.1 .2 5.4 .2-.7 .2-2.7 .2 5.6 .1-3.4 .2 .1 .2-2.3 .2-.7 .2 2.2 .2-2 .2 4.3 .1 .8 .2-3.2 .2-2 .2 2.5 .2-1.4 .2 2.6 .1 0 .2-1.3 .2 1.1 .2 2 .2 1.4 .2-4.7 .2 2.7 .1-2.1 .2-1.7 .2 4.9 .2-1.8 .2-.6 .2 .5 .2-1.1 .1-1.9 .2 6 .2-1.9 .2-1.3 .2 1.5 .2 .6 .1-3.1 .2 1.7 .2-2 .2 2.1 .2-1.9 .2 5.6 .2-5.8 .1 1.8 .2-.1 .2-1.7 .2 2.7 .2-2.2 .2-.7 .2 .9 .1-1.6 .2 4.1 .2-1.2 .2 .8 .2-5 .2 3.5 .1-2.2 .2 1.8 .2 2.5 .2-2.2 .2-.9 .2 2.7 .2-.2 .1 1.8 .2-7.9 .2 4.7 .2-1.6 .2-1 .2 2.1 .2-2.7 .1-2.3 .2 2.8 .2 1.4 .2 4.5 .2-5.5 .2-1 .1-1.7 .2 3.5 .2 .2 .2 .8 .2-3.4 .2 1.5 .2-3.2 .1 5.1 .2-3.6 .2-2.6 .2 8.3 .2-1.4 .2-.3 .2 0 .1-3 .2 4.5 .2-4.5 .2 6.3 .2-3.6 .2-4.4 .1 5.7 .2 2.4 .2-4.8 .2 2.8 .2-2.7 .2-.9 .2-4.1 .1 8.1 .2-3.6 .2 1.7 .2-3.2 .2 .5 .2 4.3 .2-3.2 .1-.1 .2-1.8 .2 3.1 .2 1.2 .2-2.7 .2 .6 .1-2.2 .2 5.6 .2-4.4 .2 1 .2 4 .2-4.2 .2-2.8 .1 1.3 .2 1.2 .2 4.6 .2-3.4 .2-.9 .2 2.2 .2 1 .1-4.4 .2 4.7 .2-1.3 .2-.9 .2-6.1 .2 5.5 .2 2.6 .1-3.6 .2 5.5 .2-4.8 .2-2.4 .2 3.4 .2-.6 .1 1.1 .2-2.3 .2 3.3 .2-4.1 .2 1.5 .2-3.1 .2 1 .1 2.2 .2-2 .2 .5 .2 .5 .2 .9 .2 1.1 .2 0 .1 .5 .2-1.8 .2-1.7 .2-2.4 .2 2.7 .2-1 .1-2.3 .2 7.6 .2-7.8 .2 4.8 .2 .4 .2-1.8 .2 6.2 .1-5.8 .2-1.8 .2 5.6 .2-5.8 .2-1.5 .2 .9 .2 .7 .1 1.5 .2 .5 .2-4.2 .2 4.1 .2 4.2 .2-6.8 .1 1.2 .2 1.8 .2 1 .2-4.4 .2-.8 .2-.2 .2 4.7 .1-.6 .2-7.3 .2-.1 .2 1.9 .2-.8 .2 4.3 .2-.7 .1 3.9 .2-3 .2-1.8 .2 2.2 .2-5.2 .2-1.5 .1 3.1 .2 1.8 .2-6.5 .2 5.7 .2-.5 .2-3.8 .2 1.2 .1-1.6 .2 .3 .2 1.2 .2-4.7 .2 4 .2-1.2 .2-.7 .1-8.1 .2-.6 .2 5.6 .2-4.3 .2-1.4 .2-1.3 .1-2.7 .2 1.5 .2-2.5 .2-1.2 .2 1.6 .2-6 .2 4.7 .1-10.8 .2 11.4 .2-12.4 .2 3.7 .2-.7 .2-4.3 .2 .5 .1-3.9 .2-6.1 .2 4.6 .2 1.1 .2-5.7 .2 0 .1 0 0 .7 .2-.5 .2 2 .2-1.7 .2-.1 .2-.4 .2 6.1 .1-5.8 .2 3 .2-2.7 .2 1.5 .2 1.6 .2 5.5 .2 1 .1-1.3 .2 5.2 .2-5.4 .2 4.1 .2-1.3 .2 6.4 .1-1.9 .2 4.1 .2 3.5 .2-8.9 .2 13 .2-3.6 .2-.3 .1-3 .2 5.6 .2-4.1 .2 7.5 .2 .4 .2 6.2 .2-4.6 .1 4.5 .2 1.1 .2 3.1 .2-5.1 .2 3.2 .2-5 .1 1.7 .2 2.6 .2 1.2 .2-2.4 .2 2.4 .2 3.2 .2-2.4 .1 1.1 .2-1.4 .2 5.8 .2 1.3 .2-3.5 .2-.4 .2 4.5 .1-2.6 .2-2.5 .2-1.4 .2 2 .2 6.8 .2-6.4 .1 8.4 .2-6.6 .2-.4 .2 3.8 .2-3.5 .2 1.5 .2-3.1 .1-.4 .2 1.3 .2 2.4 .2-2 .2-2.8 .2 5.7 .2-1.4 .1-.2 .2-.7 .2-3.6 .2 8.8 .2-4.6 .2 2.4 .1 2 .2-.5 .2-2.1" stroke="#3A4FA8"/><path d="M78.2 546.1l.2 .7 .2 1.3 .2-.7 .1-2.1 .2 1.9 .2-.1 .2 .7 .2-1 .2 2.5 .2-2.5 .1 1.5 .2-1.7 .2-1.3 .2-.7 .2 1.6 .2 1.5 .1 1.6 .2-2.8 .2-.9 .2 .1 .2 3.8 .2-2.5 .2-1.2 .1 2.6 .2-4.3 .2 3.1 .2-.3 .2-.2 .2-2.1 .2 4.5 .1 1.5 .2-6.3 .2 3.1 .2 1.1 .2 3.4 .2-5.5 .1-1.1 .2 2 .2 4.2 .2-4 .2 .4 .2 3.2 .2-8.1 .1-.1 .2 6.5 .2-.2 .2-4.6 .2 4.1 .2-1 .2 .4 .1-2.1 .2 .7 .2-.8 .2 2 .2-.6 .2 4 .1-2.1 .2-4.6 .2 4.2 .2 2.1 .2-2.4 .2 1.8 .2-2.4 .1 1.6 .2-3.4 .2 3.6 .2-4.5 .2 5.7 .2-5.9 .2-1.3 .1 5.6 .2-1.4 .2 .6 .2 .7 .2-.9 .2-1.8 .1 2.3 .2 .3 .2 .4 .2 3.1 .2-5.7 .2 1.7 .2 1.1 .1-2.1 .2-1.5 .2 1.3 .2 3.5 .2-2.8 .2 1.9 .2-2.8 .1 2.5 .2-2.4 .2-.3 .2 2 .2-.1 .2 3.1 .1-6.5 .2 4.5 .2 2.3 .2-.5 .2-3.6 .2-.6 .2 .4 .1 1.7 .2-.2 .2 .3 .2 .6 .2-3.5 .2-.1 .2-.2 .1-.2 .2 2.6 .2 .9 .2 4.7 .2-4.2 .2-1 .1 2.9 .2-4.5 .2 2.3 .2 1.4 .2-.4 .2-.8 .2-1.6 .1-1.8 .2 2.3 .2-.9 .2 2.7 .2-1.7 .2 1.5 .2-4.6 .1 5.5 .2-3.8 .2-1.5 .2 .4 .2 1.6 .2 3.7 .1-.8 .2-4 .2 2.7 .2-.4 .2-3 .2 1.2 .2-2.2 .1 2.5 .2-3.7 .2 3.9 .2-.3 .2 .3 .2 0 .2 4.2 .1-3.2 .2 1.3 .2 1.1 .2 .3 .2-.4 .2-2.6 .1-1.1 .2 .7 .2 .6 .2 1.1 .2-.2 .2 2.5 .2-2.5 .1 4 .2-1.6 .2-3.1 .2 2.8 .2-7.8 .2 8.9 .2-2 .1 0 .2-4.4 .2 8.9 .2-5.8 .2 .2 .2 2.7 .1-2.7 .2-1.4 .2 3.2 .2-3.5 .2 3.7 .2-1.2 .2 2.1 .1-4.9 .2 5.1 .2-1.9 .2 3.5 .2-5.5 .2 5.3 .2-2.4 .1 .2 .2-3.2 .2 2.7 .2 .3 .2-3.2 .2-.6 .2 .8 .1 4.7 .2-2.7 .2 1.6 .2-1.3 .2-.3 .2 .2 .1-1.3 .2 3.4 .2-2.2 .2 .2 .2-3.4 .2 3.6 .2-2.1 .1 .4 .2 3.3 .2-4.5 .2 1.9 .2 1.7 .2 1.2 .2-3.5 .1 1.7 .2 0 .2-3 .2-2.1 .2 .5 .2 5.3 .1-1 .2-3 .2 1.4 .2 .6 .2 .1 .2 .7 .2 4.7 .1-6.3 .2 2 .2-1.9 .2 .3 .2-.5 .2 1.4 .2-.7 .1 1.9 .2-.3 .2-2.3 .2 6 .2-6.5 .2 3.2 .1 3.8 .2-6 .2 4.3 .2 .2 .2-2.3 .2-4.6 .2 6.9 .1-2.7 .2-1.4 .2 3.9 .2-4.2 .2 3.8 .2-3.4 .2 2.3 .1-3.4 .2 1.4 .2-1 .2 .4 .2 1.9 .2-.7 .1 .7 .2 2.4 .2-3 .2-3.6 .2 3.3 .2 .8 .2 2 .1 0 .2-.2 .2-2.4 .2 1.8 .2-4.4 .2 5.8 .2-1.8 .1 .2 .2-1.9 .2 1 .2-1.6 .2 2.7 .2-4 .1 4.8 .2-.8 .2 3.1 .2-4.3 .2-.2 .2 .7 .2-.4 .1-.2 .2-2.1 .2 0 .2 1.1 .2 .6 .2-1.9 .2 .1 .1 1.9 .2 2.1 .2-1.9 .2 1.8 .2 .7 .2-.5 .1-2.5 .2 .1 .2-3.1 .2 2.5 .2 2.5 .2-3.3 .2 5.2 .1 .1 .2-3.8 .2 2.8 .2-4.9 .2 .7 .2 1.5 .2 .8 .1-.4 .2-1.4 .2 6 .2-3.6 .2 0 .2 .9 .1-1.1 .2-.8 .2-.7 .2-2.3 .2 6.7 .2-5.1 .2-1.6 .1 1.8 .2-1.6 .2 7.6 .2-3.5 .2 2.2 .2 .2 .2-1.9 .1 0 .2-2.7 .2 1.3 .2-1 .2 1.3 .2-1.5 .1 4.1 .2-1 .2-1.8 .2-3.3 .2 4.9 .2 .5 .2-2 .1-2.5 .2 3.5 .2 1.4 .2-6.3 .2 5.3 .2-5.1 .2 4 .1 3.6 .2-3.5 .2 .8 .2-1.7 .2 .7 .2 5 .1-2.1 .2-3.5 .2-.1 .2 .8 .2 4.6 .2-4.2 .2 2 .1-3.2 .2-1.9 .2 5.5 .2-2.9 .2-1.5 .2 .2 .2 0 .1 .2 .2-2 .2 5.8 .2-1.7 .2 1.3 .2-2.8 .2 1.4 .1-.3 .2 2.1 .2-.7 .2-1 .2-2.1 .2-1.2 .1 .9 .2 .3 .2 .2 .2-1.4 .2 6.1 .2-2.9 .2-4.8 .1 1.9 .2-.5 .2 3.3 .2 1.8 .2-4.3 .2 3.4 .2-1.9 .1 3 .2 .5 .2-2.3 .2 .9 .2-1.5 .2-.8 .1-1.6 .2 3.1 .2-.8 .2-.7 .2 .7 .2-.2 .2-1.8 .1 1.1 .2 3.5 .2-2.9 .2 3.4 .2-5.3 .2-.5 .2 3.2 .1 1.4 .2-3.1 .2 2.8 .2 .6 .2 .3 .2-2.5 .1 .1 .2-3.3 .2 3.5 .2 .6 .2 2.4 .2-5.7 .2 .9 .1-.3 .2 4 .2-7.2 .2 3 .2 6.7 .2-3 .2-4.2 .1 2.7 .2 1.9 .2-.6 .2-1.6 .2-1.2 .2 3.4 .1-1.7 .2 1.7 .2-.9 .2-1.8 .2 4 .2-4 .2 1.9 .1-2.2 .2 .8 .2 0 .2-.9 .2 1.9 .2 2.3 .2 1.2 .1-.9 .2-3.4 .2 3.4 .2-2.1 .2 2.9 .2-6.5 .1 5.8 .2-4.4 .2 3.7 .2-3.4 .2 2.9 .2-2.5 .2-3.3 .1 1.9 .2 1.5 .2 .6 .2-4.8 .2 2.2 .2 1 .2 1.1 .1 .9 .2-2.2 .2-1.4 .2 3.8 .2-1.3 .2 2.5 .1-2.9 .2 2.4 .2-3.2 .2 2.5 .2-.4 .2 .7 .2-2.9 .1 1.7 .2-1.5 .2 1.5 .2 1.6 .2 5 .2-6.2 .2 1.4 .1-1.2 .2 2.1 .2-1.4 .2 1.2 .2-1.4 .2 4.3 .1-2.1 .2-6.5 .2 4.2 .2-.5 .2-4.8 .2 2.9 .2 .8 .1-.6 .2 1.9 .2-4.1 .2 5.4 .2 0 .2-.9 .2-1.4 .1 .7 .2-1 .2 3.4 .2-1.3 .2 3.1 .2-5 .1 3.9 .2-4.3 .2 .9 .2-1.9 .2 3.3 .2-1.2 .2 1.5 .1 1.8 .2-3.3 .2 1 .2 1 .2-2 .2-1 .2 1.9 .1 .3 .2 .6 .2 .1 .2-3.1 .2 2.3 .2 1.7 .1-3.6 .2 1.7 .2-2 .2 1.6 .2 3.3 .2-3.3 .2-2.4 .1 2.8 .2-.3 .2 1.9 .2-5.2 .2 1 .2 1.7 .2-3.1 .1 5.7 .2-6.7 .2 2.5 .2-1.3 .2 1.7 .2 3.1 .1-.4 .2 .7 .2-.7 .2-5.6 .2 4.9 .2-4.5 .2 2.8 .1 .3 .2-.3 .2 2.1 .2-2.7 .2 5.4 .2-2.4 .2 1.2 .1-.9 .2 .3 .2-2 .2 4.3 .2-6.4 .2 3.2 .2-1 .1-.5 .2 1.2 .2-2.3 .2 3.5 .2-.2 .2-1.5 .1 1.4 .2-3.8 .2-1.6 .2 2.6 .2 .7 .2 5.8 .2-5.8 .1 2.7 .2-.4 .2 2.7 .2-4.3 .2 1.2 .2-1.8 .2-1.5 .1-.2 .2 .4 .2 4.7 .2-2.4 .2-.9 .2 .3 .1-1.2 .2 1.1 .2 0 .2 1.5 .2 .5 .2-5.4 .2 4 .1 2.4 .2-5.1 .2 1.6 .2 .9 .2 2 .2-1.1 .2-1.7 .1 1.5 .2 1.2 .2-1.4 .2 3.1 .2-3.1 .2-3.1 .1 .5 .2 1.4 .2-.1 .2 1.7 .2-.5 .2 2.9 .2-2 .1 1.5 .2-4.8 .2 .7 .2 2.4 .2-1.3 .2 1.1 .2-.8 .1-1.9 .2 5 .2-1.2 .2-5.8 .2 2 .2 1.4 .1 1.4 .2-1.6 .2-2.8 .2 4.7 .2-2.2 .2 3 .2-1.9 .1 1.5 .2-.4 .2 .1 .2-3 .2 3.3 .2-1.8 .2-3.1 .1 1.8 .2 .1 .2 1.8 .2 .4 .2-3.9 .2 4 .1-1.7 .2-2.2 .2 4.1 .2-3.5 .2-.9 .2 4.2 .2 .3 .1-3.4 .2 3.7 .2-.1 .2-3.3 .2 5.4 .2-4.4 .2 .6 .1-5.7 .2 6.5 .2-2.7 .2 2.3 .2-4.7 .2 6.2 .1 .7 .2 .9 .2-10.5 .2 7.7 .2-.6 .2-7.3 .2 5 .1 1.4 .2 3.2 .2-4.9 .2 2.2 .2-.5 .2 .9 .2-1.7 .1 2.8 .2 .1 .2-5 .2 5.3 .2-4 .2 1 .1 3 .2-2.2 .2 1 .2 .4 .2-.4 .2-2.5 .2-.9 .1 3.5 .2 .2 .2-.9 .2-1.2 .2 2.2 .2-1.9 .2-3 .1 3.6 .2 .5 .2 .6 .2-3.7 .2 .3 .2 2.3 .1-1.7 .2 .8 .2 2.2 .2-1.2 .2 3.1 .2-3.4 .2 3.1 .1-1.4 .2 3.2 .2-5.6 .2-.2 .2 3 .2-4 .2 0 .1 1.6 .2 .2 .2-3.9 .2 3.6 .2-1.3 .2 .6 .1 .5 .2-.9 .2 2.8 .2-1.4 .2-1.5 .2 .6 .2 2.1 .1-.6 .2 1 .2-3.2 .2 .6 .2 4.1 .2-4.6 .2 3.8 .1-1.9 .2-2.9 .2-2.2 .2 4.5 .2-3 .2-.1 .2-2.3 .1 6.5 .2-2.5 .2-.2 .2 .7 .2-.4 .2-.4 .1 .9 .2-1.8 .2-5.3 .2 7.5 .2-.8 .2-1 .2 3.5 .1-6.8 .2-3.5 .2 9.8 .2-2.5 .2-4.7 .2 2.7 .2 2.3 .1-4.3 .2 4 .2 3.4 .2-1.7 .2-3.3 .2 .7 .1-3 .2 2.3 .2-1.1 .2-1.6 .2-1 .2 7.5 .2-4.4 .1-2.7 .2 1.3 .2 4.3 .2 .2 .2-5.3 .2 1.7 .2 1.5 .1-3 .2-2.1 .2 .3 .2 2.2 .2-2 .2-1.4 .1 2.3 .2 2.6 .2-.7 .2-2.4 .2 4.9 .2-6.6 .2 1.5 .1-3.2 .2 4.9 .2-2.4 .2-4 .2 1.8 .2 6.1 .2-2.8 .1-1.7 .2 1.5 .2-6.2 .2 1.6 .2-1.5 .2 .9 .1 .7 .2 2 .2 .8 .2-.4 .2 3.8 .2-8.2 .2 .8 .1 .9 .2-3.7 .2 .9 .2 1.3 .2-3.7 .2 2.9 .2 1.4 .1-6.5 .2-3.5 .2 5.4 .2-3.5 .2 2.5 .2-2.3 .1 1.3 .2 1.4 .2-1.6 .2-3.8 .2-3 .2-4.4 .2-.1 .1 2.6 .2 1.3 .2-3.1 .2-1 .2-4 .2-1.4 .2-1.7 .1 5 .2-8.8 .2 5.7 .2-6.3 .2 2.1 .2-2.9 .1-.7 .2-1.2 .2-8.2 .2-3.4 .2-1.4 .2-4.2 .2 .8 .1-6.1 .2-3.7 .2-3.1 .2-7.4 .2-.1 .2-14.8 .2 .8 .1-5.4 .2-10.9 .2-7 .2-2.3 .2-12.4 .2-14.4 .1-7.4 .2-1.4 .2-17.2 .2-2.9 .2-11.2 .2-17.7 .2-9.4 .1-17.9 .2-11.2 .2-14.1 .2-7.6 .2-20.1 .2-7.3 .2-10.4 .1-8.3 .2-20.1 .2-6 .2-1.8 .2-.2 0 0 .2 0 .1 7.7 .2-3.3 .2 4.2 .2 1.8 .2 13.5 .2 9 .2 10.5 .1 8.3 .2 15.2 .2 16.1 .2 3.5 .2 7.6 .2 24.3 .2 12.1 .1 8.4 .2 10.9 .2 22.9 .2-1 .2 7.5 .2 12.2 .1 12.5 .2 4.7 .2 8.8 .2 9.9 .2 4.6 .2 8.3 .2 5.6 .1 2.4 .2 8.9 .2 1.1 .2 11 .2-1.5 .2 6 .2-1.1 .1 7.5 .2 .8 .2 10.9 .2-2 .2 4.3 .2-4.2 .2 3.7 .1 5 .2-1.4 .2 8.7 .2-2.7 .2 3.1 .2 1.9 .1 .1 .2 3.8 .2-2.7 .2 3.9 .2 3.3 .2-1.6 .2 .7 .1-.3 .2 1.9 .2 2.4 .2-1.6 .2-3 .2 5.5 .2-.1 .1 2.2 .2-.5 .2 4.5 .2-6.5 .2 1.2 .2 4.6 .1-3.7 .2 3.8 .2-.4 .2-4.4 .2 7 .2 2.1 .2-2.5 .1-3.5 .2 5.7 .2-4.1 .2 2.5 .2 1.7 .2-2.6 .2-1.9 .1 4 .2 .5 .2-1.7 .2 .5 .2 3.9 .2-1.8 .1-.7 .2 0 .2 2 .2 0 .2-.4 .2-2.7 .2 2.6 .1-.4 .2 1.8 .2 2.7 .2-.3 .2-.6 .2-1.1 .2-.9 .1 1.7 .2-1.7 .2 .4 .2-1 .2 1.9 .2 .1 .1 4.5 .2-2.8 .2-2.1 .2 2.8 .2-2.8 .2 3.5 .2-.4 .1 4.9 .2-9 .2 2.4 .2-.1 .2 1.1 .2 1 .2-3.8 .1 .6 .2 2.4 .2 1.6 .2-4.7 .2-.9 .2 6.1 .1-.6 .2 .6 .2-4.6 .2 1.8 .2 1 .2 .5 .2-1.3 .1 .2 .2 2.4 .2-3.2 .2-.2 .2 .2 .2-.1 .2 1.4 .1-.8 .2-.5 .2 4.2 .2-2.5 .2-1.5 .2 3.6 .1-4.1 .2 1.2 .2-.2 .2-1.1 .2 .4 .2 1 .2-3.5 .1 2.3 .2 1.4 .2 0 .2 0 .2 4.5 .2-3.8 .2-1.9 .1-.1 .2 .2 .2 .9 .2-1.8 .2 4 .2-6 .1 3.8 .2-.5 .2-3.8 .2 3.8 .2-.3 .2-2.9 .2 6.5 .1-3.9 .2-2.6 .2-.6 .2-.8 .2 2 .2-.8 .2-3.7 .1 .5 .2 .4 .2 .3 .2-.3 .2-1.2 .2 2.5 .1 .2 .2-2.7 .2-6 .2 4.1 .2 .9 .2-2.4 .2-.1 .1-1.4 .2-5.1 .2-3.8 .2 6.4 .2-4.3 .2 .6 .2-3.6 .1-1.7 .2 1.8 .2-9 .2 .5 .2-5.7 .2 0 .1-2.2 .2-3 .2-5.2 .2-8.3 .2 .3 .2-2.5 .2-4.3 .1-1.3 .2-9.3 .2-9.4 .2-2.9 .2-2.3 .2-.7 .2-9.8 .1 4.1 .2-4.1 0 0 .2 1 .2-1 .2 .5 .2 1.1 .2 4.5 .1-1 .2 9.2 .2-3.9 .2 9.9 .2 4.2 .2 10.9 .1 1.6 .2 1.6 .2 3.2 .2 6.8 .2 2.1 .2 11.5 .2-10.1 .1 10.9 .2-3.7 .2 11.9 .2-2.2 .2 8.5 .2-3.4 .2 6 .1-.4 .2 4 .2-1.3 .2-6 .2 6.7 .2-.9 .1 7.1 .2-.1 .2-.4 .2 1.9 .2 .1 .2-1.1 .2 6.5 .1-3.4 .2-.5 .2-2.4 .2 2.4 .2 1.8 .2 0 .2-.3 .1 1.3 .2-2.1 .2 2.9 .2-3.2 .2 1.8 .2 .6 .1 3.8 .2-.6 .2-.7 .2-2.5 .2 1.8 .2 2.9 .2 1.2 .1-5.9 .2 2.5 .2 1.3 .2 .7 .2-.6 .2 1.6 .2-4.5 .1 6.7 .2-5.7 .2 2.7 .2 1.1 .2 1.5 .2-.5 .1 .1 .2 .9 .2-3 .2 2.1 .2 1.8 .2-4.9 .2-1.3 .1 .9 .2 5.3 .2-.3 .2-3.3 .2 1.3 .2 .6 .2 1.2 .1-6.1 .2 2.9 .2 .6 .2 1.3 .2-.4 .2-.8 .1 1.3 .2-6 .2 12 .2-4.7 .2 .2 .2-3.2 .2 2.3 .1 3.5 .2-.5 .2-3.6 .2-2.7 .2 2.9 .2-.9 .2 2.5 .1-4.5 .2 2.3 .2 1 .2-1.5 .2 3.2 .2-4.5 .1-.2 .2 1.9 .2 2.5 .2-2.3 .2-.6 .2 2.9 .2-1.2 .1-1.5 .2 1.4 .2-.8 .2 1.8 .2-.9 .2-2 .2 .7 .1 .2 .2 1.6 .2 .1 .2-2.5 .2 1.3 .2 1.1 .1 1.7 .2-1.8 .2 3.6 .2-4 .2 1.5 .2-2.2 .2-1.4 .1 2.3 .2 .8 .2-.3 .2-.4 .2-.9 .2-1 .2 1.1 .1 1.6 .2 1 .2-8.8 .2 8.1 .2 1 .2 .4 .1-1.8 .2 .6 .2-2.3 .2 .7 .2 1.3 .2-3.3 .2 .6 .1 2.1 .2-3.2 .2 2.9 .2-3.1 .2 3.4 .2-.3 .2-1.2 .1-.8 .2 .9 .2-3.5 .2 3.8 .2 1 .2 2.3 .1-3.5 .2 .7 .2 3.2 .2 .7 .2-4.6 .2 3.2 .2 .3 .1-1.4 .2-3 .2 .1 .2 3.1 .2 3.6 .2-5.2 .2 3.6 .1 .7 .2-6.4 .2 1.3 .2 4.3 .2-1 .2-.9 .2-1.1 .1 1.3 .2-2.6 .2 6.4 .2-7.5 .2-1.3 .2 4 .1 2.7 .2-4 .2 .9 .2-1.9 .2 1.9 .2-1.9 .2 0 .1-.9 .2 1.8 .2 5 .2-3.9 .2 .5 .2 4.2 .2-5.9 .1-.7 .2 3.1 .2-3.6 .2 3.2 .2 1.7 .2-4.6 .1 1.2 .2 4.5 .2-5.6 .2 .8 .2 1.8 .2-1.1 .2-1.1 .1 5 .2-4.4 .2 1.8 .2-1.5 .2 .4 .2-2.3 .2 4.7 .1-2.8 .2 3.5 .2-5 .2 1.4 .2 2 .2-.8 .1-1.5 .2 1 .2-2.3 .2 2.7 .2-5.5 .2 5.8 .2 2.4 .1-.9 .2-.1 .2-2.6 .2 1.9 .2-1.9 .2 .7 .2 0 .1-6.7 .2 8.8 .2-1 .2 .8 .2-3.7 .2 3.4 .1-.4 .2-5.6 .2 1 .2 3.7 .2-1.5 .2 1.4 .2-1.3 .1 4.3 .2-6.9 .2 1.1 .2 .8 .2-.8 .2 1.6 .2 1.2 .1-2.7 .2 3.5 .2 1.9 .2-.4 .2 1.8 .2-1.8 .1-2.3 .2 3.7 .2-2.2 .2 2.4 .2-4.2 .2-3.9 .2 1.9 .1 2.7 .2 .8 .2-1.6 .2 2.5 .2-4.4 .2 .9 .2 3.5 .1-1.9 .2 .1 .2 2.6 .2-.6 .2-3.8 .2 2 .1-3.9 .2 3.5 .2 .8 .2-4.3 .2 6.7 .2 .9 .2-3.1 .1 .9 .2 1.2 .2-3.4 .2 2.4 .2-1.3 .2-3.9 .2 1.3 .1 .7 .2 3.3 .2-2 .2 1.8 .2-2.9 .2-1.7 .1 6.8 .2 1.4 .2-4.8 .2-1.2 .2 2.9 .2-4.7 .2 1.8 .1-2.5 .2 3.9 .2-.5 .2-1.3 .2-.5 .2-1.7 .2 1.4 .1 4.1 .2-3.2 .2 3.3 .2-4.3 .2 1.6 .2-.8 .1 .4 .2 2.1 .2-5.7 .2 5.7 .2-.1 .2-1.4 .2 .1 .1-.6 .2 1.9 .2-1.3 .2-1.9 .2 2.1 .2 1.6 .2-1.2 .1-.7 .2 .4 .2-1.5 .2 .1 .2-2.9 .2 3.5 .1 2.3 .2-2.7 .2-1.1 .2 3.7 .2-1.5 .2-.1 .2 .7 .1 .5 .2-1.5 .2-1.6 .2 5.2 .2-3.4 .2-1.7 .2 1.9 .1 2.1 .2-5.3 .2 5.5 .2-2.9 .2 4.3 .2-2.7 .2-1.6 .1 2.8 .2 0 .2-3.3 .2 1.2 .2-1.5 .2 2.9 .1-4.7 .2 2.5 .2-4 .2 5.5 .2-5.7 .2 2.4 .2 2.7 .1-1.3 .2-.2 .2-1 .2 1 .2-2.6 .2 4.2 .2 .9 .1 0 .2-1.7 .2 2.6 .2-1.5 .2 .9 .2-1.1 .1-.7 .2-1.6 .2-3.8 .2 6.6 .2-1.5 .2 4.2 .2-8 .1 5.7 .2-3.6 .2 1.9 .2-1.8 .2 2.5 .2-.8 .2 1.9 .1-1.5 .2 .7 .2 1.6 .2-1.6 .2-1.3 .2 2.8 .1-2.8 .2 1.1 .2-1.5 .2-.7 .2-4.7 .2 7.5 .2-3.8 .1 3.8 .2 2.2 .2-6.3 .2 4.4 .2-1.9 .2 1.1 .2-3.4 .1 2.5 .2 .3 .2 2.5 .2 1.5 .2-3.7 .2-1.4 .1 5.2 .2-4.7 .2 .1 .2 .3 .2 .8 .2 .4 .2-2.5 .1 .9 .2 4 .2-.6 .2-2.3 .2-.4 .2-1 .2 2.6 .1-3.2 .2 1.3 .2-1.1 .2-.4 .2 1.4 .2-.1 .1-1.2 .2 1 .2 .3 .2-1.1 .2-.4 .2 1.1 .2 1.7 .1 .8 .2-1.9 .2-.9 .2 .5 .2 3.9 .2-2 .2-3.8 .1 1.8 .2-1 .2 .3 .2-2.6 .2 3.4 .2-2.8 .1 1.6 .2 4.2 .2-1 .2-3.8 .2-.4 .2 .3 .2-2 .1 1.8 .2 1.5 .2-1.6 .2 3.6 .2-1.6 .2-1 .2 4.6 .1-2.1 .2-1.3 .2 3.6 .2-1.1 .2-4.1 .2 2.1 .1-1.6 .2-2 .2 6.8 .2-.8 .2-5.7 .2 3.6 .2-4.4 .1 5.6 .2-2.3 .2-.5 .2 3.1 .2-2.5 .2-.6 .2 2.4 .1-2.5 .2 2.4 .2-1.8 .2 1.7 .2-.4 .2 .3 .1-3.7 .2 5.9 .2-4.2 .2 3.9 .2-4.8 .2 .6 .2 0 .1 2.9 .2-3.2 .2 1.7 .2-4.1 .2 2.2 .2 1.5 .2-.7 .1-3.7 .2 4.9 .2-3.1 .2 6 .2-4.4 .2 5.1 .1-3.3 .2-.5 .2-1.9 .2 .7 .2 1.2 .2-5.1 .2 6.2 .1-4.6 .2 1.9 .2-5.2 .2 6.7 .2 .6 .2-1 .2 0 .1-1.4 .2 1 .2 2.2 .2-3.4 .2 1.9 .2 .5 .1-2.1 .2 1 .2-.1 .2-1.5 .2 6.1 .2-6 .2 4.5 .1-1.4 .2-6.6 .2 4.8 .2 1.6 .2-.4 .2-3.7 .2 2.4 .1-3.1 .2 .3 .2 1.7 .2 .9 .2 2.9 .2-2.7 .2 1.5 .1-4.8 .2 0 .2 1.4 .2 4.8 .2-6.7 .2-.6 .1 3.2 .2 2.7 .2-6.1 .2 2.9 .2-2.4 .2 6 .2-1.7 .1-.9 .2-.8 .2-.4 .2 .7 .2-1.7 .2-.6 .2-.5 .1 2.4 .2-1.9 .2 3.6 .2-6.5 .2 5.7 .2-.1 .1 1.4 .2-3.3 .2-2.8 .2 1.2 .2 4.5 .2-3.3 .2-.3 .1-.4 .2 1 .2-.4 .2-3 .2 2 .2 3.5 .2 .8 .1-3.5 .2-1 .2 4 .2-3.5 .2-2.3 .2 2.2 .1 1.7 .2 1.9 .2-4.8 .2 2.2 .2-2.1 .2 3.2 .2-2.1 .1-.2 .2-2.9 .2 1.3 .2-.2 .2-7.6 .2 10 .2-2.2 .1-.6 .2-.6 .2 .7 .2 .3 .2-3.8 .2 3.1 .1-.3 .2-.4 .2-3.8 .2 2.8 .2-2.9 .2 3.5 .2 1.9 .1-1.3 .2-3.2 .2-.8 .2-.5 .2 1.8 .2-2.8 .2-.1 .1-5.2 .2 3.5 .2-.4 .2 .1 .2 3.6 .2-6.8 .1-.6 .2 4.1 .2-4.6 .2 1.2 .2 0 .2-1.2 .2-2.9 .1 3.3 .2 .4 .2-7.5 .2 .6 .2 1.8 .2-4.4 .2-3.6 .1-.2 .2 1.5 .2-6.8 .2 1.2 .2-1.9 .2-5.3 .1 .7 .2-2.6 .2-2.2 .2-3.5 .2-10.6 .2 3 .2-5.1 .1-3.3 .2-10.3 .2 .2 .2-7.1 .2-10.5 .2 1.5 .2-12.9 .1-7.4 .2-2.4 .2-10.4 .2-4 .2-9.3 .2-5.4 .1-5.1 .2-9.7 .2-3 .2-5.7 .2-10.9 .2 2.1 .2-3.8 0-2.8 .1 2.7 .2 1.2 .2-2.9 .2-1 .2 4 .2 1.5 .2 4 .1 7.4 .2 3.6 .2 13.1 .2 2.1 .2 6.1 .2 9.7 .1 7.2 .2 8.2 .2 5.1 .2 4.6 .2 7 .2-.9 .2 8.1 .1 13.3 .2 1.1 .2 11.4 .2 4.6 .2-4.6 .2 8.6 .2 11.1 .1-6.9 .2 6.6 .2 1.3 .2 2.7 .2 2.5 .2 3.1 .1 4.3 .2-2.1 .2 5.4 .2-1.5 .2 4.9 .2 .9 .2-1.4 .1 3.6 .2-1 .2 .8 .2 6.2 .2-6.6 .2 6.9 .2 1.2 .1-2.4 .2 4.8 .2 .3 .2-4.8 .2 5.1 .2 .4 .2-2.3 .1 3.7 .2 .9 .2-3.1 .2-2.6 .2 6.2 .2-2.4 .1-1.9 .2 3.5 .2-4.3 .2 5.1 .2 4.7 .2-9.9 .2 8 .1-2.9 .2 1.4 .2-.9 .2 3.9 .2-1.3 .2-1.5 .2-1 .1 2.2 .2 3.8 .2-5.2 .2 3.9 .2 0 .2-5.1 .1 7.2 .2-2.4 .2 5.2 .2-.9 .2-4.4 .2 .4 .2-1.8 .1-.7 .2 5 .2-2.2 .2-.2 .2 .6 .2 2 .2 .7 .1-2 .2-.3 .2 .7 .2 4.5 .2-9.1 .2 2.1 .1 3.7 .2-.6 .2 2.4 .2 .3 .2 1.5 .2-6 .2 3.2 .1-1.8 .2 2.7 .2-1.7 .2 1.6 .2-3.5 .2 2.1 .2-1.5 .1 .7 .2-.4 .2-1.2 .2 4.7 .2-1.7 .2 1.8 .1-4.5 .2-2.1 .2 2.9 .2 1.2 .2 2.1 .2 .6 .2 .4 .1 .7 .2-1.7 .2-1.3 .2-1.9 .2 3.2 .2-2.5 .2-.7 .1 3.1 .2-.8 .2 1.4 .2-3.3 .2 4.1 .2-1.7 .1-1.1 .2-1.3 .2-.7 .2-.5 .2 6 .2-6.1 .2 4.4 .1-1.8 .2-.7 .2 .2 .2 .9 .2 2.2 .2-.8 .2-1.2 .1-2.9 .2-.8 .2 7.8 .2-6.1 .2-1.2 .2 5.8 .1-5.6 .2 4.8 .2 .4 .2-1.4 .2 1.5 .2-5 .2 .4 .1 2.2 .2 .4 .2-.1 .2 1.2 .2-2.6 .2-3 .2 5.5 .1-1.4 .2 2.3 .2 2.7 .2-4.3 .2 1.1 .2-3.1 .1 3.8 .2-1.2 .2-.2 .2 1.5 .2-4.4 .2 3.6 .2-.2 .1 2.4 .2-7.2 .2 3.7 .2 4.9 .2-5.6 .2 0 .2 4.7 .1 1.6 .2-5.1 .2-1.8 .2 .3 .2 .4 .2-.9 .1 .1 .2 2 .2-.2 .2 .9 .2-1 .2-2.6 .2 4.2 .1-1.1 .2-1.7 .2 .6 .2 1.3 .2-.5 .2-.4 .2 1.9 .1 .6 .2-2.9 .2 .6 .2-2.3 .2 2 .2 1.4 .1 .8 .2-1.5 .2-.5 .2-1.3 .2 1.9 .2-2.7 .2 2.5 .1-.2 .2-1.9 .2 2.6 .2-1.2 .2 1.8 .2-2.3 .2 2 .1 2.3 .2-2.9 .2 1.3 .2-3.1 .2 .6 .2-3.2 .2 3.7 .1-2.1 .2 2.6 .2-4.6 .2 2.6 .2 2 .2 .6 .1-4.3 .2 2.6 .2 6.3 .2-3.8 .2-1.3 .2-6.2 .2 3.9 .1 3.1 .2-.7 .2 .5 .2 1.1 .2-1.9 .2 1.6 .2-5.6 .1 9.1 .2-5.9 .2-.8 .2 4.6 .2-1.9 .2 .8 .1-3.4 .2 1.9 .2 .9 .2-3.9 .2 1.9 .2-.1 .2-.1 .1-.8 .2-1.2 .2 3.5 .2-.4 .2 2 .2-2.6 .2-1.3 .1-1.7 .2 3.2 .2-.8 .2 4.9 .2 .6 .2-1.5 .1-5.3 .2-1.1 .2 2.5 .2-1.4 .2 4.9 .2-2.8 .2-1.1 .1 .8 .2 2.7 .2-4.7 .2 3 .2-3.9 .2 2.4 .2-1 .1 2.1 .2-.4 .2 2.2 .2-1.1 .2-2.7 .2-1.6 .1 1.1 .2 .8 .2 .4 .2-1.2 .2 3.9 .2-.3 .2-2.6 .1-.5 .2 .5 .2 .4 .2 0 .2-3.4 .2 2.5 .2-3.1 .1 4 .2 1.4 .2-3.8 .2 2.6 .2-1.7 .2-.2 .1 5.7 .2-2.3 .2-.9 .2-2.1 .2 1.8 .2-1.3 .2 1.3 .1-2.9 .2 1.7 .2-.7 .2-2.3 .2 6.7 .2-1.9 .2-3.6 .1-1.5 .2 1.6 .2-.3 .2 .4 .2-2 .2 1.4 .1 1.9 .2 .7 .2-5.3 .2 4.3 .2-2.3 .2-.2 .2 1.5 .1-.8 .2 2.9 .2 0 .2-2.3 .2-.9 .2 5.3 .2 .1 .1-3.4 .2-1.3 .2 2.5 .2 .9 .2-4.6 .2 5.2 .1-4.6 .2 2.7 .2-3.7 .2 1.1 .2-1.3 .2 1 .2 2.1 .1-4.6 .2 1.2 .2 1.8 .2-2.5 .2 5.5 .2-8.2 .2 9 .1-7.6 .2 3.5 .2 1.3 .2-2.8 .2-4.8 .2 2.3 .1 .6 .2 .9 .2 .6 .2 0 .2 .5 .2-6.2 .2 4.3 .1-7 .2 4 .2-3.4 .2-2.3 .2 6 .2-2.9 .2 1.9 .1-7.1 .2 .2 .2 2 .2-2.3 .2 .9 .2-2.8 .1-.4 .2-3.3 .2 5 .2-5.6 .2-3.9 .2 3.2 .2-2.3 .1-2.8 .2-2.2 .2-4.1 .2-1.9 .2-8.7 .2-1.4 .2-2.5 .1 .6 .2-1.2 .2-8.4 .2-4.9 .2-.7 .2-9.8 .2-2.4 .1-6.4 .2-11.6 .2-1 .2-6.6 .2-10.7 .2-5.8 .1-6.7 .2 3.5 .2-2.3 .2-9 .2-.3 .1-7 .1 4.1 .2 .6 .1-1.5 .2-3.2 .2 3.6 .2-1.6 .2 7.5 .2-1.9 .2 6.9 .1 3.2 .2 9.1 .2 3.9 .2 9.9 .2 5.1 .2 4.7 .1 4.4 .2 4.9 .2 6.4 .2 7.5 .2 3 .2 5.1 .2 3.4 .1 3.9 .2 2 .2 .1 .2 10.1 .2 2.9 .2-1.5 .2 10.4 .1-6.2 .2 8 .2-.1 .2 1.9 .2 3.7 .2 .9 .1-1 .2-1.5 .2 .7 .2 4.6 .2 4.5 .2-.9 .2-1.5 .1 1.7 .2 1.6 .2 3.2 .2-5.6 .2 4.3 .2-.6 .2-2.1 .1-.1 .2 6 .2-1.9 .2-.9 .2 1.1 .2 2.4 .1-1.8 .2 3.9 .2-4.1 .2-1 .2 1.8 .2-1.7 .2 1.6 .1 4 .2 1.3 .2-2.3 .2-.9 .2-2.4 .2-.1 .2 3.4 .1-.3 .2-1.6 .2 .4 .2 4.8 .2-1.2 .2-2.1 .1 .5 .2 2.5 .2-2 .2-.2 .2-4.2 .2-.2 .2-.4 .1-.7 .2 5.2 .2 .8 .2-2.7 .2 3 .2 0 .2-1.2 .1-3.2 .2 6.7 .2-.1 .2-4.5 .2 5.7 .2-4.3 .1-2 .2 .8 .2-3.4 .2 3.4 .2-2.9 .2 6.2 .2-2 .1-4.1 .2 4.5 .2-5.5 .2 4.2 .2 .5 .2-1.1 .2-3 .1 2.1 .2-.5 .2 .3 .2 3 .2 .1 .2-.6 .1-5.8 .2-.8 .2 1.3 .2 .4 .2-6.8 .2 2.8 .2 5.2 .1-8.4 .2 .3 .2-.9 .2 1.9 .2-2.5 .2-1.8 .2-4.4 .1 4.2 .2-2.9 .2-3.1 .2 .5 .2 .7 .2-7.3 .1 0 .2 0 .2 0 .2 0 .1 0 .1 2.8 .2-2.8 .2 2.3 .1-2.3 .2 0 .2 4.3 .2 1.3 .2-4.8 .2 .2 .2 4.3 .1-3 .2 3.5 .2-2.1 .2 5.9 .2 1.1 .2 5.5 .1-2 .2-1.4 .2 2.6 .2-1.8 .2 4.3 .2 .4 .2 2.5 .1 2.1 .2-6.4 .2 6.4 .2 1.7 .2-4 .2 7.9 .2-5.7 .1 8 .2-3.5 .2 .9 .2-1.3 .2 2.1 .2-4.5 .2 .9 .1-2.4 .2 6 .2-2.6 .2 3.5 .2-.1 .2-4.3 .1 4.9 .2-.9 .2 0 .2 .8 .2-1 .2 .2 .2 2.5 .1-4.5 .2-.4 .2 1.1 .2 4.1 .2-2.9 .2 5 .2-11 .1 5.3 .2 .7 .2 1.7 .2 2.4 .2-3.3 .2-1.8 .1 4.2 .2 1.6 .2-9 .2 6.9 .2-.5 .2-2.5 .2 .9 .1 1.7 .2-.5 .2-.6 .2-2 .2 3.2 .2-2 .2 1.7 .1-1.5 .2 1.8 .2 1.2 .2-1.1 .2 1 .2-4.4 .1 4 .2-.3 .2-2 .2 1 .2-5.6 .2 6.2 .2-1 .1-4 .2 6 .2-2.5 .2 2 .2-1.1 .2 1.6 .2-.8 .1-.8 .2 1.7 .2 .7 .2-6.6 .2 4.9 .2-1.3 .1-1.1 .2 5.2 .2-.7 .2-4.3 .2-.1 .2 4.1 .2-3 .1 .6 .2-3.5 .2 3.9 .2 2.8 .2-3.4 .2 .7 .2 4 .1-1.8 .2 1.1 .2-1.6 .2 1.2 .2-6.1 .2 1.8 .1-1.8 .2 8.3 .2-4.3 .2-.7 .2-1.3 .2-.6 .2-3.7 .1 10.7 .2-4.9 .2 .3 .2-3.1 .2 2.8 .2 1 .2-1 .1 1.5 .2-3.1 .2 2.5 .2 1.2 .2-.7 .2-.4 .1-1 .2-1.9 .2 3.3 .2-2 .2-1.2 .2 3.7 .2-5 .1 2.2 .2 2.8 .2 .4 .2-2.8 .2 .9 .2 1 .2-1.3 .1-1.4 .2 2.5 .2-.5 .2-.2 .2 2.2 .2-1.7 .1-1.6 .2 1.3 .2 3.7 .2-5.6 .2 1 .2-1.1 .2 2.4 .1-3.4 .2 3.6 .2 .7 .2-3.3 .2-.1 .2-1.4 .2 3.3 .1-2.5 .2 1.1 .2 .4 .2-.5 .2 3.2 .2 1.6 .1-7.9 .2 2.8 .2 2.2 .2-2.7 .2 1.1 .2 1.6 .2 2.5 .1-.5 .2-3.1 .2 .9 .2-1 .2 .4 .2-2.1 .2-1.3 .1 3 .2 2.8 .2-.4 .2-5.5 .2 3.5 .2-.9 .1 1.9 .2-2.9 .2 4.2 .2-2.3 .2 1.6 .2 .6 .2-5.9 .1 3.6 .2 3.7 .2-3.2 .2 2.2 .2-1.3 .2-1.9 .2 1.6 .1 1.6 .2 .5 .2 .3 .2-5.3 .2 4.1 .2-4.7 .2 2.6 .1-.1 .2 1.7 .2-.6 .2 1.9 .2-3.9 .2 3.1 .1-.9 .2-.9 .2-2.5 .2 3.7 .2-.5 .2 1 .2-1.7 .1-.5 .2 1.4 .2 .1 .2 .5 .2 2.5 .2-5.2 .2 5.4 .1-10.3 .2 8.2 .2-3.8 .2 5.9 .2-6 .2 4.1 .1-4.3 .2-.3 .2 4 .2 .2 .2-3.3 .2 6.5 .2-5.7 .1 3.9 .2-5.3 .2 .1 .2 2.2 .2-2.3 .2 3 .2-5.4 .1 4.8 .2-1.5 .2-.8 .2 2.4 .2-.9 .2-.5 .1 2.7 .2-1.1 .2 .2 .2 2 .2-3 .2 1.9 .2-2.6 .1 2.2 .2-.2 .2-2.3 .2-2 .2 .5 .2 .7 .2 3.1 .1-1.4 .2-.3 .2 1.6 .2 .5 .2 1.4 .2-4.1 .1 2.3 .2 .4 .2-3.5 .2 2.3 .2-2.2 .2 1.4 .2 1.4 .1-4.4 .2 1.7 .2 .1 .2 1.9 .2-1.7 .2 2.3 .2-2.6 .1 .7 .2 2.3 .2-.5 .2-.4 .2-.4 .2 2.2 .1 .7 .2-3.6 .2-.7 .2-.7 .2 5.8 .2-5.5 .2-.9 .1 3.3 .2 1.7 .2-4.8 .2 2.3 .2-2.7 .2 1.5 .2 4.9 .1-3.1 .2-.9 .2 .7 .2 .5 .2-.8 .2-2.3 .1 0 .2 6.6 .2-5.7 .2 4.1 .2-4 .2 4.2 .2-1.3 .1-1.9 .2 4.6 .2-6.1 .2 1.5 .2-1.3 .2 .2 .2 .8 .1-1.2 .2 1.3 .2 3.9 .2-6.9 .2 1.1 .2 .6 .1 1 .2 3.1 .2-.7 .2-.5 .2-.5 .2 4.5 .2-7.3 .1-.1 .2 2.4 .2 .5 .2-1 .2-1.2 .2-1 .2 2.2 .1-.9 .2 .4 .2-1.2 .2 5 .2-1.8 .2 2.9 .1-5 .2 1.2 .2-.6 .2 .5 .2-.5 .2 .2 .2-3.8 .1 3.5 .2 2 .2-5.5 .2 3.4 .2 1.9 .2 1.4 .2-2.8 .1 1.1 .2 2.7 .2-.9 .2-3.7 .2-.3 .2 3.4 .1-1.7 .2-1.6 .2 .6 .2 1.2 .2-1.1 .2-.1 .2 0 .1-2.6 .2 6.7 .2-1.1 .2 .6 .2-3.4 .2 .5 .2 1 .1 .5 .2-5.6 .2 4.6 .2-2.9 .2 2 .2-1.3 .1 5 .2-2.5 .2-1.2 .2 3 .2-3.1 .2-1.4 .2 1.2 .1-.4 .2 .8 .2 1.7 .2-2 .2 .1 .2 2.2 .2-1.5 .1 1.4 .2-1.8 .2-3 .2 .4 .2-1.2 .2 5.9 .2-1.5 .1-1.9 .2-1.1 .2 2.8 .2-1.1 .2 1 .2-2.5 .1-.6 .2 5.7 .2-5.4 .2 1.9 .2 2.9 .2-6.7 .2 5.3 .1-1.4 .2-.4 .2 .8 .2-3.1 .2-2.3 .2 8.8 .2-4.7 .1 2.5 .2 .4 .2-1.8 .2 .3 .2 .5 .2 1.8 .1-2.3 .2 1.6 .2-3.4 .2-.3 .2 1 .2 .6 .2 .2 .1 3 .2-2.4 .2-1.8 .2 4.1 .2-3.7 .2 0 .2 .2 .1-1.9 .2-1.8 .2 2.6 .2-1.1 .2-1.4 .2 2.1 .1-.9 .2-1.1 .2-2.8 .2 3.4 .2 4.1 .2-2.2 .2 .2 .1-2.8 .2 2.2 .2-4.3 .2 .1 .2 1.9 .2-4.9 .2 2.9 .1 .1 .2 2.7 .2-6.2 .2 2 .2-3.3 .2-.5 .1-5.9 .2 3.4 .2 4.1 .2-2.4 .2-1.9 .2 4.8 .2-5.8 .1-5.5 .2 1.6 .2-.6 .2 3.3 .2-7 .2 2.4 .2 .8 .1-3.2 .1 0 .1 0 .2 0 .2 0 .2 0 .2 4.3 .1-3.1 .2-.5 .2 .8 .2 5.8 .2-3.4 .2 2.1 .2-2.9 .1 .9 .2-.6 .2 3.1 .2-.3 .2 5.1 .2 0 .2-1 .1-.1 .2-4.9 .2 6.4 .2 2.8 .2 1.6 .2-8.2 .1 2.2 .2 6.6 .2-2.3 .2 2.4 .2-.2 .2 2.9 .2-5.2 .1 3.2 .2 3.8 .2-1.4 .2-2.1 .2 3.2 .2-.2 .2-2.4 .1 3.7 .2 .1 .2-1.6 .2 2.5 .2-4.5 .2 4.4 .1-2 .2-1.5 .2 .9 .2 3.9 .2-3.7 .2 .6 .2-.6 .1-.2 .2 3.8 .2 2.8 .2-1.8 .2-1.8 .2 .6 .2-2.3 .1-.3 .2-1.4 .2 5.7 .2-3.8 .2-.7 .2 .2 .1 1.8 .2-1.6 .2 1.3 .2 .3 .2 2.5 .2-5.4 .2 3.3 .1-2.1 .2 .6 .2 4.4 .2-2.1 .2-2.1 .2 1.8 .2-1 .1 2.4 .2-3.4 .2 2.1 .2-1.4 .2 .4 .2-.3 .1-.9 .2 1.5 .2 1.9 .2-3.4 .2 .5 .2 1.6 .2-2.3 .1 3.4 .2-.3 .2-6.3 .2 3.4 .2-.9 .2 4 .2 .3 .1-4.5 .2 1.1 .2 1.3 .2-.6 .2 2.3 .2 .5 .2-.8 .1 1.1 .2-.4 .2-2 .2-.8 .2-.6 .2 3.2 .1 .2 .2 .2 .2-2.7 .2-.2 .2 1.4 .2 2.1 .2-1.9 .1-.3 .2-2.2 .2 2.7 .2 .2 .2-3.1 .2 5.6 .2-5.5 .1 3.8 .2-2.3 .2 .7 .2-1.9 .2 .4 .2 2.7 .1-1.9 .2-.3 .2 2.6 .2-.4 .2-1.1 .2 .1 .2 3.1 .1-3.9 .2 1.1 .2 .1 .2-3.8 .2-1.1 .2 4.3 .2 1.5 .1-1.4 .2-1.5 .2-.2 .2 3 .2-2.3 .2-2.7 .1 4.7 .2-.9 .2 .3 .2 1.4 .2 .6 .2-1.6 .2-1.5 .1-4.1 .2 5 .2-.9 .2 3 .2 0 .2-1.7 .2 1.8 .1-3 .2 .1 .2-1.7 .2 1.1 .2 1.1 .2 1.8 .1-3.7 .2 3.2 .2 3.1 .2-7.6 .2 2.2 .2 .6 .2 2.1 .1 2 .2-1.6 .2-2.6 .2-1.7 .2 1.6 .2 .1 .2 .6 .1-2.4 .2 5 .2-4.7 .2 2.9 .2-.9 .2-2.8 .1 2.5 .2-.1 .2-.5 .2 2.1 .2-2.7 .2 6.3 .2-3 .1-4.2 .2-3.3 .2 7.8 .2-2.1 .2-.4 .2-2.2 .2-1 .1-.9 .2 9.3 .2-2 .2-4.5 .2 5 .2-7.8 .1 5.4 .2 0 .2-3.3 .2 .8 .2-1.2 .2 2.2 .2 2.7 .1-.7 .2-1.2 .2 1.5 .2-6.2 .2 8.1 .2-4.4 .2-2.7 .1 2 .2-.6 .2 1.5 .2 .5 .2-5.6 .2 7.6 .1 1 .2-5.9 .2 5.3 .2-.5 .2-.5 .2 1.3 .2-6.4 .1 4.5 .2-3.8 .2 7.2 .2-7.1 .2-.6 .2 5 .2-1.1 .1-1.2 .2 .2 .2 1 .2 2.4 .2-5.3 .2 .3 .1 0 .2 1 .2 .2 .2-2.8 .2 3.4 .2-3.4 .2 2 .1 .1 .2 0 .2 3.7 .2 .3 .2-1.2 .2 1.1 .2-4.1 .1 3.6 .2-3.1 .2 .5 .2 .1 .2-3.5 .2 1.5 .1 1 .2 1.1 .2-1.1 .2-1.6 .2-.7 .2 2.5 .2-2.7 .1 0 .2 2.3 .2 .6 .2-2.2 .2-2.2 .2 4.5 .2 1.1 .1-2.7 .2 0 .2-4.3 .2 7 .2-4.4 .2 3.9 .2-2.9 .1 .9 .2-.2 .2-3.6 .2 10 .2-9.6 .2 3.6 .1-2.1 .2 1.2 .2 3.5 .2-7.3 .2 3.8 .2 1.3 .2-.9 .1 .5 .2-2.7 .2-2.1 .2 .6 .2 2 .2 2.4 .2-1.6 .1 3.4 .2-3.6 .2 .1 .2-.2 .2-4.5 .2 5.1 .1-4.1 .2 1.5 .2 6.1 .2-8.5 .2 2.9 .2 .2 .2-.6 .1-.6 .2-1.6 .2 5.7 .2-9.7 .2 1.9 .2 5.6 .2-2.6 .1-3.6 .2-.8 .2 1.1 .2 6.5 .2-5.8 .2-4.3 .1 2.5 .2-2.8 .2 4.5 .2-3.8 .2 1.6 .2-3.6 .2 3.7 .1-5.1 .2-1.4 .2-4.5 .2 .4 .2 .8 .2-3.7 .2 6.5 .1-8.1 .2-3.5 .2 3.1 .2-5.8 .2 .9 .2-3.1 .1-3.5 .2 4.2 .2-5.3 .2 1.1 .2-5.5 .2-4.6 .2-.7 .1 .7 .2-.1 .2-.1 .1-.5 .1 0 .2 0 .2 0 .2 0 .1 6.6 .2-3.4 .2-3.2 .2 6 .2-.3 .2-.5 .1 2.8 .2-3.7 .2 1.7 .2-.6 .2 5.5 .2-3.6 .2 3.7 .1 4.3 .2-1.1 .2 3.9 .2 5.6 .2-6.1 .2 7.9 .2-4.2 .1 .7 .2 4.4 .2 3.3 .2-3.3 .2 1.1 .2 1.8 .1 .3 .2 3.2 .2-1.4 .2 2 .2 2.3 .2-1.2 .2 4.6 .1-3.9 .2 .3 .2 7.4 .2-.8 .2-3.1 .2 2.3 .2-.8 .1-1.7 .2 3.2 .2-.6 .2 2.6 .2-7.2 .2 6.6 .1-1.3 .2-1.9 .2 .8 .2 .2 .2-2 .2 1.9 .2 3.3 .1-5.3 .2 2.8 .2-4.6 .2 4.3 .2 2.3 .2-1 .2 .2 .1-2.7 .2 4 .2-3.5 .2 4.2 .2-1.6 .2-1.5 .1 4.3 .2-4.4 .2 3.2 .2-2.3 .2-.3 .2 2.2 .2-1.5 .1-1.2 .2-.4 .2 .5 .2-.5 .2-1.2 .2-2 .2-4.1 .1 5.6 .2-.7 .2 3.1 .2-2.2 .2 1.2 .2 .9 .1-5.1 .2-2.4 .2 3.4 .2-4.2 .2 .1 .2 3.5 .2-3.1 .1 .4 .2-7.2 .2 2.5 .2 1.7 .2-7.4 .2 2.7 .2-.7 .1-8.5 .2 9 .2-7.4 .2 .1 .2 3.6 .2-10.7 .2 4.9 .1-3.7 .2 .3 .2-3 .2 4.8 .2-4.8 .1 0 .1 1.4 .1-1.4 .2 0 .2 0 .2 2.3 .2-1.3 .2-1 .2 0 .1 1.8 .2 1.9 .2-.7 .2 5 .2-8 .2 13 .2-6 .1-1.4 .2-.3 .2 8.2 .2 .5 .2-.8 .2 1.7 .1 1.8 .2-.3 .2 5.2 .2-.3 .2-.8 .2-2.8 .2 8.5 .1-3.7 .2-.5 .2 6.5 .2-1.2 .2-5.4 .2 1.6 .2 3.7 .1-1.5 .2 3.2 .2 7.1 .2 1.3 .2-6.7 .2 2.4 .1 .6 .2-2 .2-2.9 .2 6.3 .2-2.6 .2 1.7 .2 .8 .1-3.2 .2 6 .2-3.5 .2 .5 .2-1.3 .2 2.8 .2 .8 .1-3.4 .2 2.7 .2-2.1 .2-1.7 .2 2.2 .2 2.2 .1 0 .2 1.3 .2-3.9 .2 1 .2 .9 .2 1.3 .2-1.6 .1-1.7 .2-1.3 .2 6.2 .2-.2 .2-3.8 .2 4.8 .2-3.3 .1 1.2 .2 1.8 .2-3.8 .2-.6 .2-2 .2 4.5 .1 .4 .2 .9 .2-.5 .2-1 .2 2.3 .2-4.7 .2 3.1 .1 .3 .2-1.3 .2 4 .2-2.7 .2 2 .2-1 .2-2.3 .1 4.6 .2-1.7 .2-2.4 .2-.2 .2-2 .2 2 .1-.2 .2 1 .2-1.4 .2 2.2 .2-1.4 .2-3.2 .2 2.4 .1-.9 .2-.8 .2 2.3 .2 2.5 .2-4.4 .2-1.9 .2 4 .1 6.8 .2-7.7 .2 1.9 .2-1.4 .2 2.7 .2 1.3 .1-3.4 .2 2.9 .2-4.9 .2 2.8 .2-3.2 .2 3.2 .2-1.7 .1 1.8 .2-2.9 .2 2.9 .2-.2 .2-1.5 .2-.5 .2-.8 .1 1.7 .2 1.8 .2-1.2 .2 .7 .2 2.3 .2-3.3 .1 1.3 .2 1.1 .2-.6 .2-.3 .2-.6 .2 3.9 .2-4.3 .1-.6 .2 2.1 .2 2.2 .2-.4 .2-3 .2 1.7 .2-.7 .1-.9 .2 1.3 .2-.1 .2-1 .2 3.4 .2-4.5 .1 3.8 .2 1.5 .2 0 .2-3.9 .2-1 .2-3 .2 3.3 .1 5.3 .2-8.5 .2 .1 .2 5 .2-.4 .2-5.2 .2 3.8 .1 .8 .2-3.9 .2 5.2 .2-4.8 .2 5.2 .2-2 .2-1.9 .1-1.9 .2 2.7 .2 .5 .2-.1 .2-.9 .2 .8 .1 2.3 .2-3.8 .2 1.5 .2 1.4 .2-1 .2 1.9 .2 1.4 .1-4 .2 1.2 .2-6.6 .2 5.4 .2 2.2 .2-3.8 .2 5.2 .1-6.8 .2 6.8 .2-3.9 .2-1.1 .2 1.1 .2 .5 .1-1.6 .2-.7 .2 1.8 .2 3.1 .2-1.2 .2 2 .2-4.1 .1 .5 .2 .1 .2 1 .2 .7 .2 2.7 .2-2.2 .2-1.2 .1 2.5 .2-4.5 .2-1.1 .2 4.2 .2-1.1 .2-.1 .1 1.8 .2-2.7 .2 .5 .2 1 .2 .6 .2 .7 .2-1.9 .1 .3 .2-5.6 .2 7.7 .2-5.9 .2 3.2 .2 5.4 .2-6 .1-2.6 .2 6.7 .2-4.6 .2 .8 .2 0 .2 1.9 .1 .1 .2-1.9 .2 2.6 .2-4.2 .2 3.3 .2-2.7 .2 2.7 .1-2.8 .2 .4 .2 4.1 .2-5.5 .2-.1 .2 3.7 .2-1.8 .1-.3 .2 .6 .2 4.7 .2-6.6 .2 1.6 .2 .9 .1-2.3 .2 1.9 .2 1.1 .2-3 .2 4.3 .2-4.8 .2 2.1 .1 1 .2 6 .2-10.4 .2 4.3 .2 4.7 .2-6.5 .2 3.5 .1-1.8 .2-3.5 .2 3.8 .2-2.7 .2 2.1 .2-3.4 .1 4.7 .2-6.6 .2 4.7 .2 3.1 .2-1.6 .2-1.9 .2 .3 .1-.4 .2 6.6 .2-5.9 .2 .1 .2-1.5 .2 .5 .2 2.3 .1-2.6 .2-.4 .2 .6 .2 .4 .2 1.1 .2-1.4 .1 .6 .2-1.2 .2 4.2 .2-2.4 .2-.9 .2 1.3 .2-.7 .1-3.3 .2 3 .2 3.8 .2-2.4 .2 1.4 .2-3.9 .2-1.7 .1 1.6 .2 4.4 .2-5 .2 .4 .2 4 .2-2.9 .1 .1 .2 1.3 .2-.7 .2-.8 .2 1.2 .2-2.1 .2 1.4 .1 1.5 .2-3.7 .2 1.8 .2-2 .2 4 .2-.3 .2 .7 .1 .2 .2 0 .2-.7 .2-3.2 .2 3.6 .2-3.9 .1 6.9 .2-4.4 .2 .7 .2-4 .2 5 .2 .2 .2-5.9 .1 2.1 .2 .2 .2-.4 .2 4.3 .2 1.7 .2-7 .2 4.5 .1-2.8 .2 3.5 .2-8.3 .2 4.4 .2 3.5 .2-4.3 .2 4.2 .1-3.7 .2 3.5 .2-1.2 .2-2.2 .2-.8 .2 1.3 .1 2.8 .2-2.5 .2-1.5 .2 8.6 .2-10.7 .2 2.9 .2 1.7 .1-3.5 .2 2.2 .2-1 .2-2.3 .2 4.2 .2-3.6 .2 .8 .1 4.3 .2-5.2 .2 3.7 .2 1.3 .2-.5 .2-1.2 .1-1.7 .2-2.6 .2 3.3 .2 .6 .2-2.2 .2-1.1 .2 4 .1-4.3 .2 3.2 .2-2.1 .2-2.8 .2 7.2 .2-2.3 .2-.3 .1-4.5 .2 2.8 .2 .7 .2-2.4 .2 5.3 .2-8.5 .1 6 .2-6.1 .2 .5 .2 .5 .2 4 .2-3.2 .2-.1 .1-.8 .2-1.6 .2 1 .2-.5 .2 1.2 .2-.5 .2-5.2 .1 3.7 .2 4 .2-4.5 .2 .5 .2-2.1 .2-.5 .1 .8 .2-3.7 .2 2.1 .2-4.4 .2 4.1 .2-5.6 .2 4.7 .1-.1 .2-7.7 .2 4.8 .2-3.9 .2 2.9 .2-5.6 .2-.7 .1-1.3 .2 2.7 .2-9.9 .2 5.8 .2-3.2 .2-3.1 .1-.7 .2 1.8 .2-1.6 .2 1.2 .2-7.7 .2-1.1 .2 0 .1 0 .2 0 0 3.1 .2 2.5 .2-5.6 .2 0 .2 1.8 .2-1.8 .1 0 .2 2.2 .2-.8 .2-.5 .2 1.7 .2 2.2 .1 .6 .2 4.9 .2-10.3 .2 4.7 .2 1.7 .2 5.1 .2-.4 .1 3 .2-4.8 .2 4.5 .2 3.6 .2-.6 .2 .4 .2 2.9 .1 4.7 .2-8.5 .2 10.5 .2-2.3 .2-1.9 .2 4.8 .1-.7 .2 3.7 .2-4.2 .2 5.1 .2-3.9 .2 3.7 .2 1.5 .1-1.3 .2 2.2 .2-2.4 .2 4.4 .2-3.3 .2 0 .2 1.7 .1 .5 .2-1.5 .2 4.2 .2-1.9 .2 2 .2-4.6 .1 .7 .2 2.6 .2-1.4 .2 2.1 .2 1.8 .2 1.4 .2 1 .1-1.4 .2-3.2 .2 3 .2-2.3 .2 2.5 .2-3.4 .2 5.5 .1-2 .2-1.5 .2-2.3 .2 3.8 .2-1.7 .2 1.8 .1-2.1 .2 .5 .2 2.7 .2 1.9 .2-6 .2 2.5 .2 1.3 .1-1.1 .2-.6 .2 5.8 .2-6.5 .2 2.7 .2-1.8 .2 .9 .1-4.8 .2 7 .2-2.3 .2-1.6 .2 5.7 .2-4.2 .1-.6 .2-.5 .2 4.2" stroke="#00807F"/></g>
<g fill="#000"><g transform="translate(251.5 19.9)"><path transform="rotate(0)" d="M-1.15 .6L-1.85-8L0-7.3L1.85-8L1.15 .6Z"/><path transform="rotate(72)" d="M-1.15 .6L-1.85-8L0-7.3L1.85-8L1.15 .6Z"/><path transform="rotate(144)" d="M-1.15 .6L-1.85-8L0-7.3L1.85-8L1.15 .6Z"/><path transform="rotate(216)" d="M-1.15 .6L-1.85-8L0-7.3L1.85-8L1.15 .6Z"/><path transform="rotate(288)" d="M-1.15 .6L-1.85-8L0-7.3L1.85-8L1.15 .6Z"/><circle r="1.9"/></g><g transform="translate(295.9 284.8)"><path transform="rotate(0)" d="M-1.15 .6L-1.85-8L0-7.3L1.85-8L1.15 .6Z"/><path transform="rotate(72)" d="M-1.15 .6L-1.85-8L0-7.3L1.85-8L1.15 .6Z"/><path transform="rotate(144)" d="M-1.15 .6L-1.85-8L0-7.3L1.85-8L1.15 .6Z"/><path transform="rotate(216)" d="M-1.15 .6L-1.85-8L0-7.3L1.85-8L1.15 .6Z"/><path transform="rotate(288)" d="M-1.15 .6L-1.85-8L0-7.3L1.85-8L1.15 .6Z"/><circle r="1.9"/></g><g transform="translate(421.6 199.3)"><path transform="rotate(0)" d="M-1.15 .6L-1.85-8L0-7.3L1.85-8L1.15 .6Z"/><path transform="rotate(72)" d="M-1.15 .6L-1.85-8L0-7.3L1.85-8L1.15 .6Z"/><path transform="rotate(144)" d="M-1.15 .6L-1.85-8L0-7.3L1.85-8L1.15 .6Z"/><path transform="rotate(216)" d="M-1.15 .6L-1.85-8L0-7.3L1.85-8L1.15 .6Z"/><path transform="rotate(288)" d="M-1.15 .6L-1.85-8L0-7.3L1.85-8L1.15 .6Z"/><circle r="1.9"/></g><g transform="translate(505.0 250.6)"><path transform="rotate(0)" d="M-1.15 .6L-1.85-8L0-7.3L1.85-8L1.15 .6Z"/><path transform="rotate(72)" d="M-1.15 .6L-1.85-8L0-7.3L1.85-8L1.15 .6Z"/><path transform="rotate(144)" d="M-1.15 .6L-1.85-8L0-7.3L1.85-8L1.15 .6Z"/><path transform="rotate(216)" d="M-1.15 .6L-1.85-8L0-7.3L1.85-8L1.15 .6Z"/><path transform="rotate(288)" d="M-1.15 .6L-1.85-8L0-7.3L1.85-8L1.15 .6Z"/><circle r="1.9"/></g><g transform="translate(537.3 376.1)"><path transform="rotate(0)" d="M-1.15 .6L-1.85-8L0-7.3L1.85-8L1.15 .6Z"/><path transform="rotate(72)" d="M-1.15 .6L-1.85-8L0-7.3L1.85-8L1.15 .6Z"/><path transform="rotate(144)" d="M-1.15 .6L-1.85-8L0-7.3L1.85-8L1.15 .6Z"/><path transform="rotate(216)" d="M-1.15 .6L-1.85-8L0-7.3L1.85-8L1.15 .6Z"/><path transform="rotate(288)" d="M-1.15 .6L-1.85-8L0-7.3L1.85-8L1.15 .6Z"/><circle r="1.9"/></g><g transform="translate(625.0 388.9)"><path transform="rotate(0)" d="M-1.15 .6L-1.85-8L0-7.3L1.85-8L1.15 .6Z"/><path transform="rotate(72)" d="M-1.15 .6L-1.85-8L0-7.3L1.85-8L1.15 .6Z"/><path transform="rotate(144)" d="M-1.15 .6L-1.85-8L0-7.3L1.85-8L1.15 .6Z"/><path transform="rotate(216)" d="M-1.15 .6L-1.85-8L0-7.3L1.85-8L1.15 .6Z"/><path transform="rotate(288)" d="M-1.15 .6L-1.85-8L0-7.3L1.85-8L1.15 .6Z"/><circle r="1.9"/></g><g transform="translate(688.5 357.4)"><path transform="rotate(0)" d="M-1.15 .6L-1.85-8L0-7.3L1.85-8L1.15 .6Z"/><path transform="rotate(72)" d="M-1.15 .6L-1.85-8L0-7.3L1.85-8L1.15 .6Z"/><path transform="rotate(144)" d="M-1.15 .6L-1.85-8L0-7.3L1.85-8L1.15 .6Z"/><path transform="rotate(216)" d="M-1.15 .6L-1.85-8L0-7.3L1.85-8L1.15 .6Z"/><path transform="rotate(288)" d="M-1.15 .6L-1.85-8L0-7.3L1.85-8L1.15 .6Z"/><circle r="1.9"/></g><g transform="translate(716.4 374.2)"><path transform="rotate(0)" d="M-1.15 .6L-1.85-8L0-7.3L1.85-8L1.15 .6Z"/><path transform="rotate(72)" d="M-1.15 .6L-1.85-8L0-7.3L1.85-8L1.15 .6Z"/><path transform="rotate(144)" d="M-1.15 .6L-1.85-8L0-7.3L1.85-8L1.15 .6Z"/><path transform="rotate(216)" d="M-1.15 .6L-1.85-8L0-7.3L1.85-8L1.15 .6Z"/><path transform="rotate(288)" d="M-1.15 .6L-1.85-8L0-7.3L1.85-8L1.15 .6Z"/><circle r="1.9"/></g><g transform="translate(804.3 378.1)"><path transform="rotate(0)" d="M-1.15 .6L-1.85-8L0-7.3L1.85-8L1.15 .6Z"/><path transform="rotate(72)" d="M-1.15 .6L-1.85-8L0-7.3L1.85-8L1.15 .6Z"/><path transform="rotate(144)" d="M-1.15 .6L-1.85-8L0-7.3L1.85-8L1.15 .6Z"/><path transform="rotate(216)" d="M-1.15 .6L-1.85-8L0-7.3L1.85-8L1.15 .6Z"/><path transform="rotate(288)" d="M-1.15 .6L-1.85-8L0-7.3L1.85-8L1.15 .6Z"/><circle r="1.9"/></g><g transform="translate(675.7 240.0)"><path transform="rotate(0)" d="M-1.15 .6L-1.85-8L0-7.3L1.85-8L1.15 .6Z"/><path transform="rotate(72)" d="M-1.15 .6L-1.85-8L0-7.3L1.85-8L1.15 .6Z"/><path transform="rotate(144)" d="M-1.15 .6L-1.85-8L0-7.3L1.85-8L1.15 .6Z"/><path transform="rotate(216)" d="M-1.15 .6L-1.85-8L0-7.3L1.85-8L1.15 .6Z"/><path transform="rotate(288)" d="M-1.15 .6L-1.85-8L0-7.3L1.85-8L1.15 .6Z"/><circle r="1.9"/></g></g>
<rect x="512.5" y="0.5" width="386" height="212" fill="none" stroke="#3a3a3a" stroke-width="1.4"/>
<g font-family='"Liberation Serif", serif' font-weight="bold" font-size="28" letter-spacing="-0.4"><line x1="517" y1="19.5" x2="587" y2="19.5" stroke="#000000" stroke-width="2.6"/><text x="602.5" y="29.6" fill="#000000">Ce<tspan dy="12.3">0.8</tspan><tspan dy="-12.3">Sm</tspan><tspan dy="12.3">0.14</tspan><tspan dy="-12.3">Pr</tspan><tspan dy="12.3">0.06</tspan><tspan dy="-12.3">O</tspan><tspan dy="12.3">1.90</tspan></text><line x1="517" y1="69.0" x2="587" y2="69.0" stroke="#EB1C24" stroke-width="2.6"/><text x="592.0" y="78.6" fill="#E8202A">Ce<tspan dy="12.3">0.8</tspan><tspan dy="-12.3">Sm</tspan><tspan dy="12.3">0.11</tspan><tspan dy="-12.3">Pr</tspan><tspan dy="12.3">0.09</tspan><tspan dy="-12.3">O</tspan><tspan dy="12.3">1.90</tspan></text><line x1="517" y1="118.5" x2="587" y2="118.5" stroke="#23419B" stroke-width="2.6"/><text x="592.0" y="128.4" fill="#3B53A8">Ce<tspan dy="12.3">0.8</tspan><tspan dy="-12.3">Sm</tspan><tspan dy="12.3">0.08</tspan><tspan dy="-12.3">Pr</tspan><tspan dy="12.3">0.12</tspan><tspan dy="-12.3">O</tspan><tspan dy="12.3">1.90</tspan></text><line x1="517" y1="183.7" x2="587" y2="183.7" stroke="#007373" stroke-width="2.6"/><text x="592.0" y="192.7" fill="#0E8080">Ce<tspan dy="12.3">0.8</tspan><tspan dy="-12.3">Sm</tspan><tspan dy="12.3">0.2</tspan><tspan dy="-12.3">O</tspan><tspan dy="12.3">1.90</tspan></text></g>
<g font-family='"Liberation Sans", sans-serif' font-weight="bold" fill="#000">
<text x="694.1" y="254.4" font-size="29">CeO</text>
<text x="755.8" y="274.4" font-size="29">2</text>
<text x="771.9" y="254.4" font-size="29">(34-0394)</text>
</g>
</svg>
</body></html>
